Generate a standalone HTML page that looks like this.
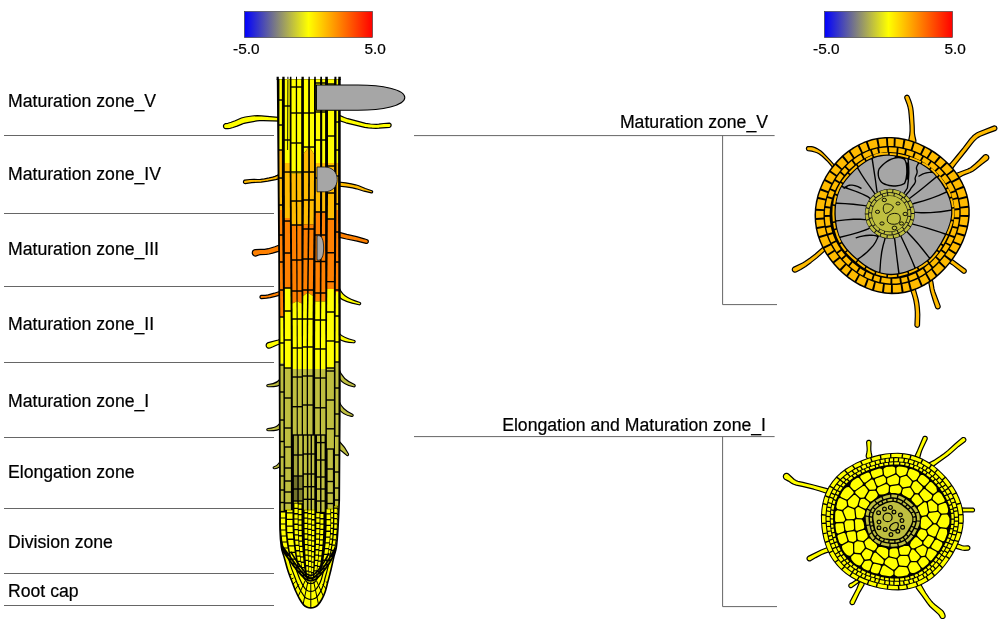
<!DOCTYPE html>
<html lang="en"><head><meta charset="utf-8"><title>Root expression map</title>
<style>
html,body{margin:0;padding:0;background:#fff;}
body{width:1000px;height:622px;overflow:hidden;font-family:"Liberation Sans",Arial,sans-serif;}
svg{display:block;}
text{font-family:"Liberation Sans",Arial,sans-serif;fill:#000;stroke:#000;stroke-width:0.22px;}
svg{will-change:transform;}
.t18{font-size:17.65px;}
.t16{font-size:15.4px;}
.ln{stroke:#666;stroke-width:1;}
</style></head><body>
<svg width="1000" height="622" viewBox="0 0 1000 622">
<defs><linearGradient id="cb" x1="0" x2="1" y1="0" y2="0"><stop offset="0" stop-color="#0000ff"/><stop offset="0.5" stop-color="#ffff00"/><stop offset="1" stop-color="#ff0000"/></linearGradient></defs>
<rect x="244.5" y="11.5" width="128" height="26" fill="url(#cb)" stroke="#333" stroke-width="0.6"/>
<text x="233.0" y="54" class="t16">-5.0</text>
<text x="364.5" y="54" class="t16">5.0</text>
<rect x="824.5" y="11.5" width="128" height="26" fill="url(#cb)" stroke="#333" stroke-width="0.6"/>
<text x="813.0" y="54" class="t16">-5.0</text>
<text x="944.5" y="54" class="t16">5.0</text>
<line x1="4" x2="274" y1="135.5" y2="135.5" class="ln"/>
<line x1="4" x2="274" y1="213.5" y2="213.5" class="ln"/>
<line x1="4" x2="274" y1="286.5" y2="286.5" class="ln"/>
<line x1="4" x2="274" y1="362.5" y2="362.5" class="ln"/>
<line x1="4" x2="274" y1="437.5" y2="437.5" class="ln"/>
<line x1="4" x2="274" y1="508.5" y2="508.5" class="ln"/>
<line x1="4" x2="274" y1="573.5" y2="573.5" class="ln"/>
<line x1="4" x2="274" y1="605.5" y2="605.5" class="ln"/>
<text x="8" y="106.5" class="t18">Maturation zone_V</text>
<text x="8" y="180" class="t18">Maturation zone_IV</text>
<text x="8" y="255" class="t18">Maturation zone_III</text>
<text x="8" y="329.5" class="t18">Maturation zone_II</text>
<text x="8" y="406.5" class="t18">Maturation zone_I</text>
<text x="8" y="478" class="t18">Elongation zone</text>
<text x="8" y="547.5" class="t18">Division zone</text>
<text x="8" y="597" class="t18">Root cap</text>
<path class="ln" fill="none" d="M414 135.6H774.6M722.6 135.6V304.6H777"/>
<path class="ln" fill="none" d="M414 436.6H774.6M722.6 436.6V606.6H777"/>
<text x="768" y="127.5" class="t18" text-anchor="end">Maturation zone_V</text>
<text x="766" y="431" class="t18" text-anchor="end">Elongation and Maturation zone_I</text>
<g id="root">
<path d="M241.4 118 235.2 120.8 231.1 122.3 227.9 123.3 225.3 123.7 224.7 124 224 124.6 223.5 125.5 223.5 126.5 223.8 127.5 224.2 128 224.7 128.4 225.7 128.7 227.9 128.7 229.7 128.5 233 127.5 237.1 126.1 242 124.1 244.1 123.3 246.3 122.8 257 120.9 259.7 120.6 263.4 120.6 281 121.2 281.7 121.1 282.3 120.7 282.7 120.1 282.9 119.4 282.7 118.7 282.3 118.1 281.9 117.8 281.2 117.6 261.5 115.8 257.4 115.6 252 116 245.2 117Z" fill="#ffff00" stroke="#000" stroke-width="1.2" stroke-linejoin="round"/>
<path d="M337.3 114.9 336.7 115.2 336.1 115.6 335.6 116.5 335.4 117.2 335.4 117.8 335.7 118.8 336.4 119.6 337 119.9 345.9 122.8 364.7 127.4 368.3 127.9 372.1 128.2 376 128.3 379 128.2 389.6 127.3 390.3 126.9 390.7 126.5 391.1 125.5 391.1 124.6 390.7 123.9 390.1 123.3 389.3 123.1 383.7 123.5 378.8 124.1 376.3 124.3 370.5 124 365.6 123.4 347.8 118.7 344.4 117.5 339 115.1 338 114.8Z" fill="#ffff00" stroke="#000" stroke-width="1.2" stroke-linejoin="round"/>
<path d="M253.6 179.3 249.9 179.5 244.7 180.1 244.1 180.4 243.7 180.9 243.5 181.6 243.5 182.3 243.8 182.9 244.1 183.2 244.7 183.5 245.2 183.6 251.8 182.6 261.1 182.2 267.8 181.2 275.7 179.7 282.9 177.8 283.4 177.5 284 176.8 284.3 175.9 284.3 175.3 284 174.4 283.4 173.7 282.6 173.3 281.7 173.3 281.1 173.4 277.2 175.4 275 176.4 272.5 177.1 269.1 177.9 264.4 178.8 260.5 179.4 257.9 179.5Z" fill="#ffbb00" stroke="#000" stroke-width="1.2" stroke-linejoin="round"/>
<path d="M337.5 182 336.6 182.6 336.1 183.2 336 184.3 336.1 184.8 336.6 185.4 337.5 186 346 186.8 352.5 187.9 356.4 188.8 364.1 191.2 371.3 192.9 372.1 192.8 372.4 192.5 372.6 192.1 372.6 191.4 372.3 191 371.9 190.7 365.3 188.5 358.8 185.8 355.6 184.8 351.3 183.8 345.7 182.8 338.3 182Z" fill="#ffbb00" stroke="#000" stroke-width="1.2" stroke-linejoin="round"/>
<path d="M260.7 249.4 255.1 249.6 253.9 250 252.9 250.8 252.4 252 252.3 253.2 252.7 254.4 253.2 255.1 253.9 255.6 254.7 255.9 255.5 256.1 256.3 255.9 258.8 255 260.2 254.6 266 254.5 269.1 254 272.6 253.2 277.7 251.7 284.4 249.1 285 248.6 285.5 248 285.8 247 285.8 246.2 285.5 245.2 284.7 244.3 283.7 243.8 282.6 243.8 274.8 246.7 268.3 248.7 264.6 249.4Z" fill="#ff8000" stroke="#000" stroke-width="1.2" stroke-linejoin="round"/>
<path d="M337.4 232.1 336.8 232.4 336.1 233 335.6 233.9 335.6 234.5 335.6 235.1 336.1 236 336.8 236.6 337.4 236.9 346.4 239 357.1 241.1 366.1 243.4 366.9 243.4 367.4 243.2 367.9 242.7 368.3 242 368.3 241 368.1 240.5 367.6 240 367.1 239.7 364.3 238.8 356.7 236.7 346.8 234.4 338.6 232.1 338 232.1Z" fill="#ff8000" stroke="#000" stroke-width="1.2" stroke-linejoin="round"/>
<path d="M268.2 294.8 265.3 295.3 261.2 295.4 260.6 295.7 260.2 296.2 260 296.8 260 297.4 260.3 298 260.6 298.3 261.2 298.6 261.6 298.6 266.6 298.2 270.2 297.6 275.4 296.3 282.7 294.3 283.3 293.9 283.6 293.5 283.8 293.1 283.8 292.4 283.6 291.7 283.1 291.1 282.5 290.8 281.8 290.8 274.3 293.2Z" fill="#ff8000" stroke="#000" stroke-width="1.2" stroke-linejoin="round"/>
<path d="M339 287 C341 294 346 298 360 302.5 C361.5 303.5 360.5 305 359 304.8 C350 303 343 301 339 297 Z" fill="#ffff00" stroke="#000" stroke-width="1.1" stroke-linejoin="round"/>
<path d="M278.2 340 268.3 342.6 267.3 343.1 266.5 344 266.2 345 266.2 346.1 266.7 347.1 267.6 347.9 268.3 348.2 269 348.2 270.1 348 273 346.8 277.5 344.7 284.1 342.5 284.9 341.7 285.1 340.6 285 339.8 284.5 339.1 283.8 338.6 283 338.5 282.4 338.5Z" fill="#ffff00" stroke="#000" stroke-width="1.2" stroke-linejoin="round"/>
<path d="M339 333 C342 337 348 339 354.5 340.5 C356 341.5 355 343 353.5 342.8 C347 342.5 342 341 339 339 Z" fill="#ffff00" stroke="#000" stroke-width="1.1" stroke-linejoin="round"/>
<path d="M281 377 C280 381 277 383.5 268 384.5 C266 385 266.5 386.8 268.5 386.8 C275 387 279 386 281.5 384 Z" fill="#bfbf40" stroke="#000" stroke-width="1.1" stroke-linejoin="round"/>
<path d="M339 369 C341 376 346 381 354.5 384.5 C356 385.5 355 387.2 353.5 386.8 C346 385.5 341.5 382 339 378 Z" fill="#bfbf40" stroke="#000" stroke-width="1.1" stroke-linejoin="round"/>
<path d="M281 420 C280 425 277 427.5 268 428.5 C266 429 266.5 430.8 268.5 430.8 C275 431 279 430 281.5 428 Z" fill="#bfbf40" stroke="#000" stroke-width="1.1" stroke-linejoin="round"/>
<path d="M339 401 C341 407 345 411 352.5 414.2 C354 415 353 416.8 351.5 416.4 C346 415.5 341.5 413 339 409 Z" fill="#bfbf40" stroke="#000" stroke-width="1.1" stroke-linejoin="round"/>
<path d="M281 458 C280 463 278 465.5 274 466.8 C272.5 467.4 273 469 274.8 468.8 C278 468.4 280.5 466.5 281.8 464 Z" fill="#bfbf40" stroke="#000" stroke-width="1.1" stroke-linejoin="round"/>
<path d="M339 441 C342 444 346 449 348.5 454 C349 455.5 347.5 456.2 346.5 455.2 C343.5 452.5 341 450.5 339 449.5 Z" fill="#bfbf40" stroke="#000" stroke-width="1.1" stroke-linejoin="round"/>
<path d="M277.6 79 L279 250 L279.6 400 L279.9 500  C279.9 505 279.8 522.2 280 530 C280.2 537.8 280.7 542.6 281.3 547 C281.9 551.4 282.8 552.6 283.9 556.4 C285 560.2 286.3 565.6 287.7 570 C289.1 574.4 291 579.1 292.4 582.7 C293.8 586.3 294.8 589.1 296 591.8 C297.2 594.5 298.3 596.8 299.6 599 C300.9 601.2 302.3 603.5 303.6 604.9 C304.9 606.3 306 606.8 307.2 607.3 C308.4 607.8 309.6 607.9 310.8 607.9 C312 607.9 313.2 607.8 314.4 607.3 C315.6 606.8 316.7 606.3 318 604.9 C319.3 603.5 320.8 601.2 322 599 C323.2 596.8 324.3 594.5 325.2 591.8 C326.1 589.1 326.7 586.3 327.6 582.7 C328.6 579.1 329.8 574.4 330.9 570 C332 565.6 333.1 560.2 334 556.4 C334.9 552.6 335.8 551.4 336.4 547 C337 542.6 337.4 537.8 337.9 530 C338.4 522.2 339.1 505 339.3 500 L339.9 400 L339.9 79 Z" fill="#000"/>
<path fill="#000" d="M276.6 76.8 H278.8 V80 H276.6 Z M282.3 76.8 H284.6 V80 H282.3 Z M287.4 76.8 H288.4 V80 H287.4 Z M289.9 76.8 H291.4 V80 H289.9 Z M296 76.8 H297 V80 H296 Z M301.5 76.8 H303.8 V80 H301.5 Z M308.5 76.8 H309.8 V80 H308.5 Z M314.2 76.8 H315.8 V80 H314.2 Z M320.3 76.8 H322 V80 H320.3 Z M325.3 76.8 H327.8 V80 H325.3 Z M334.4 76.8 H336.4 V80 H334.4 Z M338.3 76.8 H340.8 V80 H338.3 Z"/>
<path fill="#ffff00" d="M279.4 79.3 L281.9 79.3 L281.9 99.3 L279.4 99.3 Z"/>
<path fill="#ffff00" d="M279.4 100.7 L281.9 100.7 L281.9 124.3 L279.4 124.3 Z"/>
<path fill="#ffff00" d="M279.4 125.7 L281.9 125.7 L281.9 149.3 L279.4 149.3 Z"/>
<path fill="#ffbb00" d="M279.4 150.7 L281.9 150.7 L281.9 177.3 L279.4 177.3 Z"/>
<path fill="#ffbb00" d="M279.4 178.7 L281.9 178.7 L282 204.3 L279.5 204.3 Z"/>
<path fill="#ffbb00" d="M279.6 205.7 L282 205.7 L282.1 210 L279.6 210 Z"/>
<path fill="#ff8000" d="M279.6 210 L282.1 210 L282.3 234.3 L279.7 234.3 Z"/>
<path fill="#ff8000" d="M279.7 235.7 L282.3 235.7 L282.6 261.3 L279.9 261.3 Z"/>
<path fill="#ff8000" d="M279.9 262.7 L282.6 262.7 L282.9 289.3 L280.1 289.3 Z"/>
<path fill="#ff8000" d="M280.1 290.7 L282.9 290.7 L283.2 316.3 L280.3 316.3 Z"/>
<path fill="#ffff00" d="M280.3 317.7 L283.2 317.7 L283.4 342.3 L280.3 342.3 Z"/>
<path fill="#ffff00" d="M280.3 343.7 L283.4 343.7 L283.4 363 L280.3 363 Z"/>
<path fill="#bfbf40" d="M280.3 363 L283.4 363 L283.4 364.3 L280.3 364.3 Z"/>
<path fill="#bfbf40" d="M280.3 365.7 L283.4 365.7 L283.4 391.3 L280.3 391.3 Z"/>
<path fill="#bfbf40" d="M280.3 392.7 L283.4 392.7 L283.4 419.3 L280.3 419.3 Z"/>
<path fill="#bfbf40" d="M280.3 420.7 L283.4 420.7 L283.4 440.8 L280.3 440.8 Z"/>
<path fill="#ffff00" d="M284.8 79.3 L289.7 79.3 L289.7 105.3 L284.8 105.3 Z"/>
<path fill="#ffff00" d="M284.8 106.7 L289.7 106.7 L289.7 139.3 L284.8 139.3 Z"/>
<path fill="#ffff00" d="M284.8 140.7 L289.7 140.7 L289.7 163 L284.8 163 Z"/>
<path fill="#ffbb00" d="M284.8 163 L289.7 163 L289.7 171.3 L284.8 171.3 Z"/>
<path fill="#ffbb00" d="M284.8 172.7 L289.7 172.7 L289.9 218 L284.9 218 Z"/>
<path fill="#ff8000" d="M284.9 218 L289.9 218 L289.9 220.3 L284.9 220.3 Z"/>
<path fill="#ff8000" d="M284.9 221.7 L289.9 221.7 L290.1 252.3 L284.9 252.3 Z"/>
<path fill="#ff8000" d="M284.9 253.7 L290.2 253.7 L290.4 287.3 L284.9 287.3 Z"/>
<path fill="#ffff00" d="M284.9 288.7 L290.4 288.7 L290.6 310.3 L284.9 310.3 Z"/>
<path fill="#ffff00" d="M284.9 311.7 L290.6 311.7 L290.8 339.3 L284.9 339.3 Z"/>
<path fill="#ffff00" d="M284.9 340.7 L290.8 340.7 L290.8 367.3 L284.9 367.3 Z"/>
<path fill="#bfbf40" d="M284.9 368.7 L290.8 368.7 L290.8 397.3 L284.9 397.3 Z"/>
<path fill="#bfbf40" d="M284.9 398.7 L290.8 398.7 L290.8 427.3 L284.9 427.3 Z"/>
<path fill="#bfbf40" d="M284.9 428.7 L290.8 428.7 L290.8 446.3 L284.9 446.3 Z"/>
<path fill="#ffff00" d="M291.5 79.3 L295.8 79.3 L295.8 86.3 L291.5 86.3 Z"/>
<path fill="#ffff00" d="M291.5 87.7 L295.8 87.7 L295.8 112.3 L291.5 112.3 Z"/>
<path fill="#ffff00" d="M291.5 113.7 L295.8 113.7 L295.8 142.3 L291.5 142.3 Z"/>
<path fill="#ffff00" d="M291.5 143.7 L295.8 143.7 L295.8 171.3 L291.5 171.3 Z"/>
<path fill="#ffff00" d="M291.5 172.7 L295.8 172.7 L295.8 173.5 L291.5 173.5 Z"/>
<path fill="#ffbb00" d="M291.5 173.5 L295.8 173.5 L295.8 200.3 L291.6 200.3 Z"/>
<path fill="#ffbb00" d="M291.7 201.7 L295.8 201.7 L296 224.3 L291.8 224.3 Z"/>
<path fill="#ff8000" d="M291.9 225.7 L296 225.7 L296.2 259.3 L292.1 259.3 Z"/>
<path fill="#ff8000" d="M292.2 260.7 L296.2 260.7 L296.4 290.3 L292.4 290.3 Z"/>
<path fill="#ff8000" d="M292.4 291.7 L296.4 291.7 L296.5 301.5 L292.5 303.5 Z"/>
<path fill="#ffff00" d="M292.5 303.5 L296.5 301.5 L296.6 318.3 L292.6 318.3 Z"/>
<path fill="#ffff00" d="M292.7 319.7 L296.6 319.7 L296.7 347.3 L292.8 347.3 Z"/>
<path fill="#ffff00" d="M292.8 348.7 L296.7 348.7 L296.7 369 L292.8 369 Z"/>
<path fill="#bfbf40" d="M292.8 369 L296.7 369 L296.7 376.3 L292.8 376.3 Z"/>
<path fill="#bfbf40" d="M292.8 377.7 L296.7 377.7 L296.7 406 L292.8 406 Z"/>
<path fill="#bfbf40" d="M292.8 407.4 L296.7 407.4 L296.7 434.3 L292.8 434.3 Z"/>
<path fill="#ffff00" d="M297.1 79.3 L301.2 79.3 L301.2 86.3 L297.1 86.3 Z"/>
<path fill="#ffff00" d="M297.1 87.7 L301.2 87.7 L301.2 112.3 L297.1 112.3 Z"/>
<path fill="#ffff00" d="M297.1 113.7 L301.2 113.7 L301.2 142.3 L297.1 142.3 Z"/>
<path fill="#ffff00" d="M297.1 143.7 L301.2 143.7 L301.2 171.3 L297.1 171.3 Z"/>
<path fill="#ffff00" d="M297.1 172.7 L301.2 172.7 L301.2 173.5 L297.1 173.5 Z"/>
<path fill="#ffbb00" d="M297.1 173.5 L301.2 173.5 L301.3 200.3 L297.2 200.3 Z"/>
<path fill="#ffbb00" d="M297.2 201.7 L301.3 201.7 L301.3 224.3 L297.3 224.3 Z"/>
<path fill="#ff8000" d="M297.3 225.7 L301.4 225.7 L301.4 259.3 L297.4 259.3 Z"/>
<path fill="#ff8000" d="M297.5 260.7 L301.5 260.7 L301.5 290.3 L297.6 290.3 Z"/>
<path fill="#ff8000" d="M297.6 291.7 L301.5 291.7 L301.6 303.5 L297.6 301.5 Z"/>
<path fill="#ffff00" d="M297.6 301.5 L301.6 303.5 L301.6 318.3 L297.7 318.3 Z"/>
<path fill="#ffff00" d="M297.7 319.7 L301.6 319.7 L301.7 347.3 L297.8 347.3 Z"/>
<path fill="#ffff00" d="M297.8 348.7 L301.7 348.7 L301.7 369 L297.8 369 Z"/>
<path fill="#bfbf40" d="M297.8 369 L301.7 369 L301.7 376.3 L297.8 376.3 Z"/>
<path fill="#bfbf40" d="M297.8 377.7 L301.7 377.7 L301.7 406 L297.8 406 Z"/>
<path fill="#bfbf40" d="M297.8 407.4 L301.7 407.4 L301.7 434.3 L297.8 434.3 Z"/>
<path fill="#ffff00" d="M303.9 79.3 L308.2 79.3 L308.2 112.3 L303.9 112.3 Z"/>
<path fill="#ffff00" d="M303.9 113.7 L308.2 113.7 L308.2 146.3 L303.9 146.3 Z"/>
<path fill="#ffff00" d="M303.9 147.7 L308.2 147.7 L308.2 147.7 L303.9 153.5 Z"/>
<path fill="#ffbb00" d="M303.9 153.5 L308.2 147.7 L308.2 171.3 L303.9 171.3 Z"/>
<path fill="#ffbb00" d="M303.9 172.7 L308.2 172.7 L308.1 199.3 L303.9 199.3 Z"/>
<path fill="#ffbb00" d="M303.9 200.7 L308.1 200.7 L307.9 224.5 L303.7 224.5 Z"/>
<path fill="#ff8000" d="M303.7 224.5 L307.9 224.5 L307.8 228.3 L303.7 228.3 Z"/>
<path fill="#ff8000" d="M303.7 229.7 L307.8 229.7 L307.5 258.3 L303.5 258.3 Z"/>
<path fill="#ff8000" d="M303.5 259.7 L307.5 259.7 L307.1 289.3 L303.3 289.3 Z"/>
<path fill="#ff8000" d="M303.3 290.7 L307.1 290.7 L307.1 293 L303.3 296 Z"/>
<path fill="#ffff00" d="M303.3 296 L307.1 293 L306.8 318.3 L303.1 318.3 Z"/>
<path fill="#ffff00" d="M303.1 319.7 L306.8 319.7 L306.7 346.3 L303 346.3 Z"/>
<path fill="#ffff00" d="M303 347.7 L306.7 347.7 L306.7 369 L303 369 Z"/>
<path fill="#bfbf40" d="M303 369 L306.7 369 L306.7 375.3 L303 375.3 Z"/>
<path fill="#bfbf40" d="M303 376.7 L306.7 376.7 L306.7 404.3 L303 404.3 Z"/>
<path fill="#bfbf40" d="M303 405.7 L306.7 405.7 L306.7 434.3 L303 434.3 Z"/>
<path fill="#ffff00" d="M309.9 79.3 L314 79.3 L314 112.3 L309.9 112.3 Z"/>
<path fill="#ffff00" d="M309.9 113.7 L314 113.7 L314 146.3 L309.9 146.3 Z"/>
<path fill="#ffff00" d="M309.9 147.7 L314 147.7 L314 154 L309.9 147.7 Z"/>
<path fill="#ffbb00" d="M309.9 147.7 L314 154 L314 171.3 L309.9 171.3 Z"/>
<path fill="#ffbb00" d="M309.9 172.7 L314 172.7 L313.9 199.3 L309.8 199.3 Z"/>
<path fill="#ffbb00" d="M309.8 200.7 L313.8 200.7 L313.6 224.5 L309.5 224.5 Z"/>
<path fill="#ff8000" d="M309.5 224.5 L313.6 224.5 L313.5 228.3 L309.4 228.3 Z"/>
<path fill="#ff8000" d="M309.4 229.7 L313.5 229.7 L313.2 258.3 L309 258.3 Z"/>
<path fill="#ff8000" d="M309 259.7 L313.2 259.7 L312.9 289.3 L308.6 289.3 Z"/>
<path fill="#ff8000" d="M308.6 290.7 L312.9 290.7 L312.8 296 L308.6 293 Z"/>
<path fill="#ffff00" d="M308.6 293 L312.8 296 L312.6 318.3 L308.2 318.3 Z"/>
<path fill="#ffff00" d="M308.2 319.7 L312.6 319.7 L312.5 346.3 L308 346.3 Z"/>
<path fill="#ffff00" d="M308 347.7 L312.5 347.7 L312.5 369 L308 369 Z"/>
<path fill="#bfbf40" d="M308 369 L312.5 369 L312.5 375.3 L308 375.3 Z"/>
<path fill="#bfbf40" d="M308 376.7 L312.5 376.7 L312.5 404.3 L308 404.3 Z"/>
<path fill="#bfbf40" d="M308 405.7 L312.5 405.7 L312.5 434.3 L308 434.3 Z"/>
<path fill="#ffff00" d="M315.9 79.3 L320.1 79.3 L320.1 82.3 L315.9 82.3 Z"/>
<path fill="#ffff00" d="M315.9 83.7 L320.1 83.7 L320.1 111.3 L315.9 111.3 Z"/>
<path fill="#ffff00" d="M315.9 112.7 L320.1 112.7 L320.1 139.3 L315.9 139.3 Z"/>
<path fill="#ffff00" d="M315.9 140.7 L320.1 140.7 L320.1 163 L315.9 163 Z"/>
<path fill="#ffbb00" d="M315.9 163 L320.1 163 L320.1 177.3 L315.9 177.3 Z"/>
<path fill="#ffbb00" d="M315.9 178.7 L320.1 178.7 L320 211.3 L315.8 211 Z"/>
<path fill="#ff8000" d="M315.8 211 L320 211.3 L320 211.3 L315.8 211.3 Z"/>
<path fill="#ffbb00" d="M315.8 212.7 L320 212.7 L320 213 L315.8 212.7 Z"/>
<path fill="#ff8000" d="M315.8 212.7 L320 213 L320 234.3 L315.7 234.3 Z"/>
<path fill="#ff8000" d="M315.7 235.7 L320 235.7 L319.9 260.8 L315.5 260.8 Z"/>
<path fill="#ff8000" d="M315.5 262.2 L319.9 262.2 L319.8 292.3 L315.4 292.3 Z"/>
<path fill="#ff8000" d="M315.4 293.7 L319.8 293.7 L319.8 301.5 L315.3 301.5 Z"/>
<path fill="#ffff00" d="M315.3 301.5 L319.8 301.5 L319.8 319.3 L315.2 319.3 Z"/>
<path fill="#ffff00" d="M315.2 320.7 L319.8 320.7 L319.8 348.3 L315.1 348.3 Z"/>
<path fill="#ffff00" d="M315.1 349.7 L319.8 349.7 L319.8 369 L315.1 369 Z"/>
<path fill="#bfbf40" d="M315.1 369 L319.8 369 L319.8 377.3 L315.1 377.3 Z"/>
<path fill="#bfbf40" d="M315.1 378.7 L319.8 378.7 L319.8 407.1 L315.1 407.1 Z"/>
<path fill="#bfbf40" d="M315.1 408.5 L319.8 408.5 L319.8 434.3 L315.1 434.3 Z"/>
<path fill="#ffff00" d="M322.2 79.3 L325.1 79.3 L325.1 82.3 L322.2 82.3 Z"/>
<path fill="#ffff00" d="M322.2 83.7 L325.1 83.7 L325.1 111.3 L322.2 111.3 Z"/>
<path fill="#ffff00" d="M322.2 112.7 L325.1 112.7 L325.1 139.3 L322.2 139.3 Z"/>
<path fill="#ffff00" d="M322.2 140.7 L325.1 140.7 L325.1 163 L322.2 163 Z"/>
<path fill="#ffbb00" d="M322.2 163 L325.1 163 L325.1 177.3 L322.2 177.3 Z"/>
<path fill="#ffbb00" d="M322.2 178.7 L325.1 178.7 L325.1 211.3 L322.1 211.3 Z"/>
<path fill="#ff8000" d="M322.1 212.7 L325.1 212.7 L325.1 234.3 L321.9 234.3 Z"/>
<path fill="#ff8000" d="M321.9 235.7 L325.1 235.7 L325.2 260.8 L321.6 260.8 Z"/>
<path fill="#ff8000" d="M321.6 262.2 L325.2 262.2 L325.3 292.3 L321.4 292.3 Z"/>
<path fill="#ff8000" d="M321.4 293.7 L325.3 293.7 L325.3 301.5 L321.3 301.5 Z"/>
<path fill="#ffff00" d="M321.3 301.5 L325.3 301.5 L325.3 319.3 L321.1 319.3 Z"/>
<path fill="#ffff00" d="M321.1 320.7 L325.3 320.7 L325.4 348.3 L321 348.3 Z"/>
<path fill="#ffff00" d="M321 349.7 L325.4 349.7 L325.4 369 L321 369 Z"/>
<path fill="#bfbf40" d="M321 369 L325.4 369 L325.4 377.3 L321 377.3 Z"/>
<path fill="#bfbf40" d="M321 378.7 L325.4 378.7 L325.4 407.1 L321 407.1 Z"/>
<path fill="#bfbf40" d="M321 408.5 L325.4 408.5 L325.4 434.3 L321 434.3 Z"/>
<path fill="#ffff00" d="M328 79.3 L334.1 79.3 L334.1 83.3 L328 83.3 Z"/>
<path fill="#ffff00" d="M328 84.7 L334.1 84.7 L334.1 135.3 L328 135.3 Z"/>
<path fill="#ffff00" d="M328 136.7 L334.1 136.7 L334.1 163 L328 163 Z"/>
<path fill="#ffbb00" d="M328 163 L334.1 163 L334.1 165.3 L328 165.3 Z"/>
<path fill="#ffbb00" d="M328 166.7 L334.1 166.7 L334 192.3 L328 192.3 Z"/>
<path fill="#ffbb00" d="M328 193.7 L334 193.7 L334 218.3 L327.8 218.3 Z"/>
<path fill="#ff8000" d="M327.8 219.7 L334 219.7 L334 252 L327.6 252 Z"/>
<path fill="#ff8000" d="M327.6 253.4 L334 253.4 L333.9 280.9 L327.3 280.9 Z"/>
<path fill="#ff8000" d="M327.3 282.3 L333.9 282.3 L333.9 289 L327.3 289 Z"/>
<path fill="#ffff00" d="M327.3 289 L333.9 289 L333.9 311.3 L327.1 311.3 Z"/>
<path fill="#ffff00" d="M327.1 312.7 L333.9 312.7 L333.9 340.3 L326.9 340.3 Z"/>
<path fill="#ffff00" d="M326.9 341.7 L333.9 341.7 L333.9 367.3 L326.9 367.3 Z"/>
<path fill="#bfbf40" d="M326.9 368.7 L333.9 368.7 L333.9 370.3 L326.9 370.3 Z"/>
<path fill="#bfbf40" d="M326.9 371.7 L333.9 371.7 L333.9 399.3 L326.9 399.3 Z"/>
<path fill="#bfbf40" d="M326.9 400.7 L333.9 400.7 L333.9 428.1 L326.9 428.1 Z"/>
<path fill="#bfbf40" d="M326.9 429.5 L333.9 429.5 L333.9 448.3 L326.9 448.3 Z"/>
<path fill="#ffff00" d="M336.5 79.3 L338.1 79.3 L338.1 95.3 L336.5 95.3 Z"/>
<path fill="#ffff00" d="M336.5 96.7 L338.1 96.7 L338.1 121.3 L336.5 121.3 Z"/>
<path fill="#ffff00" d="M336.5 122.7 L338.1 122.7 L338.1 149.3 L336.5 149.3 Z"/>
<path fill="#ffff00" d="M336.5 150.7 L338.1 150.7 L338.1 163 L336.5 163 Z"/>
<path fill="#ffbb00" d="M336.5 163 L338.1 163 L338.1 175.3 L336.5 175.3 Z"/>
<path fill="#ffbb00" d="M336.5 176.7 L338.1 176.7 L338.1 203.3 L336.5 203.3 Z"/>
<path fill="#ffbb00" d="M336.4 204.7 L338.1 204.7 L338.1 210 L336.4 210 Z"/>
<path fill="#ff8000" d="M336.4 210 L338.1 210 L338.2 231.3 L336.3 231.3 Z"/>
<path fill="#ff8000" d="M336.2 232.7 L338.2 232.7 L338.3 261.3 L336 261.3 Z"/>
<path fill="#ff8000" d="M336 262.7 L338.3 262.7 L338.3 289.3 L335.8 289.3 Z"/>
<path fill="#ff8000" d="M335.8 290.7 L338.3 290.7 L338.3 292 L335.8 292 Z"/>
<path fill="#ffff00" d="M335.8 292 L338.3 292 L338.4 315.3 L335.7 315.3 Z"/>
<path fill="#ffff00" d="M335.6 316.7 L338.4 316.7 L338.5 341.3 L335.5 341.3 Z"/>
<path fill="#ffff00" d="M335.5 342.7 L338.5 342.7 L338.5 361.3 L335.5 361.3 Z"/>
<path fill="#bfbf40" d="M335.5 362.7 L338.5 362.7 L338.5 387.3 L335.5 387.3 Z"/>
<path fill="#bfbf40" d="M335.5 388.7 L338.5 388.7 L338.5 413.3 L335.5 413.3 Z"/>
<path fill="#bfbf40" d="M335.5 414.7 L338.5 414.7 L338.5 435.3 L335.5 435.3 Z"/>
<path fill="#bfbf40" d="M280.4 442.2 L283.6 442.2 L283.6 456.3 L280.4 456.3 Z"/>
<path fill="#bfbf40" d="M280.4 457.7 L283.6 457.7 L283.6 475.3 L280.4 475.3 Z"/>
<path fill="#bfbf40" d="M280.4 476.7 L283.6 476.7 L283.6 489.3 L280.4 489.3 Z"/>
<path fill="#bfbf40" d="M280.4 490.7 L283.6 490.7 L283.6 501.8 L280.4 501.8 Z"/>
<path fill="#bfbf40" d="M280.4 503.2 L283.6 503.2 L283.6 510 L280.4 510 Z"/>
<path fill="#ffff00" d="M280.4 510 L283.6 510 L283.6 510.7 L280.4 510.7 Z"/>
<path fill="#bfbf40" d="M285.2 447.7 L290.9 447.7 L290.9 467.3 L285.2 467.3 Z"/>
<path fill="#bfbf40" d="M285.2 468.7 L290.9 468.7 L290.9 480.3 L285.2 480.3 Z"/>
<path fill="#bfbf40" d="M285.2 481.7 L290.9 481.7 L290.9 491.3 L285.2 491.3 Z"/>
<path fill="#bfbf40" d="M285.2 492.7 L290.9 492.7 L290.9 502.3 L285.2 502.3 Z"/>
<path fill="#bfbf40" d="M285.2 503.7 L290.9 503.7 L290.9 509 L285.2 509 Z"/>
<path fill="#ffff00" d="M285.2 509 L290.9 509 L290.9 509.7 L285.2 509.7 Z"/>
<path fill="#a6a63a" d="M293.9 435.7 L297.3 435.7 L297.3 454.3 L293.9 454.3 Z"/>
<path fill="#a6a63a" d="M293.9 455.7 L297.3 455.7 L297.3 475.3 L293.9 475.3 Z"/>
<path fill="#73732b" d="M293.9 476.7 L297.3 476.7 L297.3 488.3 L293.9 488.3 Z"/>
<path fill="#73732b" d="M293.9 489.7 L297.3 489.7 L297.3 500.3 L293.9 500.3 Z"/>
<path fill="#bfbf40" d="M293.9 501.7 L297.3 501.7 L297.3 502.5 L293.9 502.5 Z"/>
<path fill="#ffff00" d="M293.9 502.5 L297.3 502.5 L297.3 503.2 L293.9 503.2 Z"/>
<path fill="#bfbf40" d="M298.8 435.7 L302.3 435.7 L302.3 454.3 L298.8 454.3 Z"/>
<path fill="#bfbf40" d="M298.8 455.7 L302.3 455.7 L302.3 475.3 L298.8 475.3 Z"/>
<path fill="#85852f" d="M298.8 476.7 L302.3 476.7 L302.3 488.3 L298.8 488.3 Z"/>
<path fill="#85852f" d="M298.8 489.7 L302.3 489.7 L302.3 500.3 L298.8 500.3 Z"/>
<path fill="#bfbf40" d="M298.8 501.7 L302.3 501.7 L302.3 502.5 L298.8 502.5 Z"/>
<path fill="#ffff00" d="M298.8 502.5 L302.3 502.5 L302.3 503.2 L298.8 503.2 Z"/>
<path fill="#bfbf40" d="M303.9 435.7 L306.9 435.7 L306.9 453.3 L303.9 453.3 Z"/>
<path fill="#bfbf40" d="M303.9 454.7 L306.9 454.7 L306.9 473.3 L303.9 473.3 Z"/>
<path fill="#bfbf40" d="M303.9 474.7 L306.9 474.7 L306.9 486 L303.9 486 Z"/>
<path fill="#bfbf40" d="M303.9 487.4 L306.9 487.4 L306.9 498.6 L303.9 498.6 Z"/>
<path fill="#bfbf40" d="M303.9 500 L306.9 500 L306.9 509 L303.9 509 Z"/>
<path fill="#ffff00" d="M303.9 509 L306.9 509 L306.9 509.7 L303.9 509.7 Z"/>
<path fill="#bfbf40" d="M308.4 435.7 L310.6 435.7 L310.6 453.3 L308.4 453.3 Z"/>
<path fill="#bfbf40" d="M308.4 454.7 L310.6 454.7 L310.6 473.3 L308.4 473.3 Z"/>
<path fill="#bfbf40" d="M308.4 474.7 L310.6 474.7 L310.6 486 L308.4 486 Z"/>
<path fill="#bfbf40" d="M308.4 487.4 L310.6 487.4 L310.6 498.6 L308.4 498.6 Z"/>
<path fill="#bfbf40" d="M308.4 500 L310.6 500 L310.6 509 L308.4 509 Z"/>
<path fill="#ffff00" d="M308.4 509 L310.6 509 L310.6 509.7 L308.4 509.7 Z"/>
<path fill="#bfbf40" d="M312 435.7 L314.3 435.7 L314.3 453.3 L312 453.3 Z"/>
<path fill="#bfbf40" d="M312 454.7 L314.3 454.7 L314.3 473.3 L312 473.3 Z"/>
<path fill="#bfbf40" d="M312 474.7 L314.3 474.7 L314.3 486 L312 486 Z"/>
<path fill="#bfbf40" d="M312 487.4 L314.3 487.4 L314.3 498.6 L312 498.6 Z"/>
<path fill="#bfbf40" d="M312 500 L314.3 500 L314.3 509 L312 509 Z"/>
<path fill="#ffff00" d="M312 509 L314.3 509 L314.3 509.7 L312 509.7 Z"/>
<path fill="#bfbf40" d="M317 435.7 L320 435.7 L320 441.9 L317 441.9 Z"/>
<path fill="#bfbf40" d="M317 443.3 L320 443.3 L320 459.3 L317 459.3 Z"/>
<path fill="#bfbf40" d="M317 460.7 L320 460.7 L320 476.3 L317 476.3 Z"/>
<path fill="#bfbf40" d="M317 477.7 L320 477.7 L320 488.3 L317 488.3 Z"/>
<path fill="#bfbf40" d="M317 489.7 L320 489.7 L320 500.3 L317 500.3 Z"/>
<path fill="#bfbf40" d="M317 501.7 L320 501.7 L320 511 L317 511 Z"/>
<path fill="#ffff00" d="M317 511 L320 511 L320 511.7 L317 511.7 Z"/>
<path fill="#bfbf40" d="M321.5 435.7 L324.6 435.7 L324.6 441.9 L321.5 441.9 Z"/>
<path fill="#bfbf40" d="M321.5 443.3 L324.6 443.3 L324.6 459.3 L321.5 459.3 Z"/>
<path fill="#bfbf40" d="M321.5 460.7 L324.6 460.7 L324.6 476.3 L321.5 476.3 Z"/>
<path fill="#bfbf40" d="M321.5 477.7 L324.6 477.7 L324.6 488.3 L321.5 488.3 Z"/>
<path fill="#bfbf40" d="M321.5 489.7 L324.6 489.7 L324.6 500.3 L321.5 500.3 Z"/>
<path fill="#bfbf40" d="M321.5 501.7 L324.6 501.7 L324.6 511 L321.5 511 Z"/>
<path fill="#ffff00" d="M321.5 511 L324.6 511 L324.6 511.7 L321.5 511.7 Z"/>
<path fill="#bfbf40" d="M327.6 449.7 L332.9 449.7 L332.9 468.3 L327.6 468.3 Z"/>
<path fill="#bfbf40" d="M327.6 469.7 L332.9 469.7 L332.9 480.8 L327.6 480.8 Z"/>
<path fill="#bfbf40" d="M327.6 482.2 L332.9 482.2 L332.9 492.3 L327.6 492.3 Z"/>
<path fill="#bfbf40" d="M327.6 493.7 L332.9 493.7 L332.9 502.8 L327.6 502.8 Z"/>
<path fill="#bfbf40" d="M327.6 504.2 L332.9 504.2 L332.9 508 L327.6 508 Z"/>
<path fill="#ffff00" d="M327.6 508 L332.9 508 L332.9 508.7 L327.6 508.7 Z"/>
<path fill="#bfbf40" d="M335 436.7 L338.6 436.7 L338.6 454.3 L335 454.3 Z"/>
<path fill="#bfbf40" d="M335 455.7 L338.6 455.7 L338.6 471.3 L335 471.3 Z"/>
<path fill="#bfbf40" d="M335 472.7 L338.6 472.7 L338.6 487.3 L335 487.3 Z"/>
<path fill="#bfbf40" d="M335 488.7 L338.6 488.7 L338.6 499.3 L335 499.3 Z"/>
<path fill="#bfbf40" d="M335 500.7 L338.6 500.7 L338.6 505 L335 505 Z"/>
<path fill="#ffff00" d="M335 505 L338.6 505 L338.6 505.7 L335 505.7 Z"/>
<path d="M287.9 80 L287.6 150" stroke="#000" stroke-width="0.9" fill="none"/>
<clipPath id="rp"><path d="M278 500 L279.0 530 L280.8 546.5 L281 546.5 C282.2 548.1 285.5 552.6 288 556 C290.5 559.4 293.6 563.9 296 567 C298.4 570.1 300.8 572.7 302.5 574.6 C304.2 576.5 305.1 577.5 306.5 578.3 C307.9 579.1 309.4 579.6 310.8 579.6 C312.2 579.6 313.6 579.1 315 578.3 C316.4 577.5 317.2 576.6 319 574.6 C320.8 572.6 323.9 568.9 326 566 C328.1 563.1 329.7 560 331.5 557 C333.3 554 335.8 549.5 336.6 548 L338.2 530 L340 500 Z"/></clipPath>
<clipPath id="ro"><path d="M277.6 79 L279 250 L279.6 400 L279.9 500  C279.9 505 279.8 522.2 280 530 C280.2 537.8 280.7 542.6 281.3 547 C281.9 551.4 282.8 552.6 283.9 556.4 C285 560.2 286.3 565.6 287.7 570 C289.1 574.4 291 579.1 292.4 582.7 C293.8 586.3 294.8 589.1 296 591.8 C297.2 594.5 298.3 596.8 299.6 599 C300.9 601.2 302.3 603.5 303.6 604.9 C304.9 606.3 306 606.8 307.2 607.3 C308.4 607.8 309.6 607.9 310.8 607.9 C312 607.9 313.2 607.8 314.4 607.3 C315.6 606.8 316.7 606.3 318 604.9 C319.3 603.5 320.8 601.2 322 599 C323.2 596.8 324.3 594.5 325.2 591.8 C326.1 589.1 326.7 586.3 327.6 582.7 C328.6 579.1 329.8 574.4 330.9 570 C332 565.6 333.1 560.2 334 556.4 C334.9 552.6 335.8 551.4 336.4 547 C337 542.6 337.4 537.8 337.9 530 C338.4 522.2 339.1 505 339.3 500 L339.9 400 L339.9 79 Z"/></clipPath>
<clipPath id="rc"><path d="M281 546.5 C282.2 548.1 285.5 552.6 288 556 C290.5 559.4 293.6 563.9 296 567 C298.4 570.1 300.8 572.7 302.5 574.6 C304.2 576.5 305.1 577.5 306.5 578.3 C307.9 579.1 309.4 579.6 310.8 579.6 C312.2 579.6 313.6 579.1 315 578.3 C316.4 577.5 317.2 576.6 319 574.6 C320.8 572.6 323.9 568.9 326 566 C328.1 563.1 329.7 560 331.5 557 C333.3 554 335.8 549.5 336.6 548 L341 548 L341 612 L277 612 L277 546 Z"/></clipPath>
<g clip-path="url(#ro)"><g clip-path="url(#rc)">
<path d="M277 540 H341 V612 H277 Z" fill="#ffff00"/>
<path fill="none" stroke="#000" stroke-width="1.2" d="M285.4 546.6 C285.8 548 286.7 551.5 287.7 554.8 C288.6 558.1 289.7 562.8 290.9 566.6 C292.2 570.3 293.8 574.4 295 577.5 C296.2 580.7 297 583.1 298.1 585.4 C299.1 587.8 300.1 589.8 301.2 591.7 C302.3 593.5 303.5 595.6 304.6 596.8 C305.7 598 306.7 598.4 307.7 598.8 C308.7 599.3 309.8 599.4 310.8 599.4 C311.8 599.4 312.9 599.3 313.9 598.8 C314.9 598.4 315.9 598 317 596.8 C318.1 595.6 319.4 593.5 320.4 591.7 C321.5 589.8 322.4 587.8 323.2 585.4 C324 583.1 324.4 580.7 325.2 577.5 C326.1 574.4 327.2 570.3 328.1 566.6 C329 562.8 330 558.1 330.8 554.8 C331.5 551.5 332.5 548 332.8 546.6"/>
<path fill="none" stroke="#000" stroke-width="1.2" d="M289.3 546.3 C289.6 547.5 290.4 550.4 291.2 553.3 C291.9 556.1 292.9 560.1 293.9 563.3 C295 566.6 296.4 570.1 297.4 572.8 C298.4 575.4 299.1 577.5 300 579.5 C300.9 581.5 301.7 583.2 302.6 584.8 C303.5 586.4 304.6 588.2 305.5 589.2 C306.5 590.2 307.3 590.6 308.2 591 C309 591.3 309.9 591.4 310.8 591.4 C311.7 591.4 312.6 591.3 313.4 591 C314.3 590.6 315.1 590.2 316.1 589.2 C317 588.2 318.1 586.4 319 584.8 C319.9 583.2 320.6 581.5 321.3 579.5 C322 577.5 322.4 575.4 323.1 572.8 C323.8 570.1 324.7 566.6 325.5 563.3 C326.3 560.1 327.1 556.1 327.7 553.3 C328.4 550.4 329.2 547.5 329.5 546.3"/>
<path fill="none" stroke="#000" stroke-width="1.2" d="M293.1 546 C293.4 546.9 294 549.4 294.7 551.8 C295.3 554.1 296.1 557.4 296.9 560.1 C297.8 562.8 298.9 565.7 299.8 568 C300.6 570.2 301.2 571.9 301.9 573.6 C302.6 575.2 303.3 576.7 304.1 578 C304.8 579.4 305.7 580.8 306.5 581.6 C307.2 582.5 307.9 582.8 308.6 583.1 C309.4 583.4 310.1 583.5 310.8 583.5 C311.5 583.5 312.2 583.4 313 583.1 C313.7 582.8 314.4 582.5 315.1 581.6 C315.9 580.8 316.8 579.4 317.5 578 C318.2 576.7 318.9 575.2 319.4 573.6 C320 571.9 320.3 570.2 320.9 568 C321.4 565.7 322.2 562.8 322.9 560.1 C323.5 557.4 324.2 554.1 324.7 551.8 C325.3 549.4 325.9 546.9 326.2 546"/>
<path stroke="#000" stroke-width="1" d="M329.8 574.2 L360.3 584.1"/>
<path stroke="#000" stroke-width="1" d="M328.1 578 L355.8 594"/>
<path stroke="#000" stroke-width="1" d="M325.7 581.4 L349.4 602.8"/>
<path stroke="#000" stroke-width="1" d="M322.6 584.2 L341.4 610.1"/>
<path stroke="#000" stroke-width="1" d="M316.5 580.8 L332 615.5"/>
<path stroke="#000" stroke-width="1" d="M313.7 581.7 L321.6 618.9"/>
<path stroke="#000" stroke-width="1" d="M310.8 582 L310.8 620"/>
<path stroke="#000" stroke-width="1" d="M307.9 581.7 L300 618.9"/>
<path stroke="#000" stroke-width="1" d="M305.1 580.8 L289.6 615.5"/>
<path stroke="#000" stroke-width="1" d="M299 584.2 L280.2 610.1"/>
<path stroke="#000" stroke-width="1" d="M295.9 581.4 L272.2 602.8"/>
<path stroke="#000" stroke-width="1" d="M293.5 578 L265.8 594"/>
<path stroke="#000" stroke-width="1" d="M291.8 574.2 L261.3 584.1"/>
</g></g>
<g clip-path="url(#rp)">
<path fill="#ffff00" d="M280.9 512.6 L285.2 512.6 L285.2 517.4 L280.9 517.4 Z"/>
<path fill="#ffff00" d="M280.9 518.6 L285.2 518.6 L285.2 523.4 L280.9 523.4 Z"/>
<path fill="#ffff00" d="M280.9 524.6 L285.2 524.6 L285.4 529.4 L281.1 529.4 Z"/>
<path fill="#ffff00" d="M281.2 530.6 L285.5 530.6 L285.8 535.4 L281.6 535.4 Z"/>
<path fill="#ffff00" d="M281.8 536.6 L286 536.6 L286.5 541.4 L282.4 541.4 Z"/>
<path fill="#ffff00" d="M282.7 542.6 L286.7 542.6 L287.5 547.4 L283.6 547.4 Z"/>
<path fill="#ffff00" d="M283.8 548.6 L287.7 548.6 L288.7 553.4 L285 553.4 Z"/>
<path fill="#ffff00" d="M285.3 554.6 L289 554.6 L290.1 559.4 L286.7 559.4 Z"/>
<path fill="#ffff00" d="M287.1 560.6 L290.5 560.6 L291.9 565.4 L288.7 565.4 Z"/>
<path fill="#ffff00" d="M289.2 566.6 L292.3 566.6 L293.8 571.4 L291 571.4 Z"/>
<path fill="#ffff00" d="M291.5 572.6 L294.3 572.6 L296.1 577.4 L293.6 577.4 Z"/>
<path fill="#ffff00" d="M294.2 578.6 L296.6 578.6 L298.5 583.4 L296.5 583.4 Z"/>
<path fill="#ffff00" d="M287 510.2 L292.5 510.2 L292.5 512.2 L287 512.2 Z"/>
<path fill="#ffff00" d="M287 513.5 L292.5 513.5 L292.5 518.8 L287 518.8 Z"/>
<path fill="#ffff00" d="M287 520.1 L292.5 520.1 L292.5 525.4 L287 525.4 Z"/>
<path fill="#ffff00" d="M287.1 526.7 L292.6 526.7 L292.8 532 L287.3 532 Z"/>
<path fill="#ffff00" d="M287.4 533.3 L292.8 533.3 L293.2 538.6 L287.9 538.6 Z"/>
<path fill="#ffff00" d="M288.1 539.9 L293.3 539.9 L293.9 545.2 L288.8 545.2 Z"/>
<path fill="#ffff00" d="M289 546.5 L294 546.5 L294.7 551.8 L289.9 551.8 Z"/>
<path fill="#ffff00" d="M290.2 553.1 L294.9 553.1 L295.8 558.4 L291.4 558.4 Z"/>
<path fill="#ffff00" d="M291.7 559.7 L296.1 559.7 L297.2 565 L293.1 565 Z"/>
<path fill="#ffff00" d="M293.5 566.3 L297.5 566.3 L298.7 571.6 L295.1 571.6 Z"/>
<path fill="#ffff00" d="M295.5 572.9 L299 572.9 L300.5 578.2 L297.4 578.2 Z"/>
<path fill="#ffff00" d="M297.9 579.5 L300.9 579.5 L302.5 584.8 L300 584.8 Z"/>
<path fill="#ffff00" d="M294.4 503.8 L297.7 503.8 L297.7 507.8 L294.4 507.8 Z"/>
<path fill="#ffff00" d="M294.4 509.1 L297.7 509.1 L297.7 513.1 L294.4 513.1 Z"/>
<path fill="#ffff00" d="M294.4 514.4 L297.7 514.4 L297.7 518.4 L294.4 518.4 Z"/>
<path fill="#ffff00" d="M294.4 519.6 L297.7 519.6 L297.7 523.6 L294.4 523.6 Z"/>
<path fill="#ffff00" d="M294.4 524.9 L297.7 524.9 L297.8 528.9 L294.5 528.9 Z"/>
<path fill="#ffff00" d="M294.6 530.2 L297.8 530.2 L298 534.2 L294.7 534.2 Z"/>
<path fill="#ffff00" d="M294.8 535.5 L298 535.5 L298.3 539.5 L295.1 539.5 Z"/>
<path fill="#ffff00" d="M295.2 540.8 L298.3 540.8 L298.6 544.8 L295.6 544.8 Z"/>
<path fill="#ffff00" d="M295.7 546.1 L298.8 546.1 L299.1 550.1 L296.2 550.1 Z"/>
<path fill="#ffff00" d="M296.4 551.4 L299.3 551.4 L299.7 555.4 L296.9 555.4 Z"/>
<path fill="#ffff00" d="M297.1 556.7 L299.9 556.7 L300.4 560.7 L297.8 560.7 Z"/>
<path fill="#ffff00" d="M298 562 L300.6 562 L301.2 566 L298.8 566 Z"/>
<path fill="#ffff00" d="M299.1 567.3 L301.4 567.3 L302.1 571.3 L299.9 571.3 Z"/>
<path fill="#ffff00" d="M300.2 572.6 L302.3 572.6 L303.1 576.6 L301.2 576.6 Z"/>
<path fill="#ffff00" d="M301.5 577.9 L303.4 577.9 L304.2 581.9 L302.5 581.9 Z"/>
<path fill="#ffff00" d="M298.6 504.6 L301.5 504.6 L301.5 508.6 L298.6 508.6 Z"/>
<path fill="#ffff00" d="M298.6 509.9 L301.5 509.9 L301.5 513.9 L298.6 513.9 Z"/>
<path fill="#ffff00" d="M298.6 515.2 L301.5 515.2 L301.5 519.2 L298.6 519.2 Z"/>
<path fill="#ffff00" d="M298.6 520.5 L301.5 520.5 L301.5 524.5 L298.6 524.5 Z"/>
<path fill="#ffff00" d="M298.6 525.8 L301.5 525.8 L301.6 529.8 L298.7 529.8 Z"/>
<path fill="#ffff00" d="M298.7 531.1 L301.6 531.1 L301.7 535.1 L298.9 535.1 Z"/>
<path fill="#ffff00" d="M298.9 536.4 L301.8 536.4 L301.9 540.4 L299.2 540.4 Z"/>
<path fill="#ffff00" d="M299.3 541.7 L302 541.7 L302.2 545.7 L299.5 545.7 Z"/>
<path fill="#ffff00" d="M299.7 547 L302.3 547 L302.6 551 L300 551 Z"/>
<path fill="#ffff00" d="M300.1 552.3 L302.7 552.3 L303 556.3 L300.6 556.3 Z"/>
<path fill="#ffff00" d="M300.7 557.6 L303.1 557.6 L303.5 561.6 L301.2 561.6 Z"/>
<path fill="#ffff00" d="M301.4 562.9 L303.6 562.9 L304.1 566.9 L302 566.9 Z"/>
<path fill="#ffff00" d="M302.2 568.2 L304.2 568.2 L304.7 572.2 L302.8 572.2 Z"/>
<path fill="#ffff00" d="M303.1 573.5 L304.9 573.5 L305.4 577.5 L303.8 577.5 Z"/>
<path fill="#ffff00" d="M304 578.8 L305.6 578.8 L306.2 582.8 L304.8 582.8 Z"/>
<path fill="#ffff00" d="M304.5 510.2 L307.3 510.2 L307.3 512.1 L304.5 512.1 Z"/>
<path fill="#ffff00" d="M304.5 513.4 L307.3 513.4 L307.3 517.4 L304.5 517.4 Z"/>
<path fill="#ffff00" d="M304.5 518.7 L307.3 518.7 L307.3 522.7 L304.5 522.7 Z"/>
<path fill="#ffff00" d="M304.5 524 L307.3 524 L307.3 528 L304.5 528 Z"/>
<path fill="#ffff00" d="M304.5 529.3 L307.3 529.3 L307.4 533.3 L304.6 533.3 Z"/>
<path fill="#ffff00" d="M304.6 534.6 L307.4 534.6 L307.4 538.6 L304.7 538.6 Z"/>
<path fill="#ffff00" d="M304.8 539.9 L307.5 539.9 L307.5 543.9 L304.9 543.9 Z"/>
<path fill="#ffff00" d="M305 545.2 L307.6 545.2 L307.6 549.2 L305.1 549.2 Z"/>
<path fill="#ffff00" d="M305.2 550.5 L307.7 550.5 L307.8 554.5 L305.4 554.5 Z"/>
<path fill="#ffff00" d="M305.5 555.8 L307.8 555.8 L308 559.8 L305.7 559.8 Z"/>
<path fill="#ffff00" d="M305.8 561.1 L308 561.1 L308.2 565.1 L306.1 565.1 Z"/>
<path fill="#ffff00" d="M306.2 566.4 L308.2 566.4 L308.4 570.4 L306.5 570.4 Z"/>
<path fill="#ffff00" d="M306.6 571.7 L308.5 571.7 L308.7 575.7 L307 575.7 Z"/>
<path fill="#ffff00" d="M307.1 577 L308.7 577 L308.9 581 L307.5 581 Z"/>
<path fill="#ffff00" d="M307.6 582.3 L309 582.3 L309.3 586.3 L308.1 586.3 Z"/>
<path fill="#ffff00" d="M308.2 510.2 L311.2 510.2 L311.2 513 L308.2 513 Z"/>
<path fill="#ffff00" d="M308.2 514.2 L311.2 514.2 L311.2 518.2 L308.2 518.2 Z"/>
<path fill="#ffff00" d="M308.2 519.5 L311.2 519.5 L311.2 523.5 L308.2 523.5 Z"/>
<path fill="#ffff00" d="M308.2 524.8 L311.2 524.8 L311.2 528.8 L308.2 528.8 Z"/>
<path fill="#ffff00" d="M308.2 530.1 L311.2 530.1 L311.2 534.1 L308.3 534.1 Z"/>
<path fill="#ffff00" d="M308.3 535.4 L311.2 535.4 L311.2 539.4 L308.3 539.4 Z"/>
<path fill="#ffff00" d="M308.3 540.7 L311.2 540.7 L311.2 544.7 L308.4 544.7 Z"/>
<path fill="#ffff00" d="M308.4 546 L311.2 546 L311.1 550 L308.5 550 Z"/>
<path fill="#ffff00" d="M308.5 551.3 L311.1 551.3 L311.1 555.3 L308.6 555.3 Z"/>
<path fill="#ffff00" d="M308.6 556.6 L311.1 556.6 L311.1 560.6 L308.7 560.6 Z"/>
<path fill="#ffff00" d="M308.8 561.9 L311.1 561.9 L311.1 565.9 L308.9 565.9 Z"/>
<path fill="#ffff00" d="M308.9 567.2 L311.1 567.2 L311 571.2 L309 571.2 Z"/>
<path fill="#ffff00" d="M309.1 572.5 L311 572.5 L311 576.5 L309.2 576.5 Z"/>
<path fill="#ffff00" d="M309.3 577.8 L311 577.8 L311 581.8 L309.4 581.8 Z"/>
<path fill="#ffff00" d="M311.9 510.2 L314.4 510.2 L314.4 513.8 L311.9 513.8 Z"/>
<path fill="#ffff00" d="M311.9 515.1 L314.4 515.1 L314.4 519.1 L311.9 519.1 Z"/>
<path fill="#ffff00" d="M311.9 520.4 L314.4 520.4 L314.4 524.4 L311.9 524.4 Z"/>
<path fill="#ffff00" d="M311.9 525.7 L314.4 525.7 L314.4 529.7 L311.9 529.7 Z"/>
<path fill="#ffff00" d="M311.9 531 L314.4 531 L314.3 535 L311.9 535 Z"/>
<path fill="#ffff00" d="M311.9 536.3 L314.3 536.3 L314.2 540.3 L311.8 540.3 Z"/>
<path fill="#ffff00" d="M311.8 541.6 L314.2 541.6 L314.1 545.6 L311.8 545.6 Z"/>
<path fill="#ffff00" d="M311.8 546.9 L314.1 546.9 L314 550.9 L311.8 550.9 Z"/>
<path fill="#ffff00" d="M311.7 552.2 L313.9 552.2 L313.8 556.2 L311.7 556.2 Z"/>
<path fill="#ffff00" d="M311.7 557.5 L313.8 557.5 L313.6 561.5 L311.6 561.5 Z"/>
<path fill="#ffff00" d="M311.6 562.8 L313.5 562.8 L313.4 566.8 L311.6 566.8 Z"/>
<path fill="#ffff00" d="M311.5 568.1 L313.3 568.1 L313.1 572.1 L311.5 572.1 Z"/>
<path fill="#ffff00" d="M311.5 573.4 L313 573.4 L312.8 577.4 L311.4 577.4 Z"/>
<path fill="#ffff00" d="M311.4 578.7 L312.7 578.7 L312.5 582.7 L311.3 582.7 Z"/>
<path fill="#ffff00" d="M316.3 513.3 L319.5 513.3 L319.5 517.3 L316.3 517.3 Z"/>
<path fill="#ffff00" d="M316.3 518.6 L319.5 518.6 L319.5 522.6 L316.3 522.6 Z"/>
<path fill="#ffff00" d="M316.3 523.9 L319.5 523.9 L319.5 527.9 L316.3 527.9 Z"/>
<path fill="#ffff00" d="M316.3 529.2 L319.4 529.2 L319.3 533.2 L316.2 533.2 Z"/>
<path fill="#ffff00" d="M316.2 534.5 L319.3 534.5 L319.2 538.5 L316.1 538.5 Z"/>
<path fill="#ffff00" d="M316.1 539.8 L319.1 539.8 L318.9 543.8 L315.9 543.8 Z"/>
<path fill="#ffff00" d="M315.9 545.1 L318.8 545.1 L318.6 549.1 L315.7 549.1 Z"/>
<path fill="#ffff00" d="M315.7 550.4 L318.5 550.4 L318.2 554.4 L315.5 554.4 Z"/>
<path fill="#ffff00" d="M315.4 555.7 L318.1 555.7 L317.8 559.7 L315.2 559.7 Z"/>
<path fill="#ffff00" d="M315.1 561 L317.6 561 L317.2 565 L314.9 565 Z"/>
<path fill="#ffff00" d="M314.8 566.3 L317.1 566.3 L316.6 570.3 L314.5 570.3 Z"/>
<path fill="#ffff00" d="M314.4 571.6 L316.5 571.6 L316 575.6 L314.1 575.6 Z"/>
<path fill="#ffff00" d="M314 576.9 L315.8 576.9 L315.3 580.9 L313.6 580.9 Z"/>
<path fill="#ffff00" d="M313.5 582.2 L315.1 582.2 L314.5 586.2 L313.1 586.2 Z"/>
<path fill="#ffff00" d="M320.4 514.1 L323.4 514.1 L323.4 518.1 L320.4 518.1 Z"/>
<path fill="#ffff00" d="M320.4 519.4 L323.4 519.4 L323.4 523.4 L320.4 523.4 Z"/>
<path fill="#ffff00" d="M320.4 524.7 L323.4 524.7 L323.3 528.7 L320.3 528.7 Z"/>
<path fill="#ffff00" d="M320.3 530 L323.3 530 L323.1 534 L320.2 534 Z"/>
<path fill="#ffff00" d="M320.2 535.3 L323.1 535.3 L322.9 539.3 L320 539.3 Z"/>
<path fill="#ffff00" d="M319.9 540.6 L322.8 540.6 L322.5 544.6 L319.7 544.6 Z"/>
<path fill="#ffff00" d="M319.6 545.9 L322.4 545.9 L322 549.9 L319.3 549.9 Z"/>
<path fill="#ffff00" d="M319.2 551.2 L321.9 551.2 L321.4 555.2 L318.9 555.2 Z"/>
<path fill="#ffff00" d="M318.8 556.5 L321.3 556.5 L320.8 560.5 L318.4 560.5 Z"/>
<path fill="#ffff00" d="M318.3 561.8 L320.6 561.8 L320 565.8 L317.8 565.8 Z"/>
<path fill="#ffff00" d="M317.7 567.1 L319.8 567.1 L319.1 571.1 L317.1 571.1 Z"/>
<path fill="#ffff00" d="M317 572.4 L318.9 572.4 L318.2 576.4 L316.4 576.4 Z"/>
<path fill="#ffff00" d="M316.2 577.7 L317.9 577.7 L317.1 581.7 L315.6 581.7 Z"/>
<path fill="#ffff00" d="M326.6 509.2 L330.4 509.2 L330.4 513.2 L326.6 513.2 Z"/>
<path fill="#ffff00" d="M326.6 514.5 L330.4 514.5 L330.4 519 L326.6 519 Z"/>
<path fill="#ffff00" d="M326.6 520.3 L330.4 520.3 L330.4 524.8 L326.6 524.8 Z"/>
<path fill="#ffff00" d="M326.6 526.1 L330.4 526.1 L330.2 530.6 L326.4 530.6 Z"/>
<path fill="#ffff00" d="M326.4 531.9 L330.1 531.9 L329.8 536.4 L326.1 536.4 Z"/>
<path fill="#ffff00" d="M326.1 537.7 L329.7 537.7 L329.3 542.2 L325.7 542.2 Z"/>
<path fill="#ffff00" d="M325.6 543.5 L329.1 543.5 L328.6 548 L325.1 548 Z"/>
<path fill="#ffff00" d="M325 549.3 L328.4 549.3 L327.6 553.8 L324.4 553.8 Z"/>
<path fill="#ffff00" d="M324.2 555.1 L327.4 555.1 L326.5 559.6 L323.5 559.6 Z"/>
<path fill="#ffff00" d="M323.3 560.9 L326.3 560.9 L325.2 565.4 L322.4 565.4 Z"/>
<path fill="#ffff00" d="M322.2 566.7 L324.9 566.7 L323.8 571.2 L321.3 571.2 Z"/>
<path fill="#ffff00" d="M321 572.5 L323.4 572.5 L322.1 577 L319.9 577 Z"/>
<path fill="#ffff00" d="M319.6 578.3 L321.7 578.3 L320.3 582.8 L318.4 582.8 Z"/>
<path fill="#ffff00" d="M331.1 509.2 L333 509.2 L333 511.9 L331.1 511.9 Z"/>
<path fill="#ffff00" d="M331.1 513.2 L333 513.2 L333 517.2 L331.1 517.2 Z"/>
<path fill="#ffff00" d="M331.1 518.5 L333 518.5 L333 522.5 L331.1 522.5 Z"/>
<path fill="#ffff00" d="M331.1 523.8 L333 523.8 L332.9 527.8 L331 527.8 Z"/>
<path fill="#ffff00" d="M331 529.1 L332.8 529.1 L332.6 533.1 L330.8 533.1 Z"/>
<path fill="#ffff00" d="M330.7 534.4 L332.5 534.4 L332.2 538.4 L330.3 538.4 Z"/>
<path fill="#ffff00" d="M330.2 539.7 L332 539.7 L331.5 543.7 L329.8 543.7 Z"/>
<path fill="#ffff00" d="M329.6 545 L331.4 545 L330.7 549 L329 549 Z"/>
<path fill="#ffff00" d="M328.8 550.3 L330.5 550.3 L329.8 554.3 L328.1 554.3 Z"/>
<path fill="#ffff00" d="M327.9 555.6 L329.5 555.6 L328.6 559.6 L327.1 559.6 Z"/>
<path fill="#ffff00" d="M326.8 560.9 L328.3 560.9 L327.3 564.9 L325.9 564.9 Z"/>
<path fill="#ffff00" d="M325.6 566.2 L326.9 566.2 L325.8 570.2 L324.5 570.2 Z"/>
<path fill="#ffff00" d="M324.2 571.5 L325.4 571.5 L324.1 575.5 L323 575.5 Z"/>
<path fill="#ffff00" d="M322.6 576.8 L323.7 576.8 L322.3 580.8 L321.3 580.8 Z"/>
<path fill="#ffff00" d="M320.9 582.1 L321.8 582.1 L320.3 586.1 L319.5 586.1 Z"/>
<path fill="#ffff00" d="M334.3 506.2 L336.9 506.2 L336.9 507.4 L334.3 507.4 Z"/>
<path fill="#ffff00" d="M334.3 508.7 L336.9 508.7 L336.9 512.8 L334.3 512.8 Z"/>
<path fill="#ffff00" d="M334.3 514 L336.9 514 L336.9 518 L334.3 518 Z"/>
<path fill="#ffff00" d="M334.3 519.3 L336.9 519.3 L336.9 523.3 L334.3 523.3 Z"/>
<path fill="#ffff00" d="M334.3 524.6 L336.9 524.6 L336.7 528.6 L334.2 528.6 Z"/>
<path fill="#ffff00" d="M334.1 529.9 L336.7 529.9 L336.4 533.9 L333.8 533.9 Z"/>
<path fill="#ffff00" d="M333.7 535.2 L336.3 535.2 L335.8 539.2 L333.3 539.2 Z"/>
<path fill="#ffff00" d="M333.2 540.5 L335.6 540.5 L335 544.5 L332.6 544.5 Z"/>
<path fill="#ffff00" d="M332.4 545.8 L334.8 545.8 L334.1 549.8 L331.8 549.8 Z"/>
<path fill="#ffff00" d="M331.5 551.1 L333.8 551.1 L332.9 555.1 L330.7 555.1 Z"/>
<path fill="#ffff00" d="M330.4 556.4 L332.6 556.4 L331.5 560.4 L329.5 560.4 Z"/>
<path fill="#ffff00" d="M329.1 561.7 L331.2 561.7 L329.9 565.7 L328 565.7 Z"/>
<path fill="#ffff00" d="M327.6 567 L329.5 567 L328.1 571 L326.4 571 Z"/>
<path fill="#ffff00" d="M326 572.3 L327.7 572.3 L326.2 576.3 L324.6 576.3 Z"/>
<path fill="#ffff00" d="M324.1 577.6 L325.6 577.6 L324 581.6 L322.6 581.6 Z"/>
<path fill="#ffff00" d="M337.6 506.2 L338.8 506.2 L338.8 508.3 L337.6 508.3 Z"/>
<path fill="#ffff00" d="M337.6 509.6 L338.8 509.6 L338.8 513.6 L337.6 513.6 Z"/>
<path fill="#ffff00" d="M337.6 514.9 L338.8 514.9 L338.8 518.9 L337.6 518.9 Z"/>
<path fill="#ffff00" d="M337.6 520.2 L338.8 520.2 L338.8 524.2 L337.6 524.2 Z"/>
<path fill="#ffff00" d="M337.6 525.5 L338.8 525.5 L338.6 529.5 L337.4 529.5 Z"/>
<path fill="#ffff00" d="M337.3 530.8 L338.5 530.8 L338.2 534.8 L337 534.8 Z"/>
<path fill="#ffff00" d="M336.9 536.1 L338 536.1 L337.5 540.1 L336.4 540.1 Z"/>
<path fill="#ffff00" d="M336.2 541.4 L337.3 541.4 L336.7 545.4 L335.6 545.4 Z"/>
<path fill="#ffff00" d="M335.3 546.7 L336.4 546.7 L335.6 550.7 L334.5 550.7 Z"/>
<path fill="#ffff00" d="M334.2 552 L335.3 552 L334.3 556 L333.3 556 Z"/>
<path fill="#ffff00" d="M332.9 557.3 L333.9 557.3 L332.8 561.3 L331.8 561.3 Z"/>
<path fill="#ffff00" d="M331.4 562.6 L332.4 562.6 L331 566.6 L330.2 566.6 Z"/>
<path fill="#ffff00" d="M329.7 567.9 L330.6 567.9 L329.1 571.9 L328.3 571.9 Z"/>
<path fill="#ffff00" d="M327.8 573.2 L328.6 573.2 L326.9 577.2 L326.2 577.2 Z"/>
<path fill="#ffff00" d="M325.7 578.5 L326.3 578.5 L324.5 582.5 L323.9 582.5 Z"/>
</g>
<g clip-path="url(#ro)">
<path d="M281 546.5 C282.2 548.1 285.5 552.6 288 556 C290.5 559.4 293.6 563.9 296 567 C298.4 570.1 300.8 572.7 302.5 574.6 C304.2 576.5 305.1 577.5 306.5 578.3 C307.9 579.1 309.4 579.6 310.8 579.6 C312.2 579.6 313.6 579.1 315 578.3 C316.4 577.5 317.2 576.6 319 574.6 C320.8 572.6 323.9 568.9 326 566 C328.1 563.1 329.7 560 331.5 557 C333.3 554 335.8 549.5 336.6 548" fill="none" stroke="#000" stroke-width="4.2" stroke-linejoin="round"/>
<path d="M290.7 551.8 C291.9 553.6 295.6 559.7 297.8 562.8 C299.9 565.9 302 568.5 303.5 570.4 C305 572.3 305.8 573.3 307 574.1 C308.2 574.9 309.6 575.4 310.8 575.4 C312 575.4 313.3 574.9 314.5 574.1 C315.7 573.3 316.4 572.4 318 570.4 C319.6 568.4 322.3 564.7 324.2 561.8 C326 558.9 328.2 554.3 329 552.8" fill="none" stroke="#000" stroke-width="1.6" stroke-linejoin="round"/>
</g>
<path d="M288 556 C289.3 557.8 293.6 563.9 296 567 C298.4 570.1 300.8 572.7 302.5 574.6 C304.2 576.5 305.1 577.5 306.5 578.3 C307.9 579.1 309.4 579.6 310.8 579.6 C312.2 579.6 313.6 579.1 315 578.3 C316.4 577.5 317.2 576.6 319 574.6 C320.8 572.6 323.9 568.9 326 566 C328.1 563.1 330.6 558.5 331.5 557" fill="none" stroke="#ffff00" stroke-width="0.7" stroke-linejoin="round" stroke-dasharray="3 2.2" opacity="0.85"/>
<path d="M277.6 79 L279 250 L279.6 400 L279.9 500  C279.9 505 279.8 522.2 280 530 C280.2 537.8 280.7 542.6 281.3 547 C281.9 551.4 282.8 552.6 283.9 556.4 C285 560.2 286.3 565.6 287.7 570 C289.1 574.4 291 579.1 292.4 582.7 C293.8 586.3 294.8 589.1 296 591.8 C297.2 594.5 298.3 596.8 299.6 599 C300.9 601.2 302.3 603.5 303.6 604.9 C304.9 606.3 306 606.8 307.2 607.3 C308.4 607.8 309.6 607.9 310.8 607.9 C312 607.9 313.2 607.8 314.4 607.3 C315.6 606.8 316.7 606.3 318 604.9 C319.3 603.5 320.8 601.2 322 599 C323.2 596.8 324.3 594.5 325.2 591.8 C326.1 589.1 326.7 586.3 327.6 582.7 C328.6 579.1 329.8 574.4 330.9 570 C332 565.6 333.1 560.2 334 556.4 C334.9 552.6 335.8 551.4 336.4 547 C337 542.6 337.4 537.8 337.9 530 C338.4 522.2 339.1 505 339.3 500 L339.9 400 L339.9 79" fill="none" stroke="#000" stroke-width="1.6" stroke-linejoin="round"/>
<path d="M316.4 85 H358 C382 85 404.8 89.5 404.8 97.6 C404.8 105.8 382 110.3 358 110.3 H316.4 Z" fill="#a6a6a6" stroke="#000" stroke-width="1.1"/>
<path d="M317 167 H324.5 C332.5 167 337.2 172.5 337.2 179.4 C337.2 186.3 332.5 191.8 324.5 191.8 H317 Z" fill="#a6a6a6" stroke="#111" stroke-width="0.8"/>
<path d="M317 236 C320 234.6 322.4 237 323.2 242 C323.8 246 323.8 250 323.2 254 C322.4 258.6 320 261 317 260 Z" fill="#a6a6a6" stroke="#111" stroke-width="0.8"/>
</g>
<g id="cs1">
<path d="M908.4 95.7 907.6 95.3 907 95.2 905.9 95.5 905.2 96.1 904.9 96.6 904.7 97.8 907 103.7 908 107 908.7 110.3 909.2 115.4 910 125.5 910.1 130.7 909.8 134.6 908.7 140.5 908.7 141.5 909.1 142.8 910.1 143.9 911.4 144.5 912.8 144.6 914.1 144.2 915.2 143.2 915.8 141.9 915.9 140.5 914.9 136.1 914.4 133.2 914.2 126.4 913.6 116.3 913.2 111.4 912.7 107.7 911.9 104.4 910.9 101.3 909.1 96.6Z" fill="#ffbb00" stroke="#000" stroke-width="1.2" stroke-linejoin="round"/>
<path d="M956.2 156.5 950.5 163.3 948.7 165 945.6 167.6 945.1 168.3 944.6 169.6 944.7 170.9 945.3 172.1 946.3 172.9 947.1 173.3 948.4 173.4 949.7 172.9 950.4 172.4 950.9 171.7 953.4 167.4 956.2 163.6 966.7 150.5 972.4 143.1 974.3 140.9 976.1 139.1 977.9 137.6 980.3 136.3 988.7 132.9 995.7 130.4 996.2 130 996.6 129.5 996.9 128.6 996.8 127.7 996.4 126.8 995.7 126.2 995.1 126 994.5 125.9 993.6 126.1 978.7 132 976.6 133 974.5 134.4 972.4 136.3 970 138.9 963.4 147.6Z" fill="#ffbb00" stroke="#000" stroke-width="1.2" stroke-linejoin="round"/>
<path d="M967.4 169.3 953.9 174.3 953.2 174.7 952.5 175.6 952.1 176.6 952.2 177.8 952.7 178.8 953.5 179.5 954.2 179.8 955 179.9 956.1 179.7 960.2 176.9 962.7 175.5 964.7 174.6 969.7 172.7 971.4 171.9 973.2 170.9 975.6 169.2 981.9 164.2 987.9 159.7 988.6 158.7 988.8 158 988.8 157.2 988.4 156.1 987.6 155.2 986.6 154.7 985.4 154.6 984.3 155 983.7 155.5 978.8 160.5 974.7 164.3 972.3 166.3 970.8 167.5 969.2 168.4Z" fill="#ffbb00" stroke="#000" stroke-width="1.2" stroke-linejoin="round"/>
<path d="M807.2 146.9 806.7 147.5 806.4 148.6 806.7 149.7 807.2 150.3 808 150.6 811.6 151.1 814.7 152 817 152.8 818.9 153.8 822.3 156.3 826.9 160.7 829.5 163.5 834.1 169.1 834.6 169.4 835.2 169.4 835.7 169.2 836.1 168.9 836.4 168 836.1 167.1 830.4 160.7 825.2 155.1 822.6 152.5 820.6 150.8 818.9 149.7 817 148.6 815 147.6 812.9 146.9 811.4 146.6 808.5 146.5 808 146.6Z" fill="#ffbb00" stroke="#000" stroke-width="1.2" stroke-linejoin="round"/>
<path d="M804.6 261.8 802.5 263 793.4 267.4 792.7 268.1 792.3 269.1 792.4 270.2 792.9 271.1 793.6 271.8 794.3 272.1 795 272.2 796 272 800.8 269.5 805.7 266.4 811.1 262.4 816.9 257.9 825.4 250.4 825.8 249.8 826 249.3 825.9 248.5 825.7 248 825.2 247.4 824.5 247.1 823.7 247 823 247.3 815 254.3 809.7 258.3Z" fill="#ffbb00" stroke="#000" stroke-width="1.2" stroke-linejoin="round"/>
<path d="M945.3 255.1 944.4 255.2 943.8 255.4 943.1 256 942.8 256.6 942.6 257.2 942.7 258.1 942.9 258.7 943.5 259.4 949.3 262.8 951.9 264.4 962.9 273 963.7 273.3 964.6 273.2 965.1 273 965.8 272.4 966.2 271.6 966.3 270.7 966 269.9 965.4 269.2 959.9 265.3 951.5 259.1 946.2 255.4Z" fill="#ffbb00" stroke="#000" stroke-width="1.2" stroke-linejoin="round"/>
<path d="M912.9 278.6 912.2 278.1 910.9 277.6 909.6 277.7 908.8 278.1 908.1 278.6 907.6 279.3 907.2 280.1 907.1 281.4 907.4 282.3 909 285.7 910.2 288.5 912.5 295.4 913.8 300.2 914.8 306 915.3 311.8 915.3 316.6 914.9 325.3 915.2 326.1 915.8 326.8 916.6 327.2 917.5 327.3 918.4 327 918.8 326.6 919.3 325.9 919.5 325.3 919.8 314.6 919.4 308.1 918.9 303.7 918 298.9 914.7 287.2 914.3 284.7 913.8 280.1 913.4 279.3Z" fill="#ffbb00" stroke="#000" stroke-width="1.2" stroke-linejoin="round"/>
<path d="M929.5 272.1 928.9 271.8 928.3 271.6 927.7 271.6 926.8 271.9 926.1 272.5 925.8 273.1 925.6 273.7 925.7 274.6 927.6 279.1 928.4 281.3 929.1 284 930.2 290 931 293.1 933.5 301.2 935.6 307.4 936.1 308.2 936.9 308.7 937.5 308.9 938.4 308.8 939.3 308.4 939.9 307.7 940.2 306.8 940.1 305.9 934.8 291.7 934 288.9 932.9 282.1 932.2 279.2 930.2 273.1 929.9 272.5Z" fill="#ffbb00" stroke="#000" stroke-width="1.2" stroke-linejoin="round"/>
<path d="M969.8 215 L969.1 221.9 L967.8 228.6 L965.8 235.1 L963.4 241.4 L960.5 247.5 L957.2 253.2 L953.5 258.8 L949.5 264.1 L945.2 269.1 L940.5 273.8 L935.5 278.2 L930.1 282.2 L924.4 285.7 L918.3 288.8 L911.9 291.2 L905.4 292.9 L898.6 293.9 L891.8 294.2 L885 293.7 L878.3 292.5 L871.8 290.7 L865.5 288.3 L859.4 285.4 L853.6 282 L848.1 278.2 L843 274 L838.1 269.4 L833.6 264.5 L829.4 259.3 L825.6 253.7 L822.3 247.8 L819.5 241.6 L817.3 235.2 L815.7 228.6 L814.8 221.8 L814.5 215 L814.9 208.2 L815.9 201.4 L817.5 194.8 L819.7 188.4 L822.4 182.2 L825.5 176.2 L829.1 170.5 L833.1 165.1 L837.6 160.1 L842.4 155.3 L847.6 151 L853.2 147.2 L859.1 143.9 L865.3 141.2 L871.7 139.1 L878.3 137.7 L885.1 136.9 L891.8 136.9 L898.5 137.5 L905.1 138.7 L911.5 140.4 L917.8 142.7 L923.8 145.4 L929.6 148.6 L935.3 152.1 L940.6 156.1 L945.7 160.4 L950.5 165.1 L954.9 170.2 L958.9 175.8 L962.3 181.7 L965.2 187.9 L967.4 194.5 L968.9 201.2 L969.7 208.1 Z" fill="#000"/>
<path fill="#ffbb00" d="M960.6 216.7 L968.1 216.9 Q967.8 221.2 966.9 225.5 L959.5 224.4 Q960.3 220.6 960.6 216.7 Z"/>
<path fill="#ffbb00" d="M959.1 226.2 L966.5 227.4 Q965.7 231 964.5 234.5 L957.3 232.6 Q958.4 229.5 959.1 226.2 Z"/>
<path fill="#ffbb00" d="M956.7 234.3 L963.8 236.4 Q962.4 240.3 960.6 244 L953.8 241.2 Q955.4 237.8 956.7 234.3 Z"/>
<path fill="#ffbb00" d="M953 242.8 L959.7 245.8 Q957.9 249.3 955.9 252.5 L949.6 248.8 Q951.4 245.9 953 242.8 Z"/>
<path fill="#ffbb00" d="M948.6 250.3 L954.9 254.2 Q953.2 256.8 951.3 259.3 L945.4 255 Q947.1 252.7 948.6 250.3 Z"/>
<path fill="#ffbb00" d="M944.4 256.4 L950.1 260.9 Q947.9 263.9 945.4 266.7 L940.1 261.6 Q942.3 259 944.4 256.4 Z"/>
<path fill="#ffbb00" d="M938.9 262.9 L944.1 268.1 Q940.8 271.6 937.2 274.8 L932.7 268.9 Q936 266 938.9 262.9 Z"/>
<path fill="#ffbb00" d="M931.4 270.1 L935.7 276.1 Q933.3 278.1 930.7 279.9 L926.9 273.5 Q929.2 271.9 931.4 270.1 Z"/>
<path fill="#ffbb00" d="M925.4 274.5 L929.1 281.1 Q925.9 283.2 922.5 285 L919.5 278.1 Q922.6 276.5 925.4 274.5 Z"/>
<path fill="#ffbb00" d="M917.9 278.9 L920.8 285.9 Q916.4 288.1 911.8 289.6 L909.9 282.2 Q914 280.9 917.9 278.9 Z"/>
<path fill="#ffbb00" d="M908.1 282.7 L909.9 290.2 Q906.8 291.1 903.6 291.7 L902.4 284.1 Q905.3 283.6 908.1 282.7 Z"/>
<path fill="#ffbb00" d="M900.6 284.4 L901.6 292 Q897.3 292.6 892.9 292.6 L892.8 285 Q896.7 284.9 900.6 284.4 Z"/>
<path fill="#ffbb00" d="M891 284.9 L890.9 292.6 Q887.4 292.5 884 292 L884.8 284.4 Q887.9 284.8 891 284.9 Z"/>
<path fill="#ffbb00" d="M883 284.1 L882 291.7 Q878 291 874.1 289.9 L875.8 282.5 Q879.3 283.5 883 284.1 Z"/>
<path fill="#ffbb00" d="M874.1 281.9 L872.1 289.3 Q869 288.2 866 286.9 L868.6 279.8 Q871.3 281 874.1 281.9 Z"/>
<path fill="#ffbb00" d="M866.9 279.1 L864.2 286.1 Q860.2 284.2 856.4 282 L859.9 275.3 Q863.3 277.4 866.9 279.1 Z"/>
<path fill="#ffbb00" d="M858.4 274.4 L854.7 280.9 Q851.2 278.7 848 276.2 L852.3 270.1 Q855.2 272.4 858.4 274.4 Z"/>
<path fill="#ffbb00" d="M850.9 269 L846.4 275 Q843.8 272.8 841.3 270.5 L846.3 265 Q848.5 267.1 850.9 269 Z"/>
<path fill="#ffbb00" d="M845 263.8 L839.9 269.1 Q837 266.3 834.3 263.1 L840 258.4 Q842.4 261.2 845 263.8 Z"/>
<path fill="#ffbb00" d="M838.9 257 L833.1 261.6 Q830.7 258.7 828.6 255.6 L834.8 251.6 Q836.7 254.4 838.9 257 Z"/>
<path fill="#ffbb00" d="M833.9 250.1 L827.5 253.9 Q825.8 251.3 824.4 248.5 L831 245.2 Q832.3 247.7 833.9 250.1 Z"/>
<path fill="#ffbb00" d="M830.2 243.6 L823.4 246.7 Q821.3 242.5 819.8 238 L826.9 235.7 Q828.3 239.8 830.2 243.6 Z"/>
<path fill="#ffbb00" d="M826.3 234 L819.2 236.1 Q818.1 232.6 817.3 228.9 L824.7 227.6 Q825.3 230.8 826.3 234 Z"/>
<path fill="#ffbb00" d="M824.4 225.8 L817 226.9 Q816.4 223.4 816.1 219.9 L823.6 219.4 Q823.8 222.6 824.4 225.8 Z"/>
<path fill="#ffbb00" d="M823.5 217.6 L816.1 217.9 Q815.9 214.3 816.2 210.7 L823.6 211.1 Q823.4 214.4 823.5 217.6 Z"/>
<path fill="#ffbb00" d="M823.8 209.3 L816.3 208.7 Q816.8 203.8 818 199 L825.2 200.6 Q824.2 204.9 823.8 209.3 Z"/>
<path fill="#ffbb00" d="M825.7 198.8 L818.4 197 Q819.3 193.7 820.5 190.5 L827.5 192.9 Q826.5 195.8 825.7 198.8 Z"/>
<path fill="#ffbb00" d="M828.2 191.3 L821.2 188.6 Q822.7 184.8 824.6 181 L831.2 184.4 Q829.5 187.7 828.2 191.3 Z"/>
<path fill="#ffbb00" d="M832.1 182.8 L825.5 179.3 Q827.4 175.7 829.7 172.3 L835.8 176.5 Q833.8 179.6 832.1 182.8 Z"/>
<path fill="#ffbb00" d="M836.8 175.1 L830.8 170.7 Q832.9 167.7 835.3 164.9 L840.9 169.8 Q838.7 172.4 836.8 175.1 Z"/>
<path fill="#ffbb00" d="M842 168.5 L836.6 163.4 Q839.3 160.3 842.3 157.5 L847.2 163.2 Q844.5 165.7 842 168.5 Z"/>
<path fill="#ffbb00" d="M848.5 161.9 L843.8 156.1 Q846.2 154 848.8 152 L853 158.3 Q850.7 160 848.5 161.9 Z"/>
<path fill="#ffbb00" d="M854.5 157.2 L850.4 150.9 Q854 148.3 857.8 146.3 L861.2 153.1 Q857.7 154.9 854.5 157.2 Z"/>
<path fill="#ffbb00" d="M862.8 152.2 L859.6 145.3 Q862.7 143.8 865.9 142.6 L868.5 149.7 Q865.6 150.8 862.8 152.2 Z"/>
<path fill="#ffbb00" d="M870.2 149.1 L867.8 141.9 Q872 140.4 876.4 139.6 L877.9 147 Q874 147.8 870.2 149.1 Z"/>
<path fill="#ffbb00" d="M879.7 146.7 L878.4 139.2 Q882.2 138.6 886 138.4 L886.5 146 Q883.1 146.1 879.7 146.7 Z"/>
<path fill="#ffbb00" d="M888.3 145.9 L887.9 138.4 Q890.9 138.3 893.8 138.5 L893.6 146.1 Q891 145.9 888.3 145.9 Z"/>
<path fill="#ffbb00" d="M895.4 146.2 L895.7 138.7 Q899.6 139.1 903.4 139.9 L902.3 147.3 Q898.9 146.6 895.4 146.2 Z"/>
<path fill="#ffbb00" d="M904 147.7 L905.4 140.3 Q909.2 141.2 912.9 142.5 L910.8 149.6 Q907.5 148.5 904 147.7 Z"/>
<path fill="#ffbb00" d="M912.5 150.2 L914.7 143.1 Q919.1 144.8 923.3 146.9 L920.2 153.6 Q916.4 151.7 912.5 150.2 Z"/>
<path fill="#ffbb00" d="M921.8 154.4 L925.1 147.8 Q927.9 149.2 930.6 150.9 L926.8 157.2 Q924.3 155.7 921.8 154.4 Z"/>
<path fill="#ffbb00" d="M928.2 158.2 L932.2 151.9 Q935.6 154.1 938.8 156.6 L934.2 162.3 Q931.3 160.1 928.2 158.2 Z"/>
<path fill="#ffbb00" d="M935.6 163.4 L940.4 157.8 Q943.1 159.9 945.6 162.3 L940.3 167.5 Q938 165.4 935.6 163.4 Z"/>
<path fill="#ffbb00" d="M941.5 168.7 L947 163.7 Q949.9 166.6 952.6 169.7 L946.6 174.2 Q944.2 171.3 941.5 168.7 Z"/>
<path fill="#ffbb00" d="M947.7 175.6 L953.8 171.3 Q956.1 174.2 958.1 177.4 L951.6 181.1 Q949.8 178.3 947.7 175.6 Z"/>
<path fill="#ffbb00" d="M952.5 182.7 L959.2 179.2 Q961.2 182.5 962.8 186.1 L955.8 188.9 Q954.3 185.7 952.5 182.7 Z"/>
<path fill="#ffbb00" d="M956.5 190.6 L963.6 187.9 Q965.2 191.9 966.3 196 L958.9 197.9 Q957.9 194.2 956.5 190.6 Z"/>
<path fill="#ffbb00" d="M959.3 199.7 L966.7 198 Q967.6 201.8 968 205.8 L960.5 206.7 Q960.1 203.1 959.3 199.7 Z"/>
<path fill="#ffbb00" d="M960.6 208.5 L968.2 207.8 Q968.4 211.4 968.2 214.9 L960.7 214.9 Q960.8 211.7 960.6 208.5 Z"/>
<path fill="#ffbb00" d="M954.2 218.9 L958.9 219.2 Q958.5 223.1 957.5 226.9 L952.9 226 Q953.8 222.5 954.2 218.9 Z"/>
<path fill="#ffbb00" d="M952.5 227.7 L957 228.7 Q956 232.5 954.5 236.1 L950.1 234.7 Q951.5 231.3 952.5 227.7 Z"/>
<path fill="#ffbb00" d="M949.4 236.3 L953.8 237.9 Q952.3 241.2 950.6 244.4 L946.4 242.4 Q948.1 239.4 949.4 236.3 Z"/>
<path fill="#ffbb00" d="M945.6 243.8 L949.7 246 Q947.8 249.2 945.8 252.2 L942 249.6 Q943.9 246.8 945.6 243.8 Z"/>
<path fill="#ffbb00" d="M941 250.9 L944.7 253.7 Q942.5 256.7 940 259.5 L936.6 256.4 Q938.9 253.8 941 250.9 Z"/>
<path fill="#ffbb00" d="M935.5 257.7 L938.8 260.9 Q936.1 264 933 266.8 L930.1 263.2 Q933 260.6 935.5 257.7 Z"/>
<path fill="#ffbb00" d="M928.8 264.3 L931.6 268 Q929.3 270 926.8 271.9 L924.3 267.9 Q926.7 266.2 928.8 264.3 Z"/>
<path fill="#ffbb00" d="M922.9 268.9 L925.3 273 Q922.3 275 919.1 276.7 L917.1 272.4 Q920.1 270.8 922.9 268.9 Z"/>
<path fill="#ffbb00" d="M915.6 273.2 L917.4 277.6 Q913.7 279.5 909.7 280.8 L908.4 276.2 Q912.1 274.9 915.6 273.2 Z"/>
<path fill="#ffbb00" d="M906.8 276.7 L907.9 281.3 Q904.9 282.2 901.9 282.7 L901.2 278 Q904 277.5 906.8 276.7 Z"/>
<path fill="#ffbb00" d="M899.4 278.2 L900 283 Q896.2 283.5 892.3 283.5 L892.3 278.7 Q895.9 278.7 899.4 278.2 Z"/>
<path fill="#ffbb00" d="M890.5 278.7 L890.4 283.5 Q885.7 283.3 881 282.3 L881.8 277.6 Q886.1 278.5 890.5 278.7 Z"/>
<path fill="#ffbb00" d="M880.1 277.2 L879.2 281.9 Q876.2 281.2 873.2 280.1 L874.5 275.6 Q877.3 276.5 880.1 277.2 Z"/>
<path fill="#ffbb00" d="M872.9 275 L871.5 279.5 Q867.9 278.1 864.6 276.4 L866.5 272.1 Q869.6 273.7 872.9 275 Z"/>
<path fill="#ffbb00" d="M865 271.3 L863 275.5 Q860.4 274.1 857.9 272.4 L860.3 268.4 Q862.6 269.9 865 271.3 Z"/>
<path fill="#ffbb00" d="M858.8 267.4 L856.4 271.4 Q852.9 268.9 849.6 266.2 L852.6 262.6 Q855.6 265.2 858.8 267.4 Z"/>
<path fill="#ffbb00" d="M851.3 261.4 L848.3 264.9 Q845.3 262.3 842.7 259.4 L846.2 256.3 Q848.6 259 851.3 261.4 Z"/>
<path fill="#ffbb00" d="M845 255 L841.5 258 Q839.6 255.8 837.8 253.4 L841.6 250.7 Q843.2 252.9 845 255 Z"/>
<path fill="#ffbb00" d="M840.6 249.3 L836.7 251.9 Q834.1 248.2 832 244.1 L836.2 242.1 Q838.2 245.8 840.6 249.3 Z"/>
<path fill="#ffbb00" d="M835.4 240.5 L831.2 242.4 Q829.5 239 828.3 235.4 L832.7 234 Q833.9 237.3 835.4 240.5 Z"/>
<path fill="#ffbb00" d="M832.2 232.3 L827.7 233.6 Q826.8 230.8 826.2 227.9 L830.8 227 Q831.4 229.7 832.2 232.3 Z"/>
<path fill="#ffbb00" d="M830.5 225.3 L825.8 226.1 Q825 221.5 824.9 216.9 L829.6 216.8 Q829.7 221.1 830.5 225.3 Z"/>
<path fill="#ffbb00" d="M829.6 215 L824.9 215 Q824.9 211.5 825.3 207.9 L830 208.4 Q829.6 211.7 829.6 215 Z"/>
<path fill="#ffbb00" d="M830.2 206.7 L825.6 206.1 Q826.2 202 827.3 198.1 L831.8 199.3 Q830.8 202.9 830.2 206.7 Z"/>
<path fill="#ffbb00" d="M832.3 197.6 L827.9 196.3 Q828.8 193.2 830.1 190.1 L834.4 191.9 Q833.3 194.7 832.3 197.6 Z"/>
<path fill="#ffbb00" d="M835.1 190.3 L830.9 188.4 Q832.6 184.5 834.8 180.9 L838.8 183.3 Q836.7 186.7 835.1 190.3 Z"/>
<path fill="#ffbb00" d="M839.7 181.8 L835.7 179.3 Q837.7 176.1 840 173.1 L843.7 176 Q841.5 178.8 839.7 181.8 Z"/>
<path fill="#ffbb00" d="M844.7 174.7 L841.2 171.6 Q842.9 169.5 844.8 167.5 L848.1 170.8 Q846.3 172.7 844.7 174.7 Z"/>
<path fill="#ffbb00" d="M849.3 169.6 L846.1 166.2 Q848.8 163.5 851.7 161.1 L854.5 164.9 Q851.8 167.1 849.3 169.6 Z"/>
<path fill="#ffbb00" d="M855.9 163.8 L853.2 159.9 Q856.8 157.1 860.9 154.8 L863 159.1 Q859.3 161.2 855.9 163.8 Z"/>
<path fill="#ffbb00" d="M864.6 158.2 L862.5 153.9 Q866.2 152 870.1 150.6 L871.7 155.1 Q868 156.4 864.6 158.2 Z"/>
<path fill="#ffbb00" d="M873.3 154.6 L871.9 150 Q874.5 149.2 877.2 148.6 L878.3 153.3 Q875.8 153.8 873.3 154.6 Z"/>
<path fill="#ffbb00" d="M880 152.9 L879.1 148.3 Q883.1 147.5 887.1 147.4 L887.4 152.1 Q883.7 152.3 880 152.9 Z"/>
<path fill="#ffbb00" d="M889.2 152.1 L889 147.3 Q892.9 147.3 896.8 147.8 L896.4 152.5 Q892.8 152.1 889.2 152.1 Z"/>
<path fill="#ffbb00" d="M898.1 152.7 L898.6 148 Q901.9 148.6 905.1 149.4 L904.2 154 Q901.2 153.2 898.1 152.7 Z"/>
<path fill="#ffbb00" d="M905.9 154.4 L906.9 149.9 Q910.5 150.9 914 152.3 L912.4 156.7 Q909.2 155.4 905.9 154.4 Z"/>
<path fill="#ffbb00" d="M914 157.4 L915.7 153 Q919 154.5 922.2 156.2 L920 160.3 Q917.1 158.7 914 157.4 Z"/>
<path fill="#ffbb00" d="M921.5 161.1 L923.8 157.1 Q927 158.9 930.1 161.1 L927.4 164.9 Q924.6 162.9 921.5 161.1 Z"/>
<path fill="#ffbb00" d="M928.8 165.8 L931.6 162.1 Q934.9 164.5 937.9 167.2 L934.6 170.5 Q931.8 168 928.8 165.8 Z"/>
<path fill="#ffbb00" d="M935.9 171.7 L939.2 168.4 Q941.6 170.7 943.8 173.2 L940.2 176.1 Q938.1 173.8 935.9 171.7 Z"/>
<path fill="#ffbb00" d="M941.3 177.4 L945.1 174.6 Q947.6 177.6 949.7 180.8 L945.6 183.2 Q943.7 180.2 941.3 177.4 Z"/>
<path fill="#ffbb00" d="M946.6 184.7 L950.7 182.4 Q953 186.1 954.8 190.2 L950.3 191.9 Q948.7 188.1 946.6 184.7 Z"/>
<path fill="#ffbb00" d="M951 193.5 L955.5 191.9 Q956.5 194.5 957.2 197.2 L952.6 198.4 Q951.9 195.9 951 193.5 Z"/>
<path fill="#ffbb00" d="M953.1 200.1 L957.7 199 Q958.8 203.5 959.2 208.1 L954.5 208.6 Q954.1 204.3 953.1 200.1 Z"/>
<path fill="#ffbb00" d="M954.6 210.4 L959.3 210 Q959.4 213.7 959.1 217.3 L954.4 217.2 Q954.7 213.8 954.6 210.4 Z"/>
<path fill="#ffbb00" d="M951.1 221.2 L953.1 221.4 Q951.3 228.1 948.4 234.2 L946.6 233.5 Q949.4 227.7 951.1 221.2 Z"/>
<path fill="#ffbb00" d="M946.2 235 L948 235.7 Q945.8 240.3 943.4 244.6 L941.7 243.6 Q944.1 239.4 946.2 235 Z"/>
<path fill="#ffbb00" d="M940.8 244.9 L942.4 245.9 Q940.9 248.5 939.2 251 L937.7 249.8 Q939.3 247.4 940.8 244.9 Z"/>
<path fill="#ffbb00" d="M936.9 251.2 L938.4 252.4 Q934.6 257.9 929.6 262.3 L928.4 260.8 Q933.2 256.5 936.9 251.2 Z"/>
<path fill="#ffbb00" d="M927 261.6 L928.2 263.2 Q924 266.6 919.2 269.1 L918.4 267.3 Q923 264.9 927 261.6 Z"/>
<path fill="#ffbb00" d="M916.9 268 L917.8 269.8 Q913.7 271.9 909.3 273.4 L908.7 271.5 Q913 270 916.9 268 Z"/>
<path fill="#ffbb00" d="M907.3 272.2 L907.8 274.1 Q903.3 275.6 898.6 276.4 L898.4 274.4 Q903 273.6 907.3 272.2 Z"/>
<path fill="#ffbb00" d="M896.8 274.8 L897 276.8 Q892.5 277.5 887.9 277.2 L888.1 275.1 Q892.5 275.4 896.8 274.8 Z"/>
<path fill="#ffbb00" d="M886.5 274.7 L886.3 276.7 Q880.9 276.1 875.9 274.2 L876.4 272.2 Q881.3 274.1 886.5 274.7 Z"/>
<path fill="#ffbb00" d="M874.9 271.9 L874.3 273.8 Q869.8 271.8 865.7 269.1 L866.6 267.4 Q870.5 270 874.9 271.9 Z"/>
<path fill="#ffbb00" d="M865.3 266.5 L864.4 268.3 Q860.5 265.6 856.9 262.7 L858.1 261.1 Q861.6 264 865.3 266.5 Z"/>
<path fill="#ffbb00" d="M857 260.1 L855.8 261.7 Q850.6 257.5 846.1 252.6 L847.6 251.3 Q852 256.1 857 260.1 Z"/>
<path fill="#ffbb00" d="M846.6 250.2 L845 251.4 Q842.2 248.1 840 244.5 L841.7 243.5 Q843.9 247 846.6 250.2 Z"/>
<path fill="#ffbb00" d="M841.3 241.9 L839.5 242.8 Q836.3 236.9 834.7 230.3 L836.6 229.7 Q838.1 236.1 841.3 241.9 Z"/>
<path fill="#ffbb00" d="M836 228.3 L834.1 228.7 Q833.5 225.9 833.1 223 L835.1 222.7 Q835.4 225.5 836 228.3 Z"/>
<path fill="#ffbb00" d="M834.8 221.2 L832.8 221.4 Q832 213.6 832.7 205.8 L834.6 206.1 Q834 213.7 834.8 221.2 Z"/>
<path fill="#ffbb00" d="M835.2 204.6 L833.2 204.2 Q833.7 199.7 835 195.2 L836.9 195.9 Q835.7 200.2 835.2 204.6 Z"/>
<path fill="#ffbb00" d="M837.3 194.3 L835.4 193.6 Q837.3 188 840.5 183 L842.2 184 Q839.1 188.8 837.3 194.3 Z"/>
<path fill="#ffbb00" d="M843.1 182.7 L841.4 181.6 Q844.3 177.4 847.7 173.7 L849.2 175 Q845.9 178.6 843.1 182.7 Z"/>
<path fill="#ffbb00" d="M850.2 173.8 L848.7 172.4 Q852.3 168.7 856.2 165.3 L857.4 166.9 Q853.6 170.2 850.2 173.8 Z"/>
<path fill="#ffbb00" d="M858.6 166 L857.5 164.3 Q860.7 161.6 864.3 159.4 L865.2 161.2 Q861.8 163.4 858.6 166 Z"/>
<path fill="#ffbb00" d="M866.5 160.3 L865.7 158.5 Q868.7 156.7 872 155.4 L872.6 157.3 Q869.5 158.6 866.5 160.3 Z"/>
<path fill="#ffbb00" d="M874.1 156.6 L873.4 154.7 Q880.6 152.2 888 152.4 L888.2 154.4 Q881 154.3 874.1 156.6 Z"/>
<path fill="#ffbb00" d="M889.8 154.9 L889.7 152.9 Q893.1 153.1 896.4 153.6 L896.3 155.6 Q893.1 155.1 889.8 154.9 Z"/>
<path fill="#ffbb00" d="M897.8 155.8 L898 153.8 Q903.3 154.8 908.5 156.3 L908 158.2 Q903 156.8 897.8 155.8 Z"/>
<path fill="#ffbb00" d="M909.4 158.6 L910 156.8 Q915.8 158.5 921.3 161.2 L920.4 162.9 Q915.1 160.3 909.4 158.6 Z"/>
<path fill="#ffbb00" d="M921.8 163.7 L922.7 161.9 Q926.9 164.1 930.6 167.1 L929.3 168.6 Q925.8 165.8 921.8 163.7 Z"/>
<path fill="#ffbb00" d="M930.5 169.6 L931.8 168.1 Q935.4 171.3 938.5 174.9 L937 176.2 Q934 172.7 930.5 169.6 Z"/>
<path fill="#ffbb00" d="M938.4 177.2 L939.9 175.9 Q944.2 181.2 947.5 187.2 L945.8 188.1 Q942.5 182.3 938.4 177.2 Z"/>
<path fill="#ffbb00" d="M946.5 189.5 L948.3 188.6 Q950.3 192.4 951.8 196.5 L949.9 197.1 Q948.4 193.1 946.5 189.5 Z"/>
<path fill="#ffbb00" d="M950.1 198.7 L952 198.2 Q953.5 202.5 954 207 L952 207.2 Q951.5 202.8 950.1 198.7 Z"/>
<path fill="#ffbb00" d="M952.3 208.8 L954.3 208.6 Q954.7 214.3 953.5 219.8 L951.6 219.6 Q952.7 214.3 952.3 208.8 Z"/>
<path d="M951.6 214.2 951.7 211.1 951.7 211 951.5 207.9 951.5 207.9 951.1 204.8 951.1 204.7 950.4 201.7 950.4 201.6 949.5 198.6 949.5 198.6 948.4 195.7 948.4 195.6 947.2 192.8 947.2 192.8 945.8 190 945.8 190 944.3 187.3 944.3 187.3 942.7 184.7 942.7 184.7 941 182.2 941 182.1 939.2 179.7 939.2 179.7 937.3 177.3 937.3 177.3 935.3 175 935.3 175 933.2 172.8 933.2 172.8 931 170.7 931 170.7 928.7 168.8 928.7 168.7 926.2 167 926.2 167 923.7 165.3 923.7 165.3 921.1 163.9 921.1 163.8 918.4 162.5 918.4 162.5 915.7 161.4 915.6 161.4 912.9 160.3 912.9 160.3 910.1 159.4 910.1 159.4 907.2 158.5 907.2 158.5 904.4 157.7 904.4 157.7 901.5 157.1 901.5 157 898.6 156.4 898.6 156.4 895.7 155.9 895.6 155.9 892.7 155.6 892.6 155.6 889.6 155.3 889.6 155.3 886.6 155.3 886.6 155.3 883.5 155.5 883.5 155.5 880.5 155.9 880.4 155.9 877.5 156.5 877.4 156.5 874.5 157.4 874.5 157.4 871.6 158.5 871.6 158.5 868.9 159.8 868.8 159.8 866.2 161.3 866.1 161.4 863.6 163 863.6 163 861.1 164.8 861.1 164.8 858.8 166.7 858.7 166.7 856.5 168.7 856.4 168.7 854.2 170.7 854.2 170.7 852.1 172.8 852.1 172.9 850 175 850 175 847.9 177.3 847.9 177.3 846 179.6 846 179.6 844.2 182.1 844.2 182.1 842.5 184.6 842.5 184.7 840.9 187.3 840.9 187.3 839.6 190.1 839.5 190.1 838.4 193 838.4 193 837.4 195.9 837.4 195.9 836.6 198.9 836.6 198.9 836 201.9 836 202 835.6 205 835.6 205 835.3 208.1 835.3 208.1 835.2 211.1 835.2 211.2 835.2 214.2 835.2 214.2 835.3 217.3 835.3 217.3 835.6 220.3 835.6 220.3 835.9 223.3 835.9 223.4 836.4 226.4 836.4 226.4 837 229.4 837 229.4 837.8 232.3 837.8 232.4 838.7 235.3 838.7 235.3 839.9 238.1 839.9 238.2 841.2 240.9 841.2 240.9 842.8 243.6 842.8 243.6 844.5 246.1 844.5 246.1 846.3 248.5 846.3 248.5 848.3 250.8 848.3 250.8 850.4 253 850.4 253 852.5 255.1 852.5 255.1 854.7 257.1 854.7 257.1 857 259.1 857 259.1 859.3 260.9 859.3 261 861.6 262.8 861.6 262.8 864 264.6 864 264.6 866.5 266.3 866.5 266.3 869.1 267.9 869.1 267.9 871.7 269.4 871.8 269.4 874.5 270.8 874.5 270.8 877.4 272 877.4 272 880.3 272.9 880.4 272.9 883.3 273.6 883.4 273.6 886.4 274.1 886.4 274.1 889.5 274.3 889.5 274.3 892.6 274.3 892.6 274.3 895.7 274 895.7 274 898.7 273.6 898.8 273.6 901.7 273 901.8 273 904.7 272.2 904.7 272.2 907.6 271.3 907.6 271.3 910.5 270.3 910.5 270.2 913.3 269.1 913.3 269.1 916 267.8 916 267.8 918.7 266.4 918.7 266.4 921.3 264.9 921.3 264.9 923.8 263.3 923.9 263.2 926.3 261.4 926.3 261.4 928.6 259.5 928.6 259.5 930.7 257.4 930.8 257.4 932.8 255.2 932.8 255.1 934.7 252.8 934.7 252.8 936.5 250.4 936.5 250.4 938.1 247.9 938.1 247.9 939.7 245.4 939.7 245.4 941.2 242.8 941.2 242.8 942.6 240.2 942.6 240.2 944 237.6 944 237.6 945.3 234.9 945.4 234.9 946.6 232.2 946.6 232.2 947.8 229.4 947.8 229.3 948.9 226.5 948.9 226.5 949.9 223.5 949.9 223.5 950.7 220.5 950.7 220.5 951.2 217.4 951.3 217.4 951.6 214.3Z" fill="#000"/>
<path d="M951.2 211.5 951 211 950.5 210.9 940.9 212.4 930.6 213.3 924.1 213.5 921.1 213.5 915.6 213.1 914.3 213.1 913.8 213.6 913.7 216.1 913.3 218.5 912.2 222.8 912.4 223.2 913.8 223.8 927.5 227.5 945.4 233.2 945.7 232.9 947.4 229.2 949.4 223.4 950.2 220.4 950.8 217.3 951.1 214.2Z M913.7 211.2 913.8 211.6 914.2 211.8 915.6 211.7 921.2 212.1 930.5 212 940.7 211 950.7 209.4 951.1 209 951 207.9 950.6 204.9 949.9 201.8 949 198.8 946.8 193.2 946.5 192.9 946.1 192.9 939.2 196 929.7 199.6 923.6 201.5 914.8 203.9 912.6 204.8 912.4 205 912.3 205.4 913.1 208Z M911.3 203.2 911.6 203.5 912.1 203.5 914.4 202.6 923.2 200.2 932.3 197.2 938.7 194.8 945.3 191.8 945.7 191.4 945.7 191 943.8 187.6 940.6 182.4 937.1 177.9 936.8 177.7 936.5 177.7 920.3 191.1 909.5 199.2 909.3 199.6 909.4 199.9Z M929.5 256.9 930 257.1 930.4 257 932.4 254.8 936.1 250.1 940.8 242.6 944.6 235.2 944.6 234.6 944.3 234.4 939.7 232.8 930.1 229.7 921.4 227.1 913.5 225.1 911.8 224.4 911.4 224.5 909.1 228.1 907.2 230.3 907.2 230.9 912.5 236.5 917.5 242 922.9 248.5Z M906.4 195.6 906.2 196 906.4 196.4 908 198.1 908.4 198.3 908.7 198.2 917.2 191.8 924.4 186.1 935.4 176.8 935.6 176.4 935.5 176 933 173.3 931.3 173.1 929.7 173.1 927.9 173.3 924.6 174.1 922.8 174.8 919.1 176.8 918.5 176.7 918.2 176.2 918.4 175.7 922.2 173.6 926 172.3 927.8 171.9 930 171.7 930.3 171.5 930.4 171.1 930.2 170.7 925.9 167.4 920.8 164.3 919.6 163.7 919.1 163.8 917.7 166 917.1 167.8 917.2 168.8 917.6 169.9 917.8 171 917.8 172.2 917.4 174.2 916.2 176.7 915.8 178.1 915.8 178.9 916.2 180.7 916.1 181.7 915.8 182.6 914.9 184.4 911.5 188.8 910.3 191.1Z M901.6 234.7 901.3 235 901.3 235.4 908.6 251.1 915.5 267.1 915.9 267.2 916.2 267.2 921.1 264.5 925.9 261 928.6 258.7 928.8 258.4 928.6 258 918.2 244.9 913.1 239.2 906.3 232 905.9 231.8 905.6 231.9 903.1 233.8Z M908 188.3 904.1 194.2 904.2 194.6 904.8 195 905.2 194.8 909.1 190.3 910.4 188 914.2 182.9 914.8 181.4 914.8 180.7 914.4 178.9 914.5 177.9 915 176.2 916.1 173.7 916.5 172.2 916.3 170.4 915.8 169 915.8 167.6 916.5 165.4 917.6 163.4 917.6 162.9 917.4 162.6 915.4 161.8 909.6 159.8 909.1 159.9 908.9 160.3 909.4 167.1 909.5 173 909 181Z M899.5 272.3 899.7 272.7 900.2 272.8 904.6 271.7 907.5 270.8 913.1 268.6 914 268.2 914.2 267.7 911.1 260 906.3 249.2 900.1 236.1 899.6 235.8 895.4 237.1 895 237.7 895.5 240.1 897.4 256.3Z M906.5 162.2 906.8 162.5 907.1 162.6 907.5 162.5 907.7 162.2 907.4 159.4 907.1 159 905.8 158.7 905.4 159 905.3 159.4 905.9 160.4Z M878.1 192.2 878.4 192.5 878.7 192.5 881.7 191.2 885.1 190.3 888.6 189.8 891 189.8 894.5 190.3 896.8 190.8 899 191.6 902.8 193.5 903.2 193.2 906.7 188 907.7 180.1 907.6 179.7 907.3 179.4 906.9 179.4 906.6 179.7 905.8 182.3 905 183.9 903.4 184.8 901.7 185.6 899.8 186.1 895.7 186.7 893.4 186.7 889 186.2 886.8 185.6 884.7 184.9 882.8 183.9 881.1 182.8 880.2 181.7 879.4 180.5 878.3 178.2 877.7 175.7 877.5 173.2 877.8 170.8 878.6 168.5 880.2 166.4 882.1 164.5 884.2 162.7 886.4 161 888.7 159.6 891.1 158.5 894.5 157.4 894.8 156.8 894.5 156.3 889.6 155.8 886.6 155.8 883.5 156 880.5 156.4 877.5 157 874.6 157.9 873.2 158.4 872.9 158.7 876.1 180.1 877.6 191.3Z M885 163.7 883.1 165.4 881.2 167.4 879.7 169.3 879.1 171.1 878.9 174.3 879.2 176.7 880 178.8 880.5 179.8 882 181.7 883.5 182.8 885.3 183.6 887.1 184.3 889.2 184.8 893.4 185.3 895.6 185.3 899.5 184.8 901.3 184.3 902.8 183.6 903.9 183 904.5 181.7 905.5 178.2 906.1 173.7 906.2 171.3 906 166.7 905.7 164.5 905.3 162.7 904.7 161 903.9 159.8 902.3 159 900.4 158.4 898.3 158.3 896.1 158.5 893.8 159 891.6 159.8 889.3 160.9 887.1 162.2Z M881.3 260.5 880.5 272.2 880.8 272.5 883.4 273.1 886.5 273.6 889.5 273.8 892.6 273.8 895.6 273.5 897.7 273.2 898.1 272.9 894.1 240.2 893.7 238 893.3 237.6 889.8 237.8 886.3 237.6 885.8 237.9 885.3 240.3 883.7 245.9 882.4 252.3Z M858.9 259.9 864.3 264.2 869.4 267.5 874.7 270.3 878.4 271.8 879 271.6 879.2 271.2 880 260.4 881 252.1 882.4 245.5 884 239.9 884.4 237.7 884.3 237.3 879.9 235.7 879.3 235.8 876.2 242.3 873.7 246.1 870.1 250.1 867.6 252.4 864.8 254.9 859 259.3Z M841.1 237.7 840.7 238 840.6 238.4 841.7 240.7 843.2 243.3 846.7 248.2 848.7 250.5 852.8 254.7 857 258.5 857.5 258.6 860.6 256.4 863.9 253.8 866.7 251.4 871 247.1 872.7 245.2 875 241.7 876.6 238.4 877 237.2 876.7 236.8 875 236.2 873.4 236 869.9 235.9 864.1 236.5 860.1 237.3 856.2 238.4 855.9 238.3 855.5 237.9 855.7 237.2 859.8 236 865.9 234.8 869.8 234.5 871.8 234.5 873.6 234.7 876.9 235.3 877.3 235.1 877.5 234.6 877.2 234.2 875.5 233.1 873.7 231.6 870.8 228.5 870.3 228.3 868.5 229.4 866.1 230.4 858.7 233 850.8 235.3Z M869.1 160.3 866.4 161.8 861.4 165.2 858.6 167.5 858.5 168 862 173.9 866.6 180.9 875.7 193.7 876.3 193.9 876.8 193.6 877 193.1 876.3 191.7 874.8 180.3 871.6 159.8 871.4 159.5 871 159.4Z M844.5 186.7 844.9 186.6 846.3 185.8 847.7 185.1 849.2 184.6 852.1 184.4 855.2 184.9 858.3 186 861.3 187.6 861.7 188.1 861.6 188.6 861.2 188.9 860.8 188.9 857.7 187.3 856.3 186.7 853.5 185.9 852.1 185.8 850.7 185.8 848.2 186.3 847.4 186.8 847.3 187.3 847.6 187.7 858 191.5 864.4 194.3 868.1 196.1 871 198.3 871.6 198.2 874.7 195 874.6 194.5 864 179.5 860.8 174.6 857.6 169.3 857.3 169 856.7 169.1 854.6 171.1 850.3 175.4 846.4 179.9 844.6 182.4 842.6 185.6 842.9 186.1Z M836.5 201.9 836.6 202.3 837.1 202.6 845.1 202.9 853.3 203.6 864.9 204.9 866.9 205.5 867.4 205.2 868.6 202.5 870.2 199.7 870 199.3 867.4 197.3 861.9 194.6 855.1 191.8 845.4 188.4 845 188.4 844.3 188.9 843.9 188.9 843.5 188.6 843.2 187.7 841.8 187.3 841.3 187.6 840 190.3 838.8 193.2 837.9 196.1Z M836.8 221.5 836.4 221.8 836.3 222.2 836.9 226.3 837.5 229.3 839.2 235.1 839.7 236.2 840.1 236.5 850.5 234 858.3 231.8 863.2 230.1 867.9 228.2 869.3 227.2 869.5 226.9 869.4 226.5 867.6 223 866.7 220.4 866.3 220 864.8 220.3 860.4 220 853.3 220 845.5 220.6Z M836 219.6 836.2 220.1 836.6 220.2 845.4 219.2 853.3 218.6 860.5 218.6 864.8 218.9 865.8 218.7 866.2 218.2 865.8 215 865.8 212.6 866.1 210.3 866.6 207.1 866.3 206.8 864.7 206.3 853.2 205 845 204.3 836.6 204 836.2 204.3 836.1 205.1 835.7 211.1 835.7 214.2Z" fill="#a6a6a6" fill-rule="evenodd"/>
<ellipse cx="889.8" cy="213.8" rx="25" ry="25" fill="#111"/>
<path fill="#bfbf40" d="M911.4 213.9 L914.2 213.9 Q914.2 216.9 913.5 219.8 L910.7 219.1 Q911.4 216.6 911.4 213.9 Z"/>
<path fill="#bfbf40" d="M910.5 220 L913.2 220.8 Q912.3 223.7 910.8 226.3 L908.4 224.8 Q909.7 222.6 910.5 220 Z"/>
<path fill="#bfbf40" d="M907.9 225.6 L910.2 227.2 Q908.4 229.9 905.9 232.1 L904.1 230 Q906.3 228.1 907.9 225.6 Z"/>
<path fill="#bfbf40" d="M903.4 230.6 L905.1 232.8 Q902.9 234.6 900.3 235.8 L899.1 233.3 Q901.4 232.2 903.4 230.6 Z"/>
<path fill="#bfbf40" d="M898.2 233.7 L899.3 236.3 Q896.8 237.3 894.1 237.8 L893.6 235.1 Q896 234.6 898.2 233.7 Z"/>
<path fill="#bfbf40" d="M892.7 235.2 L893 238 Q890.3 238.4 887.5 238.1 L887.8 235.3 Q890.2 235.5 892.7 235.2 Z"/>
<path fill="#bfbf40" d="M886.8 235.2 L886.4 238 Q883.4 237.5 880.5 236.3 L881.5 233.8 Q884.1 234.8 886.8 235.2 Z"/>
<path fill="#bfbf40" d="M880.7 233.4 L879.5 235.9 Q877 234.8 874.8 233.1 L876.6 230.9 Q878.5 232.4 880.7 233.4 Z"/>
<path fill="#bfbf40" d="M875.8 230.3 L874 232.4 Q871.4 230.2 869.5 227.3 L871.8 225.8 Q873.5 228.3 875.8 230.3 Z"/>
<path fill="#bfbf40" d="M871.3 225 L868.9 226.4 Q867.3 223.8 866.4 220.7 L869.1 220 Q869.9 222.6 871.3 225 Z"/>
<path fill="#bfbf40" d="M868.8 219 L866.1 219.7 Q865.5 217.2 865.4 214.6 L868.2 214.5 Q868.3 216.8 868.8 219 Z"/>
<path fill="#bfbf40" d="M868.2 213.6 L865.4 213.5 Q865.4 210.9 866 208.3 L868.8 208.9 Q868.2 211.2 868.2 213.6 Z"/>
<path fill="#bfbf40" d="M869 208 L866.3 207.3 Q867.1 204.3 868.6 201.6 L871.1 203 Q869.7 205.4 869 208 Z"/>
<path fill="#bfbf40" d="M871.6 202.2 L869.2 200.7 Q870.9 198 873.2 195.9 L875.1 197.9 Q873.1 199.9 871.6 202.2 Z"/>
<path fill="#bfbf40" d="M875.8 197.3 L874 195.2 Q876.5 193.1 879.4 191.7 L880.6 194.3 Q878 195.5 875.8 197.3 Z"/>
<path fill="#bfbf40" d="M881.4 193.9 L880.3 191.3 Q883.3 190.1 886.4 189.6 L886.8 192.4 Q884 192.8 881.4 193.9 Z"/>
<path fill="#bfbf40" d="M887.7 192.3 L887.4 189.5 Q890 189.3 892.5 189.5 L892.2 192.3 Q890 192.1 887.7 192.3 Z"/>
<path fill="#bfbf40" d="M893.1 192.5 L893.5 189.7 Q896.9 190.2 900 191.6 L898.9 194.2 Q896.1 192.9 893.1 192.5 Z"/>
<path fill="#bfbf40" d="M899.7 194.6 L901 192.1 Q903.4 193.4 905.6 195.2 L903.8 197.3 Q901.9 195.7 899.7 194.6 Z"/>
<path fill="#bfbf40" d="M904.5 197.9 L906.4 195.9 Q908.4 197.8 910 200 L907.6 201.6 Q906.3 199.6 904.5 197.9 Z"/>
<path fill="#bfbf40" d="M908.2 202.4 L910.5 200.9 Q912.1 203.4 913 206.2 L910.3 207 Q909.5 204.6 908.2 202.4 Z"/>
<path fill="#bfbf40" d="M910.6 207.9 L913.3 207.2 Q914.1 210 914.2 212.9 L911.4 213 Q911.3 210.4 910.6 207.9 Z"/>
<path fill="#bfbf40" d="M908 216.7 L910.3 217 Q909.9 220 908.6 222.7 L906.4 221.7 Q907.6 219.3 908 216.7 Z"/>
<path fill="#bfbf40" d="M906 222.5 L908.1 223.6 Q906.6 226.4 904.3 228.7 L902.7 227 Q904.7 225 906 222.5 Z"/>
<path fill="#bfbf40" d="M902 227.6 L903.6 229.4 Q901.4 231.3 898.7 232.6 L897.7 230.4 Q900 229.3 902 227.6 Z"/>
<path fill="#bfbf40" d="M896.8 230.8 L897.7 233 Q895.3 234 892.7 234.4 L892.4 232 Q894.7 231.7 896.8 230.8 Z"/>
<path fill="#bfbf40" d="M891.5 232.1 L891.7 234.5 Q888 234.8 884.5 233.9 L885.1 231.6 Q888.2 232.4 891.5 232.1 Z"/>
<path fill="#bfbf40" d="M884.2 231.3 L883.5 233.6 Q881.1 232.9 879 231.6 L880.2 229.5 Q882.1 230.7 884.2 231.3 Z"/>
<path fill="#bfbf40" d="M879.5 229 L878.1 231 Q875.4 229.2 873.4 226.6 L875.3 225.1 Q877.1 227.4 879.5 229 Z"/>
<path fill="#bfbf40" d="M874.7 224.3 L872.8 225.7 Q870.6 222.6 869.6 218.9 L872 218.3 Q872.8 221.6 874.7 224.3 Z"/>
<path fill="#bfbf40" d="M871.7 217.4 L869.4 217.8 Q868.9 215.6 869 213.2 L871.4 213.3 Q871.4 215.4 871.7 217.4 Z"/>
<path fill="#bfbf40" d="M871.5 212.4 L869.1 212.2 Q869.3 209 870.5 206.1 L872.7 207 Q871.7 209.6 871.5 212.4 Z"/>
<path fill="#bfbf40" d="M873.1 206.1 L870.9 205.1 Q872.2 202.3 874.3 199.9 L876.1 201.5 Q874.3 203.6 873.1 206.1 Z"/>
<path fill="#bfbf40" d="M876.7 200.8 L875 199.1 Q877.9 196.3 881.5 194.7 L882.5 196.9 Q879.2 198.3 876.7 200.8 Z"/>
<path fill="#bfbf40" d="M883.3 196.6 L882.5 194.3 Q884.7 193.5 887 193.2 L887.3 195.6 Q885.3 195.8 883.3 196.6 Z"/>
<path fill="#bfbf40" d="M888.3 195.5 L888.1 193.1 Q891 192.8 893.9 193.4 L893.4 195.8 Q890.9 195.2 888.3 195.5 Z"/>
<path fill="#bfbf40" d="M894.4 196 L894.9 193.6 Q898.9 194.7 902.1 197 L900.7 199 Q897.8 196.9 894.4 196 Z"/>
<path fill="#bfbf40" d="M901.4 199.5 L903 197.7 Q904.8 199.2 906.2 201 L904.3 202.5 Q903 200.9 901.4 199.5 Z"/>
<path fill="#bfbf40" d="M904.9 203.2 L906.8 201.8 Q909.1 205.1 910 208.9 L907.7 209.5 Q906.9 206.1 904.9 203.2 Z"/>
<path fill="#bfbf40" d="M907.9 210.4 L910.2 209.9 Q910.8 212.9 910.5 216 L908.1 215.7 Q908.4 213 907.9 210.4 Z"/>
<ellipse cx="889.8" cy="213.8" rx="17.8" ry="17.8" fill="#bfbf40"/>
<path d="M884.5 204.5 C887 203 892 204.5 893.5 207 C892.5 210 889 213 885.5 213.5 C883 211.5 882.5 207 884.5 204.5 Z" fill="none" stroke="#000" stroke-width="0.9"/>
<path transform="translate(0.6 1.2)" d="M888 214.5 C891 211.5 897 211.5 899 214 C900.5 217.5 899.5 221 897 222.5 C893 223.8 888.5 223 887 220.5 C886.3 218.5 886.8 216 888 214.5 Z" fill="none" stroke="#000" stroke-width="0.9"/>
<ellipse cx="884.3" cy="200" rx="2.2" ry="1.7" fill="none" stroke="#000" stroke-width="0.9"/>
<ellipse cx="898" cy="203.5" rx="2" ry="1.5" fill="none" stroke="#000" stroke-width="0.9"/>
<ellipse cx="877.5" cy="211.8" rx="2.1" ry="1.6" fill="none" stroke="#000" stroke-width="0.9"/>
<ellipse cx="905.2" cy="214" rx="2.2" ry="1.7" fill="none" stroke="#000" stroke-width="0.9"/>
<ellipse cx="882" cy="223.5" rx="2.1" ry="1.6" fill="none" stroke="#000" stroke-width="0.9"/>
<ellipse cx="901.5" cy="223.5" rx="2.1" ry="1.6" fill="none" stroke="#000" stroke-width="0.9"/>
<ellipse cx="894.5" cy="228" rx="2.4" ry="1.9" fill="none" stroke="#000" stroke-width="0.9"/>
</g>
<g id="cs2">
<path d="M786.9 473.4 786.1 473.4 785.3 473.6 784.6 474 784 474.6 783.6 475.3 783.4 476.1 783.4 476.9 783.8 478.1 784.3 478.7 784.9 479.2 788.4 481.1 791.9 483.4 793.6 484.3 796.2 485.1 802.2 486.4 813.7 489.2 818.9 490.8 826.4 493.3 827 493.4 827.9 493.2 828.7 492.7 829.2 491.9 829.4 491 829.2 490.1 828.7 489.3 827.9 488.8 813.5 485 802.9 482.4 797.9 481.3 796.1 480.6 794.3 479.5 788.4 474 787.7 473.6Z" fill="#ffff00" stroke="#000" stroke-width="1.2" stroke-linejoin="round"/>
<path d="M870.7 441.4 870.4 440.9 869.7 440.4 868.5 440.3 867.9 440.4 867.2 440.9 866.9 441.4 866.6 442.2 867.1 447.8 867.2 450.2 866.9 452.2 866.2 455.6 866.2 456.4 866.5 457.4 867 458 867.9 458.6 868.6 458.8 869.7 458.8 870.7 458.3 871.5 457.4 871.8 456.4 871.8 455.6 871.1 452.2 870.8 450.1 870.8 447.1 871 442.5Z" fill="#ffff00" stroke="#000" stroke-width="1.2" stroke-linejoin="round"/>
<path d="M917.6 450.5 914.6 457 914.4 457.7 914.5 458.7 914.9 459.6 915.7 460.3 916.7 460.6 917.3 460.6 918.3 460.3 919.1 459.6 919.4 459 920.8 453.5 921.6 451 923 447.8 927.2 439.1 927.2 438.2 927.1 437.6 926.8 437.1 926.1 436.6 925.3 436.3 924.4 436.3 923.6 436.7 923.1 437.4Z" fill="#ffff00" stroke="#000" stroke-width="1.2" stroke-linejoin="round"/>
<path d="M939.9 456.5 934.6 460.1 927.3 463.7 926.5 464.6 926.2 465.6 926.2 466.7 926.7 467.7 927.6 468.5 928.6 468.8 929.4 468.8 930.4 468.5 938 462.8 948.1 455.5 951.3 452.9 958.6 446.4 965.2 441.5 965.7 440.7 965.9 439.8 965.8 439.2 965.4 438.4 964.7 437.8 963.8 437.5 962.9 437.5 962.1 437.9 955.5 443.5 947.7 450.6 943.8 453.7Z" fill="#ffff00" stroke="#000" stroke-width="1.2" stroke-linejoin="round"/>
<path d="M959.2 508.1 958.7 508.3 958.2 508.9 957.9 509.7 957.9 510.3 958.2 511.1 958.5 511.5 959.2 511.9 959.7 512.1 965.8 511.9 972.9 511.9 973.3 511.8 974 511.4 974.3 511 974.5 510.3 974.5 509.5 974.1 508.8 973.6 508.3 972.9 508.1 965.8 508.1 960 507.9Z" fill="#ffff00" stroke="#000" stroke-width="1.2" stroke-linejoin="round"/>
<path d="M958 544.1 957.4 544.2 956.6 544.6 956.1 545.1 955.7 545.9 955.6 546.5 955.8 547.4 956.3 548.2 957.1 548.7 961.9 550 964.7 550.3 968.2 550.2 969.2 549.6 969.7 548.9 969.9 548 969.7 547.1 969.2 546.4 968.5 545.9 967.6 545.8 964.9 546 963.2 545.9 961.8 545.5 958.6 544.2Z" fill="#ffff00" stroke="#000" stroke-width="1.2" stroke-linejoin="round"/>
<path d="M821.2 550 808.3 556.4 807.8 556.8 807.2 557.6 807 558.5 807.2 559.4 807.8 560.2 808.3 560.6 809.2 560.9 809.8 560.9 810.4 560.8 815.8 557.6 821.7 554.5 825 553.1 830.9 551.2 831.7 550.7 832.2 549.9 832.4 549 832.3 548.4 831.9 547.6 831.2 547 830.3 546.7 829.4 546.7Z" fill="#ffff00" stroke="#000" stroke-width="1.2" stroke-linejoin="round"/>
<path d="M855 592.2 850 601.7 850 602.6 850.3 603.5 850.9 604.2 851.7 604.6 852.3 604.6 853.2 604.5 854 604 854.3 603.5 856.8 598.2 859.8 592.1 863.8 585.3 864.1 584.3 864 583.3 863.6 582.4 863.1 581.9 862.2 581.5 861.2 581.4 860.2 581.7 859.4 582.4 859.1 583 856.7 588.9Z" fill="#ffff00" stroke="#000" stroke-width="1.2" stroke-linejoin="round"/>
<path d="M856.1 579.9 851.8 582.9 849.8 583.8 849 584.6 848.8 585.3 848.8 586.1 849.2 586.8 849.8 587.4 850.3 587.6 851.1 587.6 852 587.2 858.3 582.8 858.8 582 858.8 581.3 858.6 580.6 858.1 580 857.5 579.7 856.8 579.7Z" fill="#ffff00" stroke="#000" stroke-width="1.2" stroke-linejoin="round"/>
<path d="M920.1 584.4 919 584.1 918.3 584.2 917.3 584.7 916.7 585.3 916.2 586.3 916.1 587 916.2 587.7 916.7 588.7 922 595.6 927.5 603.4 930 606.5 938.6 614.4 939.3 615.3 940.6 617.6 941 618 941.9 618.5 942.6 618.5 943.3 618.5 944.2 618 944.6 617.6 945 617 945.1 616.3 945.1 615.7 944.5 613.7 943.6 611.9 942.3 610.4 935.1 604.7 933.1 602.9 931.8 601.5 929.1 598 925.7 593 921.3 585.3 920.7 584.7Z" fill="#ffff00" stroke="#000" stroke-width="1.2" stroke-linejoin="round"/>
<path d="M963.8 521.3 L963.2 527.3 L962 533.2 L960.2 538.9 L958 544.5 L955.4 549.8 L952.5 555 L949.2 560 L945.7 564.8 L941.9 569.5 L937.6 573.8 L933 577.9 L927.9 581.5 L922.5 584.6 L916.7 587 L910.6 588.8 L904.4 589.9 L898.1 590.4 L891.8 590.2 L885.6 589.6 L879.5 588.5 L873.5 587 L867.6 585.2 L861.9 583 L856.3 580.4 L851 577.4 L845.9 574 L841.2 570 L836.9 565.6 L833.1 560.8 L829.9 555.7 L827.3 550.3 L825.1 544.6 L823.5 538.9 L822.2 533.1 L821.4 527.2 L821 521.3 L820.9 515.3 L821.4 509.4 L822.3 503.4 L823.8 497.5 L826 491.8 L828.8 486.3 L832.3 481.2 L836.3 476.5 L840.9 472.3 L845.8 468.6 L851.1 465.4 L856.5 462.5 L862.1 460.1 L867.8 457.9 L873.6 456.1 L879.6 454.6 L885.6 453.5 L891.8 452.9 L898 452.7 L904.3 453.2 L910.4 454.3 L916.5 456.1 L922.2 458.5 L927.7 461.5 L932.9 464.9 L937.7 468.7 L942.1 472.9 L946.3 477.3 L950.1 482 L953.6 487 L956.7 492.2 L959.3 497.7 L961.4 503.4 L962.9 509.2 L963.7 515.3 Z" fill="#000"/>
<path fill="#ffff00" d="M959 523.8 L962.5 523.9 Q962.1 528.1 961.1 532.1 L957.7 531.6 Q958.6 527.7 959 523.8 Z"/>
<path fill="#ffff00" d="M957.4 532.8 L960.8 533.4 Q959.8 537.2 958.3 540.8 L955 539.9 Q956.4 536.4 957.4 532.8 Z"/>
<path fill="#ffff00" d="M954.5 541.1 L957.8 542.1 Q955.8 547 953.2 551.6 L950.1 550.1 Q952.6 545.7 954.5 541.1 Z"/>
<path fill="#ffff00" d="M949.5 551.2 L952.5 552.8 Q951 555.4 949.4 557.8 L946.5 556 Q948.1 553.7 949.5 551.2 Z"/>
<path fill="#ffff00" d="M945.8 557.1 L948.7 559 Q945.9 563.1 942.7 566.9 L940.1 564.6 Q943.2 561 945.8 557.1 Z"/>
<path fill="#ffff00" d="M939.3 565.7 L941.7 568 Q938.5 571.7 934.8 575 L932.7 572.3 Q936.2 569.2 939.3 565.7 Z"/>
<path fill="#ffff00" d="M931.7 573.2 L933.7 575.9 Q931.3 577.9 928.7 579.7 L926.9 576.8 Q929.4 575.1 931.7 573.2 Z"/>
<path fill="#ffff00" d="M925.7 577.5 L927.5 580.5 Q923.2 583.3 918.3 585.2 L917 582.1 Q921.6 580.2 925.7 577.5 Z"/>
<path fill="#ffff00" d="M915.7 582.6 L917 585.8 Q912.7 587.4 908.2 588.2 L907.3 584.9 Q911.6 584.1 915.7 582.6 Z"/>
<path fill="#ffff00" d="M906 585.2 L906.7 588.5 Q903.2 589.1 899.6 589.3 L899.2 585.9 Q902.6 585.7 906 585.2 Z"/>
<path fill="#ffff00" d="M897.8 585.9 L898.1 589.3 Q893.1 589.4 888.2 588.9 L888.4 585.5 Q893.1 586 897.8 585.9 Z"/>
<path fill="#ffff00" d="M887 585.3 L886.8 588.7 Q881.9 588.1 877.2 586.9 L877.9 583.6 Q882.4 584.7 887 585.3 Z"/>
<path fill="#ffff00" d="M876.6 583.3 L875.8 586.6 Q871.9 585.6 868.2 584.3 L869.3 581.1 Q872.9 582.4 876.6 583.3 Z"/>
<path fill="#ffff00" d="M868.1 580.7 L866.8 583.8 Q862.3 582.2 858 580.1 L859.7 577.2 Q863.8 579.2 868.1 580.7 Z"/>
<path fill="#ffff00" d="M858.5 576.6 L856.8 579.5 Q853.7 577.9 850.7 576 L852.8 573.3 Q855.6 575.1 858.5 576.6 Z"/>
<path fill="#ffff00" d="M851.6 572.5 L849.5 575.2 Q845.8 572.7 842.4 569.7 L844.9 567.3 Q848.1 570.2 851.6 572.5 Z"/>
<path fill="#ffff00" d="M843.9 566.4 L841.4 568.8 Q838.4 565.9 835.8 562.6 L838.6 560.6 Q841 563.7 843.9 566.4 Z"/>
<path fill="#ffff00" d="M837.8 559.5 L835 561.5 Q832 557.6 829.8 553.2 L832.9 551.6 Q835 555.8 837.8 559.5 Z"/>
<path fill="#ffff00" d="M832.3 550.4 L829.2 552 Q827.1 547.5 825.7 542.9 L829 541.8 Q830.3 546.2 832.3 550.4 Z"/>
<path fill="#ffff00" d="M828.6 540.5 L825.3 541.5 Q824.3 538 823.6 534.3 L827 533.6 Q827.6 537.1 828.6 540.5 Z"/>
<path fill="#ffff00" d="M826.7 532.4 L823.3 532.9 Q822.6 528.5 822.2 524.1 L825.7 523.9 Q826 528.2 826.7 532.4 Z"/>
<path fill="#ffff00" d="M825.6 522.6 L822.1 522.7 Q821.9 519.1 822 515.4 L825.5 515.7 Q825.4 519.2 825.6 522.6 Z"/>
<path fill="#ffff00" d="M825.6 514.4 L822.1 514 Q822.3 509.2 823.2 504.5 L826.6 505.3 Q825.8 509.8 825.6 514.4 Z"/>
<path fill="#ffff00" d="M826.9 504 L823.5 503.1 Q824.2 499.8 825.2 496.6 L828.6 497.9 Q827.5 500.9 826.9 504 Z"/>
<path fill="#ffff00" d="M829 496.6 L825.7 495.3 Q827.3 491 829.7 486.9 L832.8 488.6 Q830.5 492.5 829 496.6 Z"/>
<path fill="#ffff00" d="M833.5 487.5 L830.5 485.7 Q833.1 481.5 836.5 477.9 L839.3 480 Q836 483.5 833.5 487.5 Z"/>
<path fill="#ffff00" d="M840.2 479.1 L837.5 476.8 Q840.7 473.7 844.3 471 L846.7 473.5 Q843.3 476 840.2 479.1 Z"/>
<path fill="#ffff00" d="M847.8 472.7 L845.5 470.2 Q848.7 467.9 852.1 466 L854.1 468.8 Q850.8 470.6 847.8 472.7 Z"/>
<path fill="#ffff00" d="M855.2 468.1 L853.3 465.3 Q856.7 463.5 860.2 462 L861.8 465 Q858.5 466.4 855.2 468.1 Z"/>
<path fill="#ffff00" d="M863 464.4 L861.5 461.5 Q865.8 459.7 870.1 458.3 L871.2 461.4 Q867.1 462.7 863 464.4 Z"/>
<path fill="#ffff00" d="M872.5 461 L871.5 457.9 Q875.5 456.6 879.7 455.7 L880.3 458.9 Q876.3 459.8 872.5 461 Z"/>
<path fill="#ffff00" d="M881.6 458.7 L881.1 455.4 Q885.5 454.5 890 454.1 L890.1 457.4 Q885.8 457.8 881.6 458.7 Z"/>
<path fill="#ffff00" d="M891.4 457.3 L891.4 454 Q896.6 453.6 901.9 454 L901.4 457.4 Q896.4 456.9 891.4 457.3 Z"/>
<path fill="#ffff00" d="M902.7 457.5 L903.3 454.2 Q906.8 454.6 910.2 455.4 L909.3 458.7 Q906 457.9 902.7 457.5 Z"/>
<path fill="#ffff00" d="M910.6 459 L911.6 455.7 Q916.9 457.2 921.9 459.5 L920.4 462.6 Q915.7 460.4 910.6 459 Z"/>
<path fill="#ffff00" d="M921.6 463.2 L923.2 460.2 Q927.1 462.2 930.7 464.7 L928.8 467.5 Q925.4 465.1 921.6 463.2 Z"/>
<path fill="#ffff00" d="M929.9 468.3 L931.9 465.5 Q934.4 467.3 936.8 469.4 L934.5 471.9 Q932.3 470 929.9 468.3 Z"/>
<path fill="#ffff00" d="M935.5 472.8 L937.8 470.3 Q941.4 473.5 944.6 477.1 L942 479.3 Q939 475.9 935.5 472.8 Z"/>
<path fill="#ffff00" d="M942.9 480.3 L945.5 478.1 Q948.5 481.5 951 485.2 L948.1 487 Q945.7 483.5 942.9 480.3 Z"/>
<path fill="#ffff00" d="M948.8 488.1 L951.8 486.3 Q953.8 489.3 955.6 492.5 L952.4 493.9 Q950.8 490.9 948.8 488.1 Z"/>
<path fill="#ffff00" d="M953 495.1 L956.2 493.7 Q958.5 498.1 960 502.7 L956.6 503.6 Q955.2 499.2 953 495.1 Z"/>
<path fill="#ffff00" d="M957 504.9 L960.5 504.1 Q961.9 508.9 962.4 513.9 L958.9 514.3 Q958.4 509.5 957 504.9 Z"/>
<path fill="#ffff00" d="M959 515.6 L962.6 515.3 Q962.8 518.9 962.6 522.5 L959.1 522.5 Q959.3 519 959 515.6 Z"/>
<path fill="#ffff00" d="M954.8 521.8 L958 521.8 Q957.9 524 957.6 526.2 L954.4 526 Q954.7 523.9 954.8 521.8 Z"/>
<path fill="#ffff00" d="M954.2 527.2 L957.4 527.5 Q957.1 529 956.8 530.4 L953.7 530 Q954 528.6 954.2 527.2 Z"/>
<path fill="#ffff00" d="M953.4 531.2 L956.5 531.7 Q956.2 533 955.8 534.3 L952.7 533.7 Q953.1 532.4 953.4 531.2 Z"/>
<path fill="#ffff00" d="M952.3 534.9 L955.4 535.6 Q954.7 537.8 953.8 540 L950.8 539.1 Q951.6 537 952.3 534.9 Z"/>
<path fill="#ffff00" d="M950.3 540.2 L953.3 541.2 Q952.8 542.5 952.2 543.8 L949.2 542.7 Q949.8 541.4 950.3 540.2 Z"/>
<path fill="#ffff00" d="M948.7 543.8 L951.6 544.9 Q950.8 546.6 950 548.2 L947.1 546.9 Q948 545.3 948.7 543.8 Z"/>
<path fill="#ffff00" d="M946.6 547.9 L949.4 549.3 Q948.6 550.7 947.7 552.1 L945 550.6 Q945.8 549.3 946.6 547.9 Z"/>
<path fill="#ffff00" d="M944.4 551.6 L947.1 553.2 Q946.1 554.8 945 556.4 L942.4 554.7 Q943.4 553.2 944.4 551.6 Z"/>
<path fill="#ffff00" d="M941.7 555.7 L944.3 557.5 Q943.3 558.9 942.3 560.2 L939.8 558.3 Q940.8 557 941.7 555.7 Z"/>
<path fill="#ffff00" d="M939.1 559.3 L941.5 561.2 Q940.5 562.5 939.5 563.7 L937.2 561.7 Q938.1 560.5 939.1 559.3 Z"/>
<path fill="#ffff00" d="M936.4 562.6 L938.6 564.7 Q937.2 566.4 935.7 568 L933.5 565.7 Q935 564.2 936.4 562.6 Z"/>
<path fill="#ffff00" d="M932.7 566.6 L934.7 568.9 Q933.7 569.9 932.7 570.9 L930.7 568.5 Q931.7 567.5 932.7 566.6 Z"/>
<path fill="#ffff00" d="M929.7 569.3 L931.7 571.7 Q929.9 573.3 928 574.7 L926.2 572.1 Q928.1 570.7 929.7 569.3 Z"/>
<path fill="#ffff00" d="M925.2 572.8 L926.9 575.4 Q925.9 576.2 924.8 576.9 L923.2 574.2 Q924.2 573.5 925.2 572.8 Z"/>
<path fill="#ffff00" d="M922.1 574.8 L923.7 577.6 Q921.6 578.8 919.4 579.9 L918 577 Q920.1 576 922.1 574.8 Z"/>
<path fill="#ffff00" d="M916.8 577.5 L918.1 580.4 Q916.4 581.2 914.6 581.8 L913.5 578.9 Q915.2 578.3 916.8 577.5 Z"/>
<path fill="#ffff00" d="M912.3 579.3 L913.3 582.2 Q911.8 582.8 910.2 583.2 L909.3 580.2 Q910.8 579.8 912.3 579.3 Z"/>
<path fill="#ffff00" d="M908 580.5 L908.9 583.5 Q906.9 583.9 904.9 584.2 L904.2 581.2 Q906.1 580.9 908 580.5 Z"/>
<path fill="#ffff00" d="M902.9 581.4 L903.5 584.4 Q902 584.6 900.5 584.7 L900.1 581.6 Q901.5 581.5 902.9 581.4 Z"/>
<path fill="#ffff00" d="M898.8 581.7 L899.1 584.8 Q896.9 584.9 894.6 584.9 L894.5 581.8 Q896.6 581.8 898.8 581.7 Z"/>
<path fill="#ffff00" d="M893.2 581.7 L893.3 584.8 Q891.7 584.7 890.1 584.6 L890.1 581.5 Q891.7 581.7 893.2 581.7 Z"/>
<path fill="#ffff00" d="M888.9 581.4 L888.7 584.5 Q887 584.3 885.3 584 L885.7 581 Q887.3 581.2 888.9 581.4 Z"/>
<path fill="#ffff00" d="M884.4 580.8 L884 583.8 Q881.7 583.4 879.3 582.9 L880 579.9 Q882.2 580.4 884.4 580.8 Z"/>
<path fill="#ffff00" d="M878.7 579.6 L878.1 582.6 Q876.7 582.3 875.3 581.9 L876.1 578.9 Q877.4 579.3 878.7 579.6 Z"/>
<path fill="#ffff00" d="M874.9 578.6 L874.1 581.5 Q872.3 581 870.6 580.5 L871.6 577.6 Q873.3 578.1 874.9 578.6 Z"/>
<path fill="#ffff00" d="M870.5 577.2 L869.4 580 Q867.3 579.3 865.3 578.5 L866.6 575.7 Q868.5 576.5 870.5 577.2 Z"/>
<path fill="#ffff00" d="M865.4 575.2 L864.1 578 Q862.7 577.4 861.4 576.8 L862.9 574.1 Q864.1 574.7 865.4 575.2 Z"/>
<path fill="#ffff00" d="M861.8 573.6 L860.2 576.2 Q858.4 575.3 856.6 574.3 L858.3 571.8 Q860 572.7 861.8 573.6 Z"/>
<path fill="#ffff00" d="M857.2 571.1 L855.4 573.7 Q854.2 572.9 853 572.2 L854.9 569.7 Q856 570.4 857.2 571.1 Z"/>
<path fill="#ffff00" d="M853.8 569 L851.9 571.4 Q849.9 570.1 848.1 568.7 L850.3 566.3 Q852 567.7 853.8 569 Z"/>
<path fill="#ffff00" d="M849.3 565.6 L847.1 567.8 Q846 566.9 845 566 L847.3 563.8 Q848.3 564.7 849.3 565.6 Z"/>
<path fill="#ffff00" d="M846.4 562.9 L844.1 565.1 Q842.9 563.9 841.8 562.7 L844.2 560.7 Q845.3 561.8 846.4 562.9 Z"/>
<path fill="#ffff00" d="M843.4 559.7 L840.9 561.7 Q839.3 559.8 837.9 557.7 L840.5 556 Q841.8 557.9 843.4 559.7 Z"/>
<path fill="#ffff00" d="M839.8 554.9 L837.1 556.7 Q836.4 555.7 835.8 554.6 L838.6 553 Q839.1 554 839.8 554.9 Z"/>
<path fill="#ffff00" d="M837.9 551.9 L835.2 553.5 Q834 551.4 833 549.3 L835.9 547.9 Q836.8 550 837.9 551.9 Z"/>
<path fill="#ffff00" d="M835.4 546.8 L832.5 548.1 Q831.8 546.5 831.1 544.8 L834.1 543.6 Q834.7 545.2 835.4 546.8 Z"/>
<path fill="#ffff00" d="M833.7 542.5 L830.7 543.5 Q830.2 542.1 829.8 540.7 L832.8 539.7 Q833.2 541.1 833.7 542.5 Z"/>
<path fill="#ffff00" d="M832.5 538.6 L829.4 539.5 Q829.1 538.2 828.8 536.9 L831.8 536.1 Q832.1 537.3 832.5 538.6 Z"/>
<path fill="#ffff00" d="M831.6 534.9 L828.5 535.6 Q828.1 533.9 827.8 532.1 L830.9 531.6 Q831.2 533.3 831.6 534.9 Z"/>
<path fill="#ffff00" d="M830.7 530.4 L827.6 530.8 Q827.3 529 827.1 527.1 L830.2 526.9 Q830.4 528.6 830.7 530.4 Z"/>
<path fill="#ffff00" d="M830.1 525.7 L827 525.9 Q826.8 524 826.7 522.1 L829.8 522.1 Q829.9 523.9 830.1 525.7 Z"/>
<path fill="#ffff00" d="M829.8 520.8 L826.6 520.8 Q826.5 518.9 826.6 517 L829.8 517.2 Q829.7 519 829.8 520.8 Z"/>
<path fill="#ffff00" d="M829.8 516 L826.6 515.7 Q826.7 513.6 826.8 511.6 L830 512.1 Q829.8 514 829.8 516 Z"/>
<path fill="#ffff00" d="M830.1 510.9 L827 510.3 Q827.1 509 827.3 507.7 L830.5 508.3 Q830.3 509.6 830.1 510.9 Z"/>
<path fill="#ffff00" d="M830.7 507.1 L827.5 506.4 Q827.8 504.8 828.2 503.2 L831.3 504.1 Q830.9 505.6 830.7 507.1 Z"/>
<path fill="#ffff00" d="M831.6 502.9 L828.5 501.9 Q829 499.9 829.7 497.8 L832.8 499 Q832.1 500.9 831.6 502.9 Z"/>
<path fill="#ffff00" d="M833.2 497.8 L830.2 496.6 Q830.7 495.2 831.4 493.8 L834.3 495.2 Q833.7 496.5 833.2 497.8 Z"/>
<path fill="#ffff00" d="M834.8 494 L831.9 492.6 Q832.7 491 833.6 489.5 L836.4 491 Q835.6 492.5 834.8 494 Z"/>
<path fill="#ffff00" d="M837.1 490 L834.3 488.4 Q835.4 486.5 836.8 484.7 L839.4 486.5 Q838.2 488.2 837.1 490 Z"/>
<path fill="#ffff00" d="M840.2 485.5 L837.6 483.7 Q838.8 482.2 840.1 480.8 L842.6 482.7 Q841.4 484.1 840.2 485.5 Z"/>
<path fill="#ffff00" d="M843.5 481.8 L841 479.8 Q842 478.8 843 477.9 L845.4 480 Q844.4 480.9 843.5 481.8 Z"/>
<path fill="#ffff00" d="M846.3 479.2 L844 477 Q845.6 475.6 847.3 474.4 L849.5 476.7 Q847.9 477.9 846.3 479.2 Z"/>
<path fill="#ffff00" d="M850.5 475.9 L848.4 473.6 Q850.1 472.4 851.8 471.4 L853.7 473.8 Q852.1 474.8 850.5 475.9 Z"/>
<path fill="#ffff00" d="M854.8 473.1 L852.9 470.7 Q854.5 469.7 856.2 468.8 L857.9 471.4 Q856.3 472.2 854.8 473.1 Z"/>
<path fill="#ffff00" d="M859 470.8 L857.3 468.2 Q858.7 467.5 860.1 466.9 L861.6 469.5 Q860.3 470.1 859 470.8 Z"/>
<path fill="#ffff00" d="M862.8 469 L861.3 466.3 Q863.3 465.4 865.3 464.6 L866.6 467.4 Q864.7 468.2 862.8 469 Z"/>
<path fill="#ffff00" d="M867.8 466.9 L866.5 464.2 Q867.7 463.7 868.9 463.3 L870 466.1 Q868.9 466.5 867.8 466.9 Z"/>
<path fill="#ffff00" d="M871.2 465.7 L870.2 462.9 Q872.3 462.2 874.4 461.5 L875.2 464.4 Q873.2 465 871.2 465.7 Z"/>
<path fill="#ffff00" d="M876.4 464.1 L875.6 461.2 Q877.4 460.7 879.2 460.3 L879.8 463.2 Q878.1 463.6 876.4 464.1 Z"/>
<path fill="#ffff00" d="M881.1 463 L880.5 460 Q882.4 459.6 884.3 459.2 L884.6 462.3 Q882.8 462.6 881.1 463 Z"/>
<path fill="#ffff00" d="M885.9 462.1 L885.6 459 Q887.1 458.8 888.6 458.6 L888.8 461.7 Q887.3 461.8 885.9 462.1 Z"/>
<path fill="#ffff00" d="M890 461.5 L890 458.5 Q891.5 458.3 893 458.3 L893 461.3 Q891.5 461.4 890 461.5 Z"/>
<path fill="#ffff00" d="M894.2 461.3 L894.4 458.2 Q896.2 458.2 898 458.2 L897.7 461.3 Q896 461.2 894.2 461.3 Z"/>
<path fill="#ffff00" d="M899 461.4 L899.3 458.3 Q901.6 458.4 903.8 458.7 L903.2 461.8 Q901.1 461.5 899 461.4 Z"/>
<path fill="#ffff00" d="M904.5 462 L905.1 458.9 Q906.7 459.2 908.2 459.5 L907.4 462.5 Q906 462.2 904.5 462 Z"/>
<path fill="#ffff00" d="M908.7 462.8 L909.5 459.8 Q911.7 460.4 913.8 461.1 L912.7 464 Q910.7 463.3 908.7 462.8 Z"/>
<path fill="#ffff00" d="M913.9 464.4 L915 461.5 Q916.4 462 917.7 462.6 L916.5 465.4 Q915.2 464.9 913.9 464.4 Z"/>
<path fill="#ffff00" d="M917.6 466 L919 463.1 Q921.1 464.1 923.2 465.3 L921.7 468 Q919.7 466.9 917.6 466 Z"/>
<path fill="#ffff00" d="M922.8 468.6 L924.3 465.9 Q925.6 466.7 926.8 467.4 L925.1 470.1 Q923.9 469.3 922.8 468.6 Z"/>
<path fill="#ffff00" d="M926.1 470.8 L927.9 468.2 Q929.2 469.1 930.6 470.1 L928.7 472.6 Q927.4 471.7 926.1 470.8 Z"/>
<path fill="#ffff00" d="M929.7 473.4 L931.6 470.9 Q933.1 472.2 934.6 473.4 L932.5 475.8 Q931.1 474.5 929.7 473.4 Z"/>
<path fill="#ffff00" d="M933.4 476.6 L935.6 474.3 Q937.1 475.7 938.5 477.1 L936.2 479.3 Q934.9 477.9 933.4 476.6 Z"/>
<path fill="#ffff00" d="M937.1 480.2 L939.4 478 Q940.7 479.4 941.9 480.8 L939.5 482.8 Q938.3 481.4 937.1 480.2 Z"/>
<path fill="#ffff00" d="M940.3 483.7 L942.8 481.8 Q943.8 483.1 944.9 484.4 L942.3 486.2 Q941.3 485 940.3 483.7 Z"/>
<path fill="#ffff00" d="M943 487.2 L945.7 485.4 Q946.6 486.8 947.6 488.1 L944.9 489.7 Q944 488.4 943 487.2 Z"/>
<path fill="#ffff00" d="M945.5 490.7 L948.3 489.2 Q949.4 490.9 950.4 492.6 L947.6 494 Q946.6 492.4 945.5 490.7 Z"/>
<path fill="#ffff00" d="M948.2 495.1 L951.1 493.8 Q952.1 495.6 953 497.6 L950 498.7 Q949.2 496.9 948.2 495.1 Z"/>
<path fill="#ffff00" d="M950.6 499.8 L953.6 498.7 Q954.2 500.1 954.7 501.5 L951.6 502.5 Q951.1 501.2 950.6 499.8 Z"/>
<path fill="#ffff00" d="M952.1 503.6 L955.2 502.7 Q955.9 504.7 956.4 506.8 L953.3 507.5 Q952.7 505.5 952.1 503.6 Z"/>
<path fill="#ffff00" d="M953.6 508.7 L956.7 508 Q957 509.1 957.2 510.2 L954 510.8 Q953.8 509.7 953.6 508.7 Z"/>
<path fill="#ffff00" d="M954.2 512 L957.4 511.5 Q957.8 514 958 516.5 L954.8 516.7 Q954.6 514.3 954.2 512 Z"/>
<path fill="#ffff00" d="M954.8 518 L958.1 517.8 Q958.1 519.1 958.1 520.5 L954.8 520.5 Q954.9 519.3 954.8 518 Z"/>
<path fill="#ffff00" d="M951.2 524.9 L953.5 525 Q953.3 526.7 953 528.3 L950.7 528.1 Q951 526.5 951.2 524.9 Z"/>
<path fill="#ffff00" d="M950.4 529.3 L952.7 529.6 Q952.3 531.4 951.8 533.3 L949.5 532.8 Q950.1 531.1 950.4 529.3 Z"/>
<path fill="#ffff00" d="M949.2 534 L951.4 534.5 Q950.9 536.2 950.2 537.9 L948 537.3 Q948.6 535.7 949.2 534 Z"/>
<path fill="#ffff00" d="M947.6 538.5 L949.7 539.1 Q949.1 540.8 948.3 542.3 L946.2 541.6 Q946.9 540 947.6 538.5 Z"/>
<path fill="#ffff00" d="M945.7 542.7 L947.8 543.5 Q947 545.1 946.1 546.7 L944.1 545.8 Q944.9 544.2 945.7 542.7 Z"/>
<path fill="#ffff00" d="M943.5 546.8 L945.5 547.8 Q944.6 549.4 943.6 551 L941.7 549.9 Q942.6 548.4 943.5 546.8 Z"/>
<path fill="#ffff00" d="M941.1 550.9 L943 552.1 Q942.4 553 941.7 554 L939.8 552.8 Q940.5 551.8 941.1 550.9 Z"/>
<path fill="#ffff00" d="M939.2 553.8 L941 555 Q939.9 556.7 938.7 558.2 L936.9 556.8 Q938.1 555.3 939.2 553.8 Z"/>
<path fill="#ffff00" d="M936.2 557.8 L937.9 559.2 Q936.8 560.6 935.6 562 L934 560.4 Q935.1 559.1 936.2 557.8 Z"/>
<path fill="#ffff00" d="M933.2 561.4 L934.8 562.9 Q933.4 564.5 931.9 566 L930.4 564.3 Q931.8 562.9 933.2 561.4 Z"/>
<path fill="#ffff00" d="M929.5 565.2 L931 566.9 Q929.7 568.1 928.3 569.2 L926.9 567.4 Q928.3 566.3 929.5 565.2 Z"/>
<path fill="#ffff00" d="M926 568.2 L927.3 570 Q925.9 571.1 924.4 572.1 L923.2 570.2 Q924.6 569.3 926 568.2 Z"/>
<path fill="#ffff00" d="M922.2 571 L923.3 572.9 Q921.5 574.1 919.4 575.2 L918.4 573.2 Q920.3 572.1 922.2 571 Z"/>
<path fill="#ffff00" d="M917.3 573.8 L918.3 575.8 Q916.9 576.5 915.4 577.1 L914.5 575 Q915.9 574.4 917.3 573.8 Z"/>
<path fill="#ffff00" d="M913.3 575.5 L914.2 577.6 Q912.5 578.2 910.8 578.7 L910.1 576.6 Q911.7 576.1 913.3 575.5 Z"/>
<path fill="#ffff00" d="M908.9 576.9 L909.5 579.1 Q907.6 579.6 905.7 579.9 L905.2 577.7 Q907 577.4 908.9 576.9 Z"/>
<path fill="#ffff00" d="M903.9 578 L904.4 580.2 Q902.4 580.5 900.3 580.6 L900 578.4 Q902 578.3 903.9 578 Z"/>
<path fill="#ffff00" d="M898.7 578.5 L899 580.7 Q897 580.8 894.9 580.8 L894.8 578.6 Q896.8 578.6 898.7 578.5 Z"/>
<path fill="#ffff00" d="M893.5 578.6 L893.6 580.8 Q891.7 580.7 889.9 580.5 L890 578.3 Q891.7 578.5 893.5 578.6 Z"/>
<path fill="#ffff00" d="M888.7 578.2 L888.6 580.4 Q886.8 580.2 885 579.9 L885.3 577.7 Q887 578 888.7 578.2 Z"/>
<path fill="#ffff00" d="M884 577.5 L883.7 579.7 Q882.1 579.4 880.5 579 L880.9 576.9 Q882.5 577.2 884 577.5 Z"/>
<path fill="#ffff00" d="M879.7 576.6 L879.2 578.7 Q877.2 578.3 875.3 577.7 L875.9 575.6 Q877.8 576.1 879.7 576.6 Z"/>
<path fill="#ffff00" d="M874.7 575.2 L874 577.3 Q872.3 576.8 870.6 576.2 L871.4 574.2 Q873 574.7 874.7 575.2 Z"/>
<path fill="#ffff00" d="M870.2 573.7 L869.4 575.8 Q867.7 575.2 866.1 574.5 L867.1 572.5 Q868.6 573.2 870.2 573.7 Z"/>
<path fill="#ffff00" d="M865.9 572 L864.9 574 Q863 573.1 861.1 572.2 L862.2 570.3 Q864.1 571.2 865.9 572 Z"/>
<path fill="#ffff00" d="M861.1 569.7 L859.9 571.5 Q858.5 570.8 857.2 570 L858.5 568.2 Q859.8 568.9 861.1 569.7 Z"/>
<path fill="#ffff00" d="M857.4 567.5 L856.1 569.3 Q854.2 568.1 852.3 566.7 L853.8 565 Q855.6 566.3 857.4 567.5 Z"/>
<path fill="#ffff00" d="M852.8 564.3 L851.3 565.9 Q849.9 564.8 848.5 563.6 L850.2 562 Q851.5 563.2 852.8 564.3 Z"/>
<path fill="#ffff00" d="M849.2 561.2 L847.6 562.7 Q846.5 561.7 845.5 560.6 L847.3 559.2 Q848.2 560.2 849.2 561.2 Z"/>
<path fill="#ffff00" d="M846.4 558.2 L844.7 559.7 Q843.2 558 841.9 556.2 L843.8 554.9 Q845 556.6 846.4 558.2 Z"/>
<path fill="#ffff00" d="M843 553.9 L841.1 555.2 Q840.2 553.8 839.4 552.5 L841.3 551.3 Q842.1 552.6 843 553.9 Z"/>
<path fill="#ffff00" d="M840.7 550.2 L838.7 551.3 Q837.8 549.7 837 548 L839 547 Q839.8 548.6 840.7 550.2 Z"/>
<path fill="#ffff00" d="M838.5 545.8 L836.4 546.8 Q835.7 545 835 543.2 L837.1 542.4 Q837.8 544.1 838.5 545.8 Z"/>
<path fill="#ffff00" d="M836.7 541.2 L834.6 542 Q833.9 540.2 833.4 538.4 L835.6 537.7 Q836.1 539.5 836.7 541.2 Z"/>
<path fill="#ffff00" d="M835.3 536.5 L833.1 537.1 Q832.6 535.3 832.3 533.5 L834.5 533 Q834.9 534.8 835.3 536.5 Z"/>
<path fill="#ffff00" d="M834.3 531.8 L832 532.2 Q831.7 530.6 831.5 528.9 L833.7 528.6 Q834 530.2 834.3 531.8 Z"/>
<path fill="#ffff00" d="M833.6 527.4 L831.3 527.7 Q831.2 526.3 831 524.8 L833.3 524.7 Q833.4 526.1 833.6 527.4 Z"/>
<path fill="#ffff00" d="M833.2 523.5 L830.9 523.6 Q830.8 521.6 830.7 519.5 L833 519.6 Q833.1 521.6 833.2 523.5 Z"/>
<path fill="#ffff00" d="M833 518.4 L830.7 518.3 Q830.7 516.6 830.8 514.9 L833.1 515.2 Q833 516.8 833 518.4 Z"/>
<path fill="#ffff00" d="M833.2 514 L830.9 513.7 Q831 512.1 831.2 510.5 L833.4 510.9 Q833.3 512.4 833.2 514 Z"/>
<path fill="#ffff00" d="M833.6 509.7 L831.3 509.3 Q831.6 507.1 832.1 504.9 L834.4 505.5 Q833.9 507.6 833.6 509.7 Z"/>
<path fill="#ffff00" d="M834.7 504.3 L832.4 503.6 Q832.9 501.9 833.4 500.2 L835.6 501 Q835.1 502.6 834.7 504.3 Z"/>
<path fill="#ffff00" d="M836 499.8 L833.8 499 Q834.6 497 835.5 495 L837.6 496 Q836.7 497.9 836 499.8 Z"/>
<path fill="#ffff00" d="M838.1 494.9 L836.1 493.8 Q836.7 492.5 837.4 491.3 L839.5 492.4 Q838.8 493.6 838.1 494.9 Z"/>
<path fill="#ffff00" d="M840.1 491.3 L838.1 490.2 Q839.3 488.3 840.7 486.5 L842.6 487.8 Q841.3 489.5 840.1 491.3 Z"/>
<path fill="#ffff00" d="M843.4 486.8 L841.5 485.5 Q842.6 484.2 843.7 483 L845.5 484.5 Q844.4 485.6 843.4 486.8 Z"/>
<path fill="#ffff00" d="M846.4 483.6 L844.6 482.1 Q845.7 481 846.9 480 L848.6 481.5 Q847.5 482.5 846.4 483.6 Z"/>
<path fill="#ffff00" d="M849.6 480.7 L847.9 479.1 Q849.7 477.6 851.6 476.3 L853.1 478 Q851.3 479.3 849.6 480.7 Z"/>
<path fill="#ffff00" d="M854.2 477.3 L852.7 475.6 Q854 474.7 855.3 473.9 L856.7 475.7 Q855.4 476.5 854.2 477.3 Z"/>
<path fill="#ffff00" d="M857.8 475.1 L856.5 473.3 Q858.2 472.3 860.1 471.3 L861.2 473.2 Q859.5 474.1 857.8 475.1 Z"/>
<path fill="#ffff00" d="M862.4 472.7 L861.2 470.8 Q862.6 470.1 864 469.5 L865 471.5 Q863.7 472 862.4 472.7 Z"/>
<path fill="#ffff00" d="M866.1 471 L865.1 469 Q866.8 468.3 868.5 467.7 L869.4 469.7 Q867.7 470.3 866.1 471 Z"/>
<path fill="#ffff00" d="M870.5 469.3 L869.7 467.2 Q872.1 466.4 874.5 465.7 L875.1 467.7 Q872.8 468.4 870.5 469.3 Z"/>
<path fill="#ffff00" d="M876.3 467.4 L875.7 465.3 Q876.9 465 878 464.7 L878.5 466.8 Q877.4 467.1 876.3 467.4 Z"/>
<path fill="#ffff00" d="M879.7 466.5 L879.3 464.3 Q881.1 463.9 883 463.5 L883.4 465.7 Q881.5 466 879.7 466.5 Z"/>
<path fill="#ffff00" d="M884.6 465.4 L884.3 463.3 Q886.2 462.9 888 462.7 L888.2 464.9 Q886.4 465.1 884.6 465.4 Z"/>
<path fill="#ffff00" d="M889.4 464.8 L889.3 462.6 Q891.2 462.4 893 462.3 L892.9 464.5 Q891.2 464.6 889.4 464.8 Z"/>
<path fill="#ffff00" d="M894.2 464.5 L894.3 462.2 Q896.7 462.2 899.2 462.3 L898.9 464.5 Q896.6 464.4 894.2 464.5 Z"/>
<path fill="#ffff00" d="M900.2 464.6 L900.5 462.4 Q902.5 462.6 904.5 463 L904.1 465.1 Q902.1 464.8 900.2 464.6 Z"/>
<path fill="#ffff00" d="M905.3 465.4 L905.8 463.2 Q907.4 463.5 909 463.9 L908.4 466.1 Q906.9 465.7 905.3 465.4 Z"/>
<path fill="#ffff00" d="M909.6 466.4 L910.3 464.3 Q911.9 464.7 913.5 465.3 L912.7 467.4 Q911.2 466.9 909.6 466.4 Z"/>
<path fill="#ffff00" d="M913.9 467.9 L914.8 465.8 Q916.9 466.6 918.9 467.6 L917.9 469.7 Q915.9 468.7 913.9 467.9 Z"/>
<path fill="#ffff00" d="M919 470.2 L920.1 468.2 Q921.5 469 922.8 469.8 L921.7 471.7 Q920.4 471 919 470.2 Z"/>
<path fill="#ffff00" d="M922.7 472.4 L923.9 470.5 Q925.3 471.4 926.6 472.3 L925.3 474.1 Q924 473.2 922.7 472.4 Z"/>
<path fill="#ffff00" d="M926.3 474.9 L927.6 473.1 Q929.5 474.4 931.2 475.9 L929.7 477.6 Q928 476.2 926.3 474.9 Z"/>
<path fill="#ffff00" d="M930.6 478.4 L932.2 476.8 Q933.3 477.8 934.5 478.9 L932.9 480.5 Q931.8 479.4 930.6 478.4 Z"/>
<path fill="#ffff00" d="M933.8 481.4 L935.4 479.8 Q936.6 481.1 937.8 482.4 L936.1 483.9 Q935 482.6 933.8 481.4 Z"/>
<path fill="#ffff00" d="M936.9 484.8 L938.7 483.4 Q939.9 484.8 941.1 486.3 L939.2 487.6 Q938.1 486.2 936.9 484.8 Z"/>
<path fill="#ffff00" d="M940 488.5 L941.9 487.3 Q943 488.8 944.1 490.3 L942.1 491.5 Q941.1 490 940 488.5 Z"/>
<path fill="#ffff00" d="M942.8 492.5 L944.8 491.4 Q945.7 492.8 946.6 494.2 L944.5 495.2 Q943.7 493.9 942.8 492.5 Z"/>
<path fill="#ffff00" d="M945.1 496.3 L947.2 495.4 Q948.2 497.2 949.2 499.2 L947 500 Q946.1 498.1 945.1 496.3 Z"/>
<path fill="#ffff00" d="M947.5 501.1 L949.7 500.4 Q950.5 502.2 951.2 504.1 L949 504.8 Q948.3 502.9 947.5 501.1 Z"/>
<path fill="#ffff00" d="M949.4 505.9 L951.6 505.3 Q952.1 506.9 952.5 508.4 L950.2 508.9 Q949.8 507.4 949.4 505.9 Z"/>
<path fill="#ffff00" d="M950.5 510.1 L952.8 509.7 Q953.1 511.1 953.3 512.5 L951 512.8 Q950.8 511.4 950.5 510.1 Z"/>
<path fill="#ffff00" d="M951.2 514 L953.5 513.7 Q953.8 516.1 953.8 518.4 L951.5 518.5 Q951.5 516.2 951.2 514 Z"/>
<path fill="#ffff00" d="M951.5 519.7 L953.8 519.7 Q953.8 521.7 953.6 523.7 L951.3 523.7 Q951.5 521.7 951.5 519.7 Z"/>
<path fill="#ffff00" d="M920.8 526.6 921.1 527.4 921.9 528 925.4 529 926.2 528.9 931.4 524.6 931.9 523.7 931.8 522.9 931.5 522.3 926.8 516.8 925.7 516.5 922.7 517.1 921.8 517.7 921.2 519 920.8 521 920.6 524.3Z M917.2 534.3 917.1 535.2 917.5 536.1 921.4 539.7 922.5 540.1 923.3 539.8 923.8 539.4 926.9 535.2 927.2 534.4 926.1 531.2 925.6 530.5 924.9 530.2 921.4 529.2 920.3 529.6 918.8 531.3Z M911 542 910.1 544.7 910.1 545.6 911.3 547.6 912.4 548.2 914.1 548.2 921.3 544.7 921.9 544.1 922.2 543.3 922.1 542.4 921.8 541.8 917.2 537.5 916.3 537.2 915.6 537.3 915 537.6Z M900.2 547.5 899.3 548.1 899 549.2 899.9 553.7 900.5 554.5 901.4 554.8 907 554.8 907.6 554.6 908.3 554.2 910.4 549.2 910.2 548.2 908.9 546.4 908.3 546.1 907.2 545.9 904.3 546.1Z M890.8 549 890 549.5 889.6 550.4 889.4 554.9 889.7 555.9 890.5 556.4 895.7 557.7 896.5 557.7 897.1 557.4 898.5 555.8 898.8 554.9 897.8 549.7 897.5 549.1 896.9 548.5 896.1 548.3 892.4 548.6Z M876.6 549.8 876.4 550.9 876.8 551.9 883.9 558.3 884.8 558.6 885.6 558.4 887.9 556.4 888.1 555.6 888.2 550 887.7 549.2 885.8 548 881.7 547 879 547.1 878 547.7Z M872.9 550.5 873.9 550.6 874.9 550.1 877 546.9 877.1 546 876.9 545.2 875.9 543.6 873 541.4 870.5 538.9 869.2 538.4 868.3 538.5 865.1 541.2 864.6 542 864.6 542.9 866 546.8 866.7 547.7Z M865.6 531 864.8 530.1 863.8 529.9 858.2 531.8 857.4 532.4 857 533.4 857.6 538.7 857.8 539.3 858.2 539.8 858.9 540.2 863.2 540.9 864 540.5 867.3 537.5 867.7 536.6 867.6 535.3Z M861.3 519.6 856.2 519.2 855.4 519.7 855.1 520.3 855 520.9 855.4 529.5 856 530.5 857.1 530.8 863.3 528.7 864 528.1 864.3 527.1 863.6 522.8 862.2 520.1Z M859.1 507.2 858.3 507 857.5 507.2 855.9 508.5 855.5 509.2 856.3 516.7 856.6 517.4 857.5 517.9 861.8 518.3 862.7 517.8 864 515.9 865.1 511.8 865.1 511 864.9 510.4 864.4 510Z M864.6 508.6 865.7 508.8 866.7 508.2 869.1 504.3 869.3 503.5 869.2 502.9 868.7 502.1 864.7 499 864 498.8 861.4 499 860.7 499.4 860.3 500 859 504.4 859.1 505.3 859.8 506.2Z M866.5 498.7 870.1 501.5 870.8 501.6 872 501 876.1 497.8 877.2 496.6 877.7 495.4 877.7 494.5 876.1 491.4 875.5 490.9 874.7 490.7 870.2 491 869.5 491.3 869 491.9 866.2 496.7 866 497.7Z M887.7 492.7 888.4 492.1 888.6 491.5 888.9 486.6 888.4 485.6 887.3 484.5 886.7 484.2 885.5 484.2 878 487.6 877.4 488.2 877 489.3 877 490.5 878.7 493.6 879.1 494.1 879.7 494.4 881.7 494.6 883.9 494.2 886.1 493.6Z M889.9 491.2 890.2 492.3 891.1 493 895 493.1 898.3 493.7 899 493.6 900 493.2 900.6 492.5 901.6 489.2 901.6 488.4 901.3 487.8 899.5 485.7 898.7 485.2 898 485.2 891.3 486.3 890.5 486.8 890.1 487.5Z M902 493.7 903.2 495.1 905.7 496.3 908.7 498.1 909.6 498.3 910.4 498.1 910.9 497.6 913.3 494.4 913.5 493.4 913.3 492.6 910.5 488.3 909.8 487.8 909 487.7 904.1 488.5 903.2 489 902.7 489.8 901.9 492.9Z M911.8 498.5 911.5 499.6 911.8 500.5 914.3 503.1 915.8 505.1 916.6 505.6 917.5 505.6 918.1 505.3 922 502.3 922.5 501.5 922.5 500.8 922.2 500 918.6 495.2 917.7 494.6 915.7 494.4 914.8 494.7Z M917.9 508.5 920.1 514.1 921.4 515.5 921.9 515.8 922.6 515.8 926.2 515 926.7 514.6 927.9 512.7 928 511.7 926.7 503.7 926.4 503.1 925.8 502.5 924.8 502.2 923.9 502.5 918.1 507 917.9 507.6Z M938.6 528.7 938.7 527.9 938.5 527.1 936.3 524.9 935.6 524.5 933.9 524.5 933.1 524.8 927.8 529.4 927.4 530.1 927.3 530.9 928.4 533.6 928.8 534.2 933.5 536.4 934.5 536.6 935.3 536.2 935.7 535.7Z M927.3 546.8 928.4 547.2 929 547 929.5 546.6 933.7 540 933.9 539.4 933.9 538.6 933.3 537.8 929.1 535.9 928.3 536 927.6 536.4 923.8 541.4 923.4 542.2 923.5 543.6 923.9 544.3Z M917 548.1 916.5 548.5 916.2 549.1 916.1 549.7 916.2 550.4 920.9 555.7 921.5 556 922.2 556.1 924 555.8 924.8 555.4 925.2 554.7 926.8 549.2 926.7 548.3 926.2 547.6 923.6 545.7 922.7 545.5Z M909.4 554.8 909.3 555.8 910.6 559.9 911 560.5 911.8 560.9 916 561 916.8 560.8 919.4 558 919.7 557.3 919.7 556.5 919.4 555.8 914.1 550 913.3 549.5 912.2 549.6 911.4 550.2Z M900.7 556.1 899.6 556.5 898 558.2 897.7 559 897.8 559.7 899.2 564.7 899.8 565.3 900.5 565.5 906.1 566.1 907.1 565.8 907.6 565.2 909.6 561.4 909.5 560.7 908.2 556.8 907.6 556.2 906.9 556Z M885.7 560 885.2 560.7 884.6 562.8 884.7 563.5 884.9 564 892.9 569.4 893.9 569.6 894.7 569.3 897.7 566.1 897.9 565 896.6 560.1 896.3 559.5 895.7 559 889.1 557.5 888.3 557.8Z M871.5 558.5 871.3 559.3 871.6 560.1 872.9 561.8 873.6 562.3 881.6 564.1 882.6 563.9 883.3 563 883.8 560.9 883.5 559.8 876.2 553.1 875.7 552.7 874.7 552.7 873.7 553.4Z M862.2 553 861.8 553.9 862 555 864.4 559.1 864.9 559.5 865.8 559.6 869.2 559.1 869.9 558.7 870.3 558.1 872.4 552.8 872.2 552 871.5 551.3 867 549.3 866.2 549.1 865.2 549.6Z M863.4 543.2 862.9 542.5 862.3 542.1 857.6 541.2 856.8 541.4 854.7 542.8 854.3 543.9 854.3 551.2 854.5 551.8 854.8 552.4 855.7 552.8 859.5 553.1 860.3 553 860.9 552.6 864.3 548.6 864.7 547.9 864.7 547.1Z M855.7 532.7 855.1 531.7 854 531.2 848 532 847 532.6 846.7 533.4 846.7 534 848.6 540.1 849.2 540.9 849.9 541.2 853.3 541.9 854.1 541.6 855.9 540.4 856.3 539.2Z M845.4 529.4 845.9 530.4 847 530.9 852.7 530.1 853.6 529.6 853.9 529 854 528.3 853.7 521.8 853.2 520.8 852.2 520.3 846.9 520.5 846.1 520.8 844.9 522.1 844.6 522.6 844.5 523.3Z M854.3 510.2 854 509.4 853.3 508.9 848.1 507.1 847.2 507.4 843.9 510.1 843.5 510.9 843.5 511.8 846.1 518.2 846.4 518.7 847 519.1 847.7 519.2 853.6 519 854.6 518.5 855 517.9 855.1 517.3Z M859.1 499.6 859.1 498.8 858.8 498.2 855.7 495.3 854.8 494.9 853.8 495 848 500.5 847.8 501.5 848.4 505.3 849.1 506 853.6 507.7 854.5 507.8 855.1 507.5 857.4 505.4Z M856 491.1 855.5 491.5 855.2 492.2 855.3 492.9 855.6 493.5 859.9 497.4 861.1 497.7 863.6 497.5 864.4 497.1 867.7 491.6 867.9 490.8 867.6 489.8 865.1 486.6 864.4 486.1 863.7 486 862.8 486.3Z M866.3 483.3 865.6 484.2 865.7 485.3 869.3 489.6 870 489.8 874.7 489.4 875.5 489.1 875.9 488.5 876.2 487.7 876.2 486.9 873.6 480.6 872.8 479.7 871.9 479.5 871.1 479.7Z M885 483.1 885.6 482.6 886 481.8 885.8 478.6 885.3 477.7 884 476.5 883.5 476.1 882.4 476.2 876 478.5 875.3 479 875 479.6 874.9 480.6 876.7 484.9 877.1 485.5 877.7 485.8 878.8 485.9Z M889.2 484.6 889.8 485.1 890.5 485.1 897.3 484 898 483.7 898.5 483.1 898.7 482.5 899.1 478.1 898.6 477 896.5 475 895.4 474.8 887.7 478.1 887.3 478.6 887.1 479.2 887.3 482.3 887.6 483Z M902.1 486.8 902.8 487.3 903.5 487.3 909.4 486.3 910.2 485.7 911.7 482.6 911.8 481.8 911.5 480.9 907.2 476.5 906.6 476.1 905.6 476 901.4 477.3 900.7 477.8 900.4 478.3 899.9 483.9 900.2 484.5Z M922.2 488.7 922.6 487.6 922.2 486.5 917.3 481.7 916.5 481.3 915.5 481.3 913.9 481.9 913.4 482.3 911.3 486.4 911.4 487.5 914.6 492.3 915.1 492.8 915.7 493.1 917.5 493.3 918.4 493Z M930.6 499.1 931.3 498.3 932.1 496.2 932.1 495.6 931.9 494.9 925.1 489.3 924.2 489.1 923.3 489.4 920 493.2 919.7 494 920 495 924 500.4 924.5 500.8 925.2 501 926.9 501.1Z M935.8 510.9 936.9 510.4 937.3 509.5 937.2 505.5 936.9 504.8 931.9 500.4 930.8 500.4 928.4 501.8 928 502.4 927.9 503.2 929 510.2 929.3 510.9 930 511.4 930.8 511.6Z M934.8 523.2 935.6 523.1 936.4 522.4 939.9 515.2 940 514.4 939.7 513.8 938.2 512.3 937.6 512 937 512 929.6 513 928.8 513.6 928 515 928 515.8 928.3 516.4 933.3 522.6 934 523.1Z M948.1 515.4 947.4 514.7 946.6 514.5 942.3 514.8 941.3 515.4 937.4 523.4 937.8 524.6 939.9 526.7 940.6 527 946 527.8 946.8 527.6 947.4 527.1 949.2 524 949.4 521.4 949.4 518.2Z M936.7 536.5 936.7 537.6 937.4 538.5 942.2 541.1 943 541.2 943.8 540.9 944.4 540.5 944.8 539.9 947.2 533.5 947 530.6 946.8 529.8 946.3 529.3 945.6 529 941.3 528.4 940.3 528.7 939.6 529.5Z M937 550.7 938.1 550.9 939.1 550.3 942.1 545.1 942.3 543.5 942.1 542.8 941.6 542.2 937.2 539.8 936.2 539.7 935.5 539.9 934.9 540.4 931.5 545.9 931.3 546.9 931.5 547.5 932.1 548.1Z M926.3 555.2 926.3 556.1 926.6 556.7 929.3 559.8 930.2 560.4 931 560.4 931.8 559.9 935 556.1 936.7 553.8 936.8 552.7 936.5 552.1 935.9 551.5 930.2 548.6 929.2 548.5 928.5 548.8 928 549.5Z M921.3 567 922.2 567.7 922.9 567.7 923.5 567.5 928 563.8 928.7 562.4 928.8 561.6 928.5 560.8 925.7 557.6 925 557.2 924.2 557.1 921.5 557.6 918.4 561.2 918.3 561.8 918.4 562.7Z M910.1 571.8 911 572.7 912.6 573.1 913.3 573 914.8 572.7 917.2 571.5 920.2 569.7 920.5 568.8 920.3 567.8 916.7 562.6 916 562.3 911.6 562.2 910.8 562.4 910.3 562.9 908.5 566.1 908.3 566.9Z M894.6 574.1 894.8 574.9 895.4 575.6 897.8 576.4 901.8 576.2 907.2 575.2 908.7 573.6 909 572.5 907.4 568.3 906.7 567.6 905.9 567.3 899.5 566.7 898.6 567.1 894.9 570.9 894.6 571.7Z M885 565.7 884.4 565.5 883.7 565.5 883 565.9 882.5 566.4 880.1 572.6 880 573.4 880.4 574.1 881.2 574.8 881.9 575.1 889.8 576.3 890.5 576.2 892.7 575 893.2 574.5 893.4 573.8 893.4 572 893 571Z M870.9 570.1 870.9 571.2 871.2 571.8 871.8 572.2 874.3 573.1 876.6 573.6 877.8 573.4 878.4 573.1 878.8 572.5 880.9 567.1 880.8 566 880.4 565.3 879.8 565 874.7 563.8 873.7 563.9 873.2 564.2 872.8 564.8Z M862.1 565.3 861.8 566.1 862 566.9 863.8 568.8 867.5 570.5 868.5 570.6 869.2 570.3 869.7 569.7 871.8 563.7 871.9 562.7 870.6 560.9 869.7 560.4 865.4 561 864.5 561.6Z M859 565.4 860 565.4 860.9 564.8 863.2 561.2 863.4 560.4 863.3 559.7 860.7 555.2 860.1 554.6 859.3 554.4 854.7 554 853.8 554.2 851.2 556.7 851.1 557.7 851.6 559.7 854.1 562.7 856.4 564.4Z M842.8 545.2 842.1 545.9 841.9 546.7 842.7 549.5 844.8 552.8 847.1 555 849.1 555.7 850 555.7 850.6 555.4 852.7 553.4 853.1 552.3 853 544.5 852.8 543.7 852.4 543.2 851.7 542.9 848.4 542.3Z M838.5 534.7 837.6 535.4 837.4 536.6 839.2 542.2 840.5 543.7 841.4 544.1 842.3 544 846.9 541.5 847.2 540.9 847.3 540 845.4 534 844.9 533.2 844.1 532.9 843.3 532.9Z M841.8 523.2 836.4 523.5 835.8 523.9 835.4 524.9 835.8 528.9 836.4 532.2 836.7 532.7 837.3 533.2 838.3 533.4 843.5 531.4 844 530.8 844.2 530 843.4 524.6 843 523.7 842.5 523.3Z M835.1 520.4 835.2 521.1 835.6 521.7 836.2 522 836.9 522.1 843.1 521.8 843.8 521.4 844.7 520.4 845.1 519.6 845 518.9 842.2 512 841.6 511.3 837.4 510.3 836.5 510.7 835.6 511.6 835.4 512.2 835.2 513.7Z M840.7 498.3 840.1 498.1 839.4 498.2 838.9 498.6 838.5 499.1 837.3 502.3 836.3 506.7 836.8 508.2 837.5 508.9 841.8 509.8 842.8 509.4 846.5 506.3 846.9 505.6 847 505 846.6 501.7 846.1 500.8Z M842.3 491.7 840.3 495.4 840.3 496 841 497 845.9 499.2 846.9 499.4 847.8 498.9 853.1 493.8 853.6 493.1 853.6 492.3 853.2 491.5 849.5 487.4 848.6 487.1 847 487.3 846.3 487.5 844.4 488.9Z M857 477.9 853 480.6 851.1 482.8 850.3 485.2 850.3 485.9 850.6 486.7 853.4 489.7 854.1 490.1 854.7 490.2 855.5 489.9 862.2 485.2 862.8 484.3 862.9 483.6 862.7 483 859.2 478.3 858.1 477.7Z M861.2 475.5 860.6 475.9 860.3 476.5 860.2 477.1 860.4 477.7 863.5 481.9 864.3 482.4 865 482.5 865.7 482.2 870.6 478.6 871.1 477.6 871.1 476.8 869.7 473.5 869.2 473 868.5 472.6 867.1 472.7Z M871.9 470.9 871.4 471.2 871 471.7 870.8 472.8 872.5 476.9 872.9 477.4 873.4 477.7 874.5 477.7 881.6 475.1 882.3 474.7 882.7 473.9 882.2 469.9 881.8 469.2 881.1 468.8 879.3 468.6Z M884.5 467.9 883.8 468.4 883.5 469.4 884.1 474.4 884.5 475.2 886.2 476.7 886.9 476.8 887.6 476.7 894.3 473.8 895.2 473 895.3 472.1 895.1 468.3 894.8 467.5 894.2 467 892.2 466.6 889.9 466.7 886.4 467.1Z M897.6 466.9 896.9 467.3 896.4 468.2 896.6 472.9 897 473.8 899.2 475.8 899.9 476.2 900.7 476.3 905.3 474.8 906.1 474.2 907.7 469.7 907.7 468.9 907.2 468 905.8 467.5 901.8 466.8 898.8 466.6Z M910.3 468.9 909.6 469.2 908.9 470 907.6 474 907.7 475.2 912.8 480.4 913.9 480.6 915.9 479.8 916.6 479.2 919.2 475 919.3 474.4 919.2 473.6 918.4 472.3 917.1 471.5 913.4 469.8 911 469Z M918.2 479 917.9 479.9 918.3 481 922.8 485.3 923.7 485.8 924.3 485.8 925.1 485.4 928.6 481.7 929.1 480.8 929 479.9 928.5 479.2 923.9 475.6 922.8 475 921.3 475 920.5 475.4Z M929.8 482.3 925.8 486.7 925.7 487.3 926.1 488.4 932.5 493.5 933.2 493.7 934 493.6 936.3 491.8 936.8 491.2 936.9 490.4 936.3 487.3 932.8 483.3 931.6 482.2 930.6 482Z M937.2 503.3 937.9 503.7 938.7 503.7 943.6 502 944.4 501.4 944.7 500.7 944.7 500 944.2 499 941.5 494.2 939.5 492.6 938.5 492.3 937.4 492.6 934 495.2 933.6 495.8 932.7 498.2 932.7 498.9 933.1 499.7Z M939.6 504.7 938.8 505.3 938.5 506.2 938.6 510.4 939.1 511.4 941 513.2 941.7 513.5 946.6 513.2 947.4 512.7 947.9 511.9 948.1 509.2 947.2 506 946.2 503.5 945.5 503.1 944.7 503Z"/>
<path d="M921 520.8 L920.6 523.2 L920 525.5 L919.1 527.8 L918.2 529.9 L917.1 532 L915.9 534 L914.7 536 L913.3 537.9 L911.8 539.7 L910.2 541.5 L908.4 543.1 L906.3 544.4 L904.2 545.6 L901.9 546.5 L899.5 547.1 L897.1 547.5 L894.6 547.7 L892.2 547.7 L889.8 547.6 L887.4 547.3 L884.9 546.9 L882.5 546.4 L880.2 545.7 L877.9 544.8 L875.7 543.6 L873.7 542.1 L871.9 540.4 L870.3 538.5 L869 536.5 L868 534.3 L867.1 532.1 L866.5 529.8 L865.9 527.6 L865.5 525.3 L865.1 523.1 L864.8 520.8 L864.6 518.5 L864.6 516.1 L864.8 513.7 L865.3 511.4 L866.1 509.1 L867.2 506.9 L868.6 504.9 L870.3 503 L872.1 501.4 L874.1 499.9 L876.1 498.6 L878.2 497.5 L880.4 496.4 L882.7 495.5 L885 494.7 L887.3 494.1 L889.7 493.6 L892.2 493.5 L894.7 493.5 L897.1 493.9 L899.5 494.6 L901.8 495.5 L903.9 496.6 L906 497.8 L907.9 499.2 L909.8 500.6 L911.6 502.1 L913.4 503.7 L915 505.4 L916.6 507.2 L918.1 509.2 L919.3 511.3 L920.2 513.6 L920.8 515.9 L921.1 518.4 Z" fill="#000"/>
<path fill="#bfbf40" d="M916.9 521.6 L919.8 521.7 Q919.2 525.4 917.6 528.6 L915 527.8 Q916.4 524.9 916.9 521.6 Z"/>
<path fill="#bfbf40" d="M914.4 528.9 L917 529.8 Q915.6 532.6 913.9 535.2 L911.7 533.7 Q913.2 531.4 914.4 528.9 Z"/>
<path fill="#bfbf40" d="M911 534.7 L913.2 536.3 Q910.8 539.8 907.3 542.5 L905.7 540.3 Q908.9 537.9 911 534.7 Z"/>
<path fill="#bfbf40" d="M904.7 541 L906.1 543.3 Q902.8 545.4 899 546.1 L898.3 543.5 Q901.7 542.8 904.7 541 Z"/>
<path fill="#bfbf40" d="M897.1 543.7 L897.6 546.3 Q894.1 546.8 890.6 546.6 L890.7 543.9 Q893.9 544.1 897.1 543.7 Z"/>
<path fill="#bfbf40" d="M889.5 543.8 L889.2 546.5 Q884.9 546.1 880.8 544.8 L881.9 542.3 Q885.7 543.5 889.5 543.8 Z"/>
<path fill="#bfbf40" d="M880.8 541.8 L879.5 544.3 Q876.3 543 873.8 540.8 L875.7 538.7 Q878 540.7 880.8 541.8 Z"/>
<path fill="#bfbf40" d="M874.8 537.9 L872.8 539.8 Q870.7 537.6 869.4 534.9 L871.8 533.4 Q872.9 535.9 874.8 537.9 Z"/>
<path fill="#bfbf40" d="M871.3 532.3 L868.9 533.7 Q867.4 529.9 866.7 526.1 L869.4 525.5 Q870 529 871.3 532.3 Z"/>
<path fill="#bfbf40" d="M869.1 524.4 L866.5 524.8 Q865.7 520.9 865.7 516.7 L868.4 517.1 Q868.4 520.9 869.1 524.4 Z"/>
<path fill="#bfbf40" d="M868.5 515.9 L865.8 515.3 Q866 512.5 867.1 509.7 L869.7 510.9 Q868.7 513.3 868.5 515.9 Z"/>
<path fill="#bfbf40" d="M870.2 509.8 L867.6 508.5 Q870 504 874.2 501.1 L876.1 503.2 Q872.3 505.8 870.2 509.8 Z"/>
<path fill="#bfbf40" d="M877.1 502.5 L875.3 500.4 Q878.2 498.5 881.3 497.2 L882.4 499.6 Q879.7 500.8 877.1 502.5 Z"/>
<path fill="#bfbf40" d="M883.6 499.2 L882.6 496.7 Q886.1 495.2 890 494.7 L890.2 497.4 Q886.7 497.9 883.6 499.2 Z"/>
<path fill="#bfbf40" d="M891.4 497.3 L891.4 494.6 Q894.4 494.4 897.3 495.1 L896.8 497.7 Q894.2 497.1 891.4 497.3 Z"/>
<path fill="#bfbf40" d="M898 498 L898.7 495.4 Q902.1 496.5 905 498.4 L903.7 500.7 Q901.1 499 898 498 Z"/>
<path fill="#bfbf40" d="M904.7 501.4 L906.1 499.2 Q910 501.9 913.4 505.2 L911.2 506.8 Q908.2 503.8 904.7 501.4 Z"/>
<path fill="#bfbf40" d="M912.1 507.7 L914.4 506.2 Q916.6 508.6 918.2 511.5 L915.5 512.5 Q914.1 509.8 912.1 507.7 Z"/>
<path fill="#bfbf40" d="M916 513.6 L918.7 512.8 Q920.2 516.4 919.9 520.4 L917.1 520.4 Q917.3 516.9 916 513.6 Z"/>
<path fill="#bfbf40" d="M913.2 522.2 L915.2 522.4 Q914.8 524.5 913.9 526.5 L912 526 Q912.8 524.2 913.2 522.2 Z"/>
<path fill="#bfbf40" d="M911.5 527.1 L913.4 527.7 Q912.5 529.4 911.6 531.1 L909.9 530.2 Q910.8 528.7 911.5 527.1 Z"/>
<path fill="#bfbf40" d="M909.3 531.2 L910.9 532.2 Q909.8 534 908.4 535.7 L907 534.4 Q908.2 532.8 909.3 531.2 Z"/>
<path fill="#bfbf40" d="M906.2 535.3 L907.5 536.7 Q906.4 537.9 905.1 538.9 L904 537.3 Q905.2 536.4 906.2 535.3 Z"/>
<path fill="#bfbf40" d="M903 538 L904 539.7 Q902.6 540.5 901.1 541.1 L900.3 539.4 Q901.7 538.8 903 538 Z"/>
<path fill="#bfbf40" d="M899.1 539.8 L899.8 541.6 Q897.8 542.2 895.7 542.4 L895.4 540.5 Q897.3 540.3 899.1 539.8 Z"/>
<path fill="#bfbf40" d="M894.2 540.6 L894.3 542.5 Q891.9 542.6 889.5 542.4 L889.7 540.5 Q891.9 540.7 894.2 540.6 Z"/>
<path fill="#bfbf40" d="M888.5 540.3 L888.1 542.2 Q886.2 542 884.2 541.4 L884.9 539.6 Q886.7 540.1 888.5 540.3 Z"/>
<path fill="#bfbf40" d="M883.7 539.3 L882.9 541.1 Q881.2 540.5 879.7 539.7 L880.8 538 Q882.2 538.8 883.7 539.3 Z"/>
<path fill="#bfbf40" d="M879.7 537.4 L878.5 539 Q877.2 538.1 876.1 537 L877.5 535.5 Q878.5 536.6 879.7 537.4 Z"/>
<path fill="#bfbf40" d="M876.6 534.6 L875.1 536 Q873.5 534 872.6 531.7 L874.3 530.7 Q875.2 532.8 876.6 534.6 Z"/>
<path fill="#bfbf40" d="M873.9 529.6 L872.1 530.5 Q871.5 528.6 871.1 526.7 L873 526.2 Q873.3 527.9 873.9 529.6 Z"/>
<path fill="#bfbf40" d="M872.7 525.1 L870.8 525.5 Q870.5 524.1 870.3 522.7 L872.3 522.6 Q872.5 523.8 872.7 525.1 Z"/>
<path fill="#bfbf40" d="M872.1 521.4 L870.2 521.5 Q869.9 519.5 869.9 517.4 L871.9 517.7 Q871.9 519.6 872.1 521.4 Z"/>
<path fill="#bfbf40" d="M871.9 516.5 L870 516.1 Q870.1 514.3 870.7 512.6 L872.6 513.4 Q872.1 514.9 871.9 516.5 Z"/>
<path fill="#bfbf40" d="M873 512.2 L871.1 511.4 Q871.8 509.7 872.9 508.3 L874.6 509.4 Q873.6 510.7 873 512.2 Z"/>
<path fill="#bfbf40" d="M875.4 508.4 L873.7 507.2 Q875.4 505.4 877.5 504 L878.8 505.4 Q876.9 506.7 875.4 508.4 Z"/>
<path fill="#bfbf40" d="M879.8 504.8 L878.6 503.2 Q879.9 502.5 881.2 501.8 L882.2 503.5 Q881 504.1 879.8 504.8 Z"/>
<path fill="#bfbf40" d="M883.3 502.9 L882.5 501.2 Q884.2 500.4 886 499.8 L886.5 501.7 Q884.9 502.2 883.3 502.9 Z"/>
<path fill="#bfbf40" d="M887.7 501.3 L887.3 499.5 Q889.8 498.7 892.4 498.7 L892.4 500.7 Q890 500.7 887.7 501.3 Z"/>
<path fill="#bfbf40" d="M893.7 500.7 L893.8 498.7 Q895.1 498.8 896.4 499.1 L896.1 501 Q894.9 500.8 893.7 500.7 Z"/>
<path fill="#bfbf40" d="M897.3 501.4 L897.8 499.5 Q900.1 500.3 902.2 501.5 L901.3 503.2 Q899.4 502.1 897.3 501.4 Z"/>
<path fill="#bfbf40" d="M902.4 503.9 L903.3 502.2 Q905 503.3 906.5 504.5 L905.2 506 Q903.8 504.9 902.4 503.9 Z"/>
<path fill="#bfbf40" d="M906.1 506.7 L907.5 505.4 Q908.6 506.3 909.6 507.3 L908.1 508.5 Q907.1 507.6 906.1 506.7 Z"/>
<path fill="#bfbf40" d="M909 509.4 L910.6 508.3 Q912 509.7 913.1 511.4 L911.3 512.3 Q910.2 510.7 909 509.4 Z"/>
<path fill="#bfbf40" d="M911.9 513.3 L913.8 512.6 Q914.7 514.2 915.2 516 L913.1 516.5 Q912.7 514.8 911.9 513.3 Z"/>
<path fill="#bfbf40" d="M913.4 517.7 L915.4 517.4 Q915.7 519.2 915.5 521 L913.4 521 Q913.6 519.3 913.4 517.7 Z"/>
<path d="M912.2 520.8 L911.8 522.5 L911.2 524 L910.5 525.5 L909.7 527 L908.9 528.3 L908.1 529.7 L907.3 531 L906.5 532.3 L905.5 533.6 L904.5 534.9 L903.2 536 L901.9 537 L900.4 537.8 L898.8 538.4 L897.2 538.8 L895.5 539 L893.9 539.1 L892.2 539.1 L890.6 539 L888.9 538.8 L887.2 538.6 L885.6 538.4 L883.9 538 L882.3 537.4 L880.7 536.6 L879.3 535.6 L878.1 534.4 L877.1 533 L876.3 531.6 L875.7 530 L875.2 528.4 L874.9 526.9 L874.6 525.3 L874.4 523.8 L874.1 522.3 L873.8 520.8 L873.5 519.2 L873.4 517.6 L873.4 515.9 L873.7 514.3 L874.1 512.7 L874.9 511.2 L875.9 509.8 L877 508.5 L878.4 507.4 L879.8 506.5 L881.2 505.7 L882.7 504.9 L884.2 504.2 L885.7 503.6 L887.3 503 L888.9 502.5 L890.5 502.2 L892.2 502 L893.9 502.1 L895.6 502.4 L897.2 502.9 L898.7 503.5 L900.1 504.4 L901.5 505.3 L902.8 506.2 L904 507.2 L905.3 508.2 L906.5 509.2 L907.7 510.3 L908.9 511.5 L910 512.8 L911 514.2 L911.7 515.8 L912.2 517.4 L912.3 519.1 Z" fill="#bfbf40"/>
<ellipse cx="887.6" cy="517.4" rx="4.5" ry="4.3" fill="none" stroke="#000" stroke-width="1.2"/>
<path d="M889.6 527.2 C890.8 523.6 895.6 521.4 898 523.2 C899.2 526 897.6 529.8 894 530.8 C891.2 530.8 889.2 529.4 889.6 527.2 Z" fill="none" stroke="#000" stroke-width="1.2"/>
<ellipse cx="878.6" cy="512.8" rx="1.9" ry="1.9" fill="none" stroke="#000" stroke-width="1.2"/>
<ellipse cx="884.5" cy="509" rx="1.9" ry="1.9" fill="none" stroke="#000" stroke-width="1.2"/>
<ellipse cx="890.4" cy="507.4" rx="1.9" ry="1.9" fill="none" stroke="#000" stroke-width="1.2"/>
<ellipse cx="894" cy="512" rx="1.9" ry="1.9" fill="none" stroke="#000" stroke-width="1.2"/>
<ellipse cx="900.4" cy="515" rx="1.9" ry="1.9" fill="none" stroke="#000" stroke-width="1.2"/>
<ellipse cx="902" cy="520.6" rx="1.9" ry="1.9" fill="none" stroke="#000" stroke-width="1.2"/>
<ellipse cx="902.6" cy="527.2" rx="1.9" ry="1.9" fill="none" stroke="#000" stroke-width="1.2"/>
<ellipse cx="897.8" cy="531.2" rx="1.9" ry="1.9" fill="none" stroke="#000" stroke-width="1.2"/>
<ellipse cx="891" cy="534.6" rx="1.9" ry="1.9" fill="none" stroke="#000" stroke-width="1.2"/>
<ellipse cx="885.2" cy="529.4" rx="1.9" ry="1.9" fill="none" stroke="#000" stroke-width="1.2"/>
<ellipse cx="879" cy="527.8" rx="1.9" ry="1.9" fill="none" stroke="#000" stroke-width="1.2"/>
<ellipse cx="879" cy="522" rx="1.9" ry="1.9" fill="none" stroke="#000" stroke-width="1.2"/>
</g>
</svg>
</body></html>
